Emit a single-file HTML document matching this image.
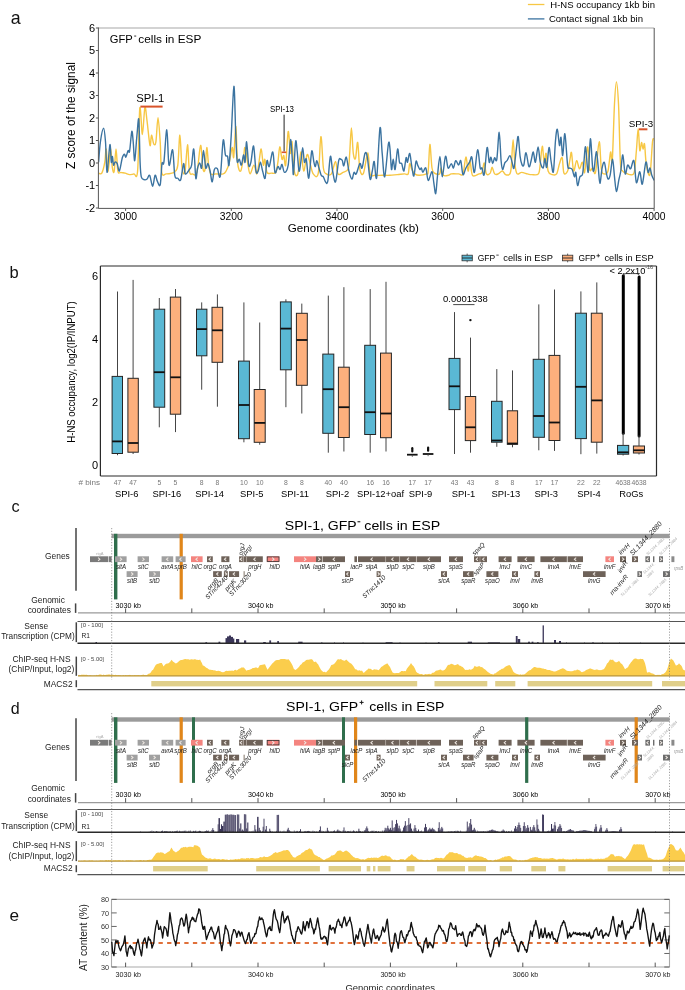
<!DOCTYPE html>
<html><head><meta charset="utf-8"><style>
html,body{margin:0;padding:0;background:#fff;overflow:hidden}
svg{display:block}
text{font-family:"Liberation Sans", sans-serif}
</style></head><body>
<svg style="will-change:transform" width="685" height="990" viewBox="0 0 685 990">
<rect width="685" height="990" fill="#fff"/>
<text x="10.8" y="23.8" font-size="17.8" fill="#111" >a</text>
<text x="9.6" y="278.2" font-size="16.5" fill="#111" >b</text>
<text x="11.6" y="512.4" font-size="16.3" fill="#111" >c</text>
<text x="10.8" y="714.4" font-size="16.0" fill="#111" >d</text>
<text x="9.4" y="921.2" font-size="17.2" fill="#111" >e</text>
<defs><clipPath id="ca"><rect x="98.4" y="28" width="556" height="181"/></clipPath></defs>
<g clip-path="url(#ca)">
<path d="M98.6,173.1 C99.1,173.1 100.8,174.9 101.8,173.1 C102.8,171.3 104.1,166.2 104.8,162.2 C105.5,158.2 105.7,147.5 106.2,149 C106.7,150.5 107.2,168.6 107.7,171 C108.2,173.4 108.6,167.3 109.1,163.6 C109.6,159.9 110.0,148.3 110.6,149 C111.1,149.7 111.8,164.3 112.4,168 C113.0,171.7 113.6,174.2 114.2,171 C114.8,167.8 115.4,149.0 116,149 C116.6,149.0 117.1,167.1 117.9,171 C118.7,174.9 119.6,172.1 120.8,172.4 C122.0,172.8 123.7,172.7 125.2,173.1 C126.7,173.5 128.1,174.5 129.6,174.6 C131.1,174.7 132.7,174.5 134,173.9 C135.3,173.3 136.6,181.9 137.6,171 C138.6,160.1 139.0,114.3 139.8,108.2 C140.6,102.1 141.6,134.6 142.4,134.5 C143.2,134.4 144.1,109.6 144.9,107.4 C145.7,105.2 146.2,115.0 147.1,121.3 C147.9,127.6 149.3,143.1 150,145.4 C150.7,147.7 150.9,135.4 151.5,135.2 C152.1,134.9 153.0,142.8 153.7,143.9 C154.4,145.0 155.2,146.2 155.9,141.8 C156.6,137.4 157.3,117.7 158,117.7 C158.7,117.7 159.6,132.7 160.2,141.8 C160.8,150.9 160.7,167.1 161.7,172.4 C162.7,177.8 164.4,173.8 166.1,173.9 C167.8,174.0 170.4,173.5 171.9,173.1 C173.4,172.7 173.8,173.0 174.8,171.7 C175.8,170.4 177.0,171.2 177.8,165.1 C178.7,159.0 179.2,134.7 179.9,135.2 C180.6,135.7 181.2,161.9 182.1,168 C182.9,174.1 184.1,175.6 185,171.7 C185.9,167.8 186.8,144.8 187.5,144.7 C188.2,144.6 188.6,166.1 189.4,171 C190.2,175.9 191.2,173.7 192.4,173.9 C193.7,174.1 195.5,177.2 196.9,172.4 C198.3,167.7 199.6,146.1 200.6,145.4 C201.6,144.7 202.1,164.0 202.8,168 C203.5,172.0 204.3,172.9 205,169.5 C205.7,166.1 206.2,148.3 206.8,147.6 C207.4,146.9 207.9,160.7 208.6,165.1 C209.3,169.5 209.6,172.4 210.8,173.9 C212.0,175.4 213.8,173.9 215.9,173.9 C218.0,173.9 221.5,174.4 223.2,173.9 C224.9,173.4 225.1,172.7 226.1,171 C227.1,169.3 228.0,167.5 229,163.6 C230.0,159.7 231.4,148.7 232.2,147.6 C233.0,146.5 233.1,160.6 233.7,157.1 C234.3,153.6 235.3,125.6 235.9,126.4 C236.5,127.2 236.7,154.8 237.5,162.2 C238.3,169.6 239.7,172.0 240.7,171 C241.7,170.0 242.9,160.3 243.6,156.4 C244.3,152.5 244.4,146.2 245.1,147.6 C245.8,149.0 247.2,160.7 248,165.1 C248.8,169.5 249.2,173.9 250.2,173.9 C251.2,173.9 252.8,165.1 253.9,165.1 C255.0,165.1 256.0,174.4 256.8,173.9 C257.7,173.4 258.3,166.3 259,162.2 C259.7,158.0 260.5,148.5 261.2,149 C261.9,149.5 262.7,163.4 263.3,165.1 C263.9,166.8 264.2,158.1 264.8,159.3 C265.4,160.5 265.9,170.1 267,172.4 C268.1,174.7 269.9,173.1 271.4,173.1 C272.9,173.1 274.7,174.2 275.8,172.4 C276.9,170.6 277.2,166.4 277.9,162.2 C278.6,157.9 279.1,147.4 279.8,146.9 C280.5,146.4 281.3,157.9 282,159.3 C282.7,160.8 283.2,154.6 283.8,155.6 C284.4,156.6 285.0,169.1 285.7,165.1 C286.4,161.1 287.4,133.4 288.2,131.5 C289.0,129.6 289.8,151.7 290.4,153.4 C291.0,155.1 291.4,138.9 292,141.8 C292.6,144.7 293.2,165.7 294.2,171 C295.2,176.3 296.7,177.1 297.8,173.9 C298.9,170.7 300.0,152.5 301,152 C302.0,151.5 302.7,170.5 303.7,171 C304.7,171.5 306.0,156.6 307,154.9 C308.0,153.2 308.5,157.5 309.5,160.7 C310.5,163.9 311.7,171.8 313.2,173.9 C314.7,176.0 317.0,179.3 318.3,173.1 C319.6,166.9 320.0,137.4 320.9,136.6 C321.8,135.8 322.5,161.8 323.4,168 C324.3,174.2 325.0,172.9 326.3,173.9 C327.6,174.9 329.9,176.0 331.4,173.9 C332.9,171.8 334.4,161.5 335.5,161.5 C336.6,161.5 336.7,172.1 338,173.9 C339.3,175.7 341.4,173.2 343.1,172.4 C344.8,171.6 347.1,172.0 348.2,168.8 C349.3,165.6 349.2,160.2 349.7,153.4 C350.2,146.6 350.8,127.9 351.4,127.9 C352.0,127.9 352.6,148.3 353.3,153.4 C354.0,158.5 354.8,160.3 355.5,158.5 C356.2,156.7 357.0,140.7 357.7,142.5 C358.4,144.3 358.9,164.4 359.9,169.5 C360.9,174.6 362.2,175.9 363.5,173.1 C364.8,170.3 366.8,152.6 367.9,152.7 C369.0,152.8 368.9,170.1 370.1,173.9 C371.3,177.7 373.1,175.1 375.2,175.3 C377.3,175.5 380.0,175.3 382.5,175.3 C385.0,175.3 387.5,175.4 390,175.3 C392.5,175.2 394.9,174.8 397.3,174.6 C399.7,174.4 402.8,174.0 404.6,173.9 C406.4,173.8 407.4,175.6 408.2,173.9 C409.0,172.2 409.1,164.3 409.7,163.6 C410.3,162.9 411.0,167.8 411.9,169.5 C412.8,171.2 413.6,172.9 414.8,173.9 C416.0,174.9 417.2,175.3 419.2,175.3 C421.1,175.3 425.0,174.6 426.5,173.9 C428.0,173.2 427.6,175.9 428.2,171 C428.8,166.1 429.3,144.9 429.9,144.4 C430.5,143.9 431.2,163.2 432,168 C432.8,172.8 433.2,172.1 434.5,173.1 C435.8,174.1 438.5,174.8 439.6,173.9 C440.7,173.1 440.5,167.8 441.1,168 C441.7,168.2 442.1,174.1 443.3,175.3 C444.5,176.5 447.1,175.5 448.4,175.3 C449.7,175.1 449.6,174.1 451.3,173.9 C453.0,173.7 456.7,173.9 458.6,173.9 C460.6,173.9 461.8,176.7 463,173.9 C464.2,171.1 465.0,157.6 465.9,157.1 C466.8,156.6 467.4,170.4 468.1,171 C468.8,171.6 469.3,160.0 470,160.7 C470.7,161.4 471.0,173.1 472.5,175.3 C474.0,177.5 477.5,174.4 479.1,173.9 C480.7,173.4 481.1,174.2 482,172.4 C482.9,170.6 483.5,162.7 484.2,162.9 C484.9,163.2 485.4,172.2 486.4,173.9 C487.4,175.6 489.2,174.2 490.2,173.1 C491.1,172.0 491.4,167.2 492.1,167.3 C492.8,167.4 493.6,172.8 494.6,173.9 C495.6,175.0 496.9,174.4 498.2,173.9 C499.5,173.4 501.1,170.9 502.3,171 C503.5,171.1 504.2,174.1 505.5,174.6 C506.8,175.1 508.9,175.5 509.9,173.9 C510.9,172.3 510.9,170.8 511.4,165.1 C511.9,159.4 512.5,139.6 513.1,139.6 C513.7,139.6 514.3,159.4 515,165.1 C515.7,170.8 516.1,172.7 517.2,173.9 C518.3,175.1 519.9,172.4 521.6,172.4 C523.3,172.4 525.7,173.5 527.4,173.9 C529.1,174.3 530.0,174.6 531.8,174.6 C533.6,174.6 537.0,175.7 538.4,173.9 C539.8,172.1 539.6,168.2 540.3,163.6 C540.9,159.0 541.6,146.3 542.3,146.1 C542.9,145.9 543.6,161.0 544.2,162.2 C544.8,163.4 545.5,151.9 546.1,153.4 C546.8,154.9 547.1,167.5 548.1,171 C549.1,174.5 550.8,174.1 552.2,174.6 C553.6,175.1 555.4,175.7 556.6,173.9 C557.8,172.1 558.6,166.3 559.5,163.6 C560.4,160.9 561.5,156.2 562.2,157.8 C562.9,159.4 563.0,170.9 563.9,173.1 C564.8,175.3 566.6,173.3 567.6,171 C568.6,168.7 569.4,162.4 570,159.3 C570.6,156.2 570.9,150.8 571.5,152.7 C572.1,154.6 572.8,169.7 573.6,171 C574.5,172.3 575.6,161.1 576.6,160.7 C577.6,160.3 578.5,168.6 579.5,168.8 C580.5,169.1 581.5,161.6 582.4,162.2 C583.2,162.8 583.8,174.9 584.6,172.4 C585.5,169.9 586.6,147.4 587.5,146.9 C588.4,146.4 588.9,166.0 589.7,169.5 C590.6,173.0 591.6,167.5 592.6,168 C593.6,168.5 594.4,176.8 595.5,172.4 C596.6,168.0 598.2,142.3 599.2,141.8 C600.2,141.3 600.5,164.2 601.4,169.5 C602.2,174.8 603.2,173.7 604.3,173.9 C605.4,174.2 607.0,174.7 608,171 C609.0,167.3 609.9,153.7 610.6,152 C611.3,150.3 611.6,168.7 612.3,160.7 C612.9,152.7 613.8,116.9 614.5,103.8 C615.2,90.7 615.7,81.9 616.4,81.9 C617.1,81.9 617.8,90.4 618.5,103.8 C619.2,117.2 619.7,151.0 620.4,162.2 C621.1,173.4 621.6,169.2 622.6,171 C623.6,172.8 625.0,172.5 626.2,173.1 C627.4,173.7 628.6,174.7 629.9,174.6 C631.2,174.5 633.1,176.4 634.2,172.4 C635.3,168.4 635.7,157.8 636.4,150.5 C637.1,143.2 637.6,128.6 638.2,128.6 C638.8,128.6 639.2,148.2 639.8,150.5 C640.3,152.8 641.0,142.8 641.5,142.5 C642.0,142.2 642.5,148.8 643,149 C643.5,149.2 644.0,142.0 644.5,143.9 C645.0,145.8 645.3,155.8 645.9,160.7 C646.5,165.6 647.4,171.1 648.1,173.1 C648.8,175.1 649.6,177.6 650.3,172.4 C651.0,167.2 651.9,147.3 652.5,141.8 C653.1,136.3 653.7,140.0 653.9,139.6" fill="none" stroke="#f7c744" stroke-width="1.4" stroke-linejoin="round"/>
<path d="M98.6,162.2 C98.9,158.8 99.6,147.5 100.4,141.8 C101.2,136.2 102.8,128.3 103.6,128.3 C104.4,128.3 104.9,134.5 105.5,141.8 C106.1,149.2 106.3,171.9 107,172.4 C107.7,172.9 109.2,146.4 109.9,144.7 C110.6,143.0 110.9,160.2 111.3,162.2 C111.7,164.1 112.0,155.9 112.4,156.4 C112.8,156.9 113.1,164.1 113.5,165.1 C113.9,166.1 114.4,162.4 115,162.2 C115.6,161.9 116.5,162.1 117.2,163.6 C117.9,165.1 118.6,172.0 119.4,171 C120.2,170.0 121.5,160.6 122.3,157.8 C123.1,155.0 123.9,154.3 124.5,154.2 C125.1,154.1 125.3,157.7 125.9,157.1 C126.5,156.5 127.5,151.5 128.1,150.5 C128.7,149.5 129.0,154.4 129.6,151.2 C130.2,148.0 131.2,133.1 131.8,131.5 C132.4,129.9 132.7,136.9 133.2,141.8 C133.7,146.7 134.1,161.7 134.7,160.7 C135.3,159.7 136.2,142.8 136.9,135.9 C137.6,129.1 138.3,115.2 138.8,119.6 C139.3,124.0 139.7,152.7 140.1,162.2 C140.5,171.7 140.6,173.9 141.3,176.8 C142.0,179.7 143.2,179.3 144.2,179.7 C145.2,180.1 146.2,179.7 147.1,179 C148.0,178.3 148.8,174.1 149.7,175.3 C150.6,176.5 151.7,186.3 152.6,186.3 C153.5,186.3 154.3,176.2 155.1,175.3 C155.9,174.5 156.5,179.6 157.3,181.2 C158.2,182.8 159.4,187.7 160.2,184.8 C161.0,181.9 161.4,167.4 162,163.6 C162.6,159.8 163.1,167.8 163.9,162.2 C164.7,156.6 166.0,129.3 166.8,129.8 C167.7,130.3 168.0,161.8 169,165.1 C170.0,168.4 171.6,148.1 172.6,149.8 C173.6,151.5 173.9,170.6 174.8,175.3 C175.7,180.0 176.8,177.5 177.8,178.2 C178.8,178.9 179.7,182.1 180.7,179.7 C181.7,177.3 182.8,164.6 183.6,163.6 C184.4,162.6 184.3,172.9 185.3,173.9 C186.3,174.9 188.4,171.0 189.4,169.5 C190.4,168.0 190.9,168.5 191.6,165.1 C192.3,161.7 193.1,146.9 193.8,149.1 C194.5,151.3 195.2,175.0 195.8,178.2 C196.4,181.3 196.9,170.6 197.6,168 C198.3,165.4 199.1,162.9 199.8,162.9 C200.5,162.9 201.0,170.1 201.6,168 C202.2,165.9 202.8,150.5 203.5,150.5 C204.2,150.5 205.0,165.8 205.7,168 C206.4,170.2 207.2,163.1 207.9,163.6 C208.6,164.1 209.4,167.9 210.1,171 C210.8,174.1 211.5,182.2 212.2,181.9 C212.9,181.7 213.5,171.7 214.4,169.5 C215.3,167.3 216.4,167.7 217.4,168.8 C218.4,169.9 219.3,180.8 220.3,176.1 C221.3,171.3 222.3,143.8 223.2,140.3 C224.0,136.8 224.7,152.2 225.4,154.9 C226.1,157.6 227.0,154.7 227.6,156.4 C228.2,158.1 228.4,168.5 229,165.1 C229.6,161.7 230.4,149.0 231.2,135.9 C232.0,122.8 233.2,87.3 233.9,86.3 C234.6,85.3 235.1,117.7 235.6,130.1 C236.1,142.5 236.5,155.8 237.1,160.7 C237.7,165.6 238.6,158.6 239.3,159.3 C240.0,160.0 240.7,165.8 241.4,165.1 C242.1,164.4 243.0,155.4 243.6,154.9 C244.2,154.4 244.6,164.4 245.1,162.2 C245.6,160.0 246.0,141.3 246.6,141.8 C247.2,142.3 248.0,161.7 248.7,165.1 C249.4,168.5 250.1,165.4 250.9,162.2 C251.7,159.0 252.8,144.6 253.6,146.1 C254.4,147.6 255.2,166.8 256,171 C256.8,175.2 257.5,172.5 258.2,171 C258.9,169.5 259.7,162.2 260.4,162.2 C261.1,162.2 261.8,168.3 262.6,171 C263.4,173.7 264.4,179.9 265.1,178.2 C265.8,176.5 266.3,162.6 267,160.7 C267.7,158.8 268.2,168.0 269.2,166.6 C270.2,165.2 271.8,151.0 272.8,152 C273.8,153.0 274.1,170.0 275,172.4 C275.9,174.8 277.0,167.1 277.9,166.6 C278.8,166.1 279.4,169.9 280.1,169.5 C280.8,169.1 281.3,163.9 282,164.4 C282.7,164.9 283.5,172.3 284.5,172.4 C285.5,172.5 287.2,170.6 288.2,165.1 C289.2,159.6 289.9,140.1 290.6,139.6 C291.3,139.1 292.0,156.5 292.5,162.2 C293.0,167.9 293.0,177.3 293.5,173.9 C294.0,170.5 295.0,145.7 295.6,141.8 C296.2,137.9 296.5,145.6 297.1,150.5 C297.7,155.4 298.4,169.1 299,171 C299.6,172.9 300.2,166.1 300.8,162.2 C301.4,158.3 302.1,147.6 302.7,147.6 C303.3,147.6 303.8,160.2 304.4,162.2 C305.0,164.1 305.6,156.6 306.3,159.3 C307.0,162.0 307.9,179.5 308.8,178.2 C309.7,176.8 310.9,153.9 311.7,151.2 C312.5,148.5 313.3,159.6 313.9,162.2 C314.5,164.8 314.9,166.8 315.4,166.6 C315.9,166.3 316.2,160.5 316.8,160.7 C317.4,160.9 318.3,165.6 319,168 C319.7,170.4 320.5,173.8 321.2,175.3 C321.9,176.8 322.7,175.7 323.4,176.8 C324.1,177.9 324.9,181.2 325.6,181.9 C326.3,182.6 327.0,185.4 327.8,181.2 C328.6,176.9 329.6,158.1 330.4,156.4 C331.2,154.7 331.8,166.8 332.6,171 C333.5,175.2 334.5,183.6 335.5,181.9 C336.5,180.2 337.8,164.5 338.7,160.7 C339.6,156.9 340.3,159.3 340.9,159.3 C341.5,159.3 341.9,159.6 342.4,160.7 C342.9,161.8 343.1,166.4 343.8,165.8 C344.5,165.2 345.5,156.2 346.3,157.1 C347.1,158.0 348.0,167.3 348.9,171 C349.8,174.7 351.0,178.8 351.9,179 C352.8,179.2 353.3,173.2 354,172.4 C354.7,171.6 355.2,175.4 356.2,173.9 C357.2,172.4 358.9,164.6 359.9,163.6 C360.9,162.6 361.2,169.7 362.1,168 C363.0,166.3 364.1,155.3 365,153.4 C365.9,151.5 366.3,152.1 367.2,156.4 C368.1,160.7 369.2,176.6 370.1,179 C371.0,181.4 371.6,173.9 372.3,171 C373.0,168.1 373.5,160.4 374.2,161.5 C374.9,162.6 375.7,183.1 376.7,177.5 C377.7,171.9 379.1,131.9 380,127.9 C380.9,123.9 381.4,145.2 382.2,153.4 C383.0,161.6 383.7,178.4 384.7,176.8 C385.7,175.2 387.5,148.5 388.4,143.9 C389.3,139.3 389.5,144.7 390,149 C390.5,153.3 391.0,167.8 391.5,169.5 C392.0,171.2 392.6,159.3 393.2,159.3 C393.8,159.3 394.4,171.2 395.1,169.5 C395.8,167.8 396.9,150.2 397.6,149 C398.3,147.8 398.8,159.8 399.5,162.2 C400.2,164.6 401.0,162.1 401.7,163.6 C402.4,165.1 403.2,172.0 403.9,171 C404.6,170.0 405.5,159.3 406.1,157.8 C406.7,156.3 406.9,162.9 407.5,162.2 C408.1,161.5 409.0,152.9 409.7,153.4 C410.4,153.9 410.9,161.3 411.6,165.1 C412.3,168.9 413.1,176.7 413.8,176.1 C414.5,175.5 415.4,163.3 416,161.5 C416.6,159.7 417.1,163.8 417.7,165.1 C418.3,166.4 419.3,169.0 419.9,169.5 C420.5,170.0 420.9,167.5 421.4,168 C421.9,168.5 422.1,172.4 422.8,172.4 C423.5,172.4 424.9,166.7 425.8,168 C426.7,169.3 427.2,179.8 428.2,180.4 C429.2,181.0 431.1,171.3 432,171.7 C432.9,172.1 433.2,178.9 433.8,182.6 C434.4,186.2 435.1,194.6 435.7,193.6 C436.3,192.6 436.7,183.0 437.4,176.8 C438.1,170.6 439.1,156.4 439.9,156.4 C440.7,156.4 441.4,176.8 442.3,176.8 C443.2,176.8 444.5,157.9 445.5,156.4 C446.5,154.9 447.1,166.8 448.1,168 C449.1,169.2 450.4,163.6 451.3,163.6 C452.2,163.6 452.8,168.5 453.5,168 C454.2,167.5 454.8,161.2 455.7,160.7 C456.6,160.2 457.8,165.1 458.6,165.1 C459.5,165.1 460.1,159.1 460.8,160.7 C461.5,162.3 462.1,173.4 463,174.6 C463.9,175.8 464.8,170.1 465.9,168 C467.0,165.9 468.6,164.0 469.6,162.2 C470.6,160.4 471.0,155.4 471.8,157.1 C472.6,158.8 473.4,173.6 474.4,172.4 C475.4,171.2 476.6,150.5 477.6,149.8 C478.6,149.1 479.5,165.0 480.2,168 C480.9,171.0 481.3,166.9 482,168 C482.7,169.1 483.3,178.0 484.2,174.6 C485.1,171.2 486.3,149.7 487.1,147.6 C487.9,145.5 488.6,160.6 489.2,162.2 C489.8,163.8 490.3,156.9 490.9,157.1 C491.5,157.3 492.1,163.5 492.7,163.6 C493.3,163.7 493.9,158.5 494.6,157.8 C495.3,157.1 496.0,163.6 496.8,159.3 C497.6,155.1 498.5,132.1 499.2,132.3 C499.9,132.5 500.5,154.5 501.1,160.7 C501.7,166.9 502.0,169.1 502.6,169.5 C503.2,169.9 504.1,164.4 504.8,162.9 C505.5,161.4 506.1,161.9 507,160.7 C507.9,159.5 509.0,155.3 509.9,155.6 C510.8,155.8 511.4,160.1 512.1,162.2 C512.8,164.3 513.3,170.4 514,168 C514.7,165.6 515.8,152.8 516.5,147.6 C517.2,142.4 517.6,135.1 518.2,136.6 C518.8,138.1 519.5,151.8 520.1,156.4 C520.7,161.0 521.3,163.0 521.9,164.4 C522.5,165.8 523.1,167.1 523.8,165.1 C524.5,163.1 525.1,152.4 526,152.7 C526.9,152.9 528.0,165.3 528.9,166.6 C529.8,167.9 530.4,163.1 531.1,160.7 C531.8,158.3 532.6,151.8 533.3,152 C534.0,152.2 534.6,163.0 535.4,162.2 C536.2,161.3 537.3,146.9 538.1,146.9 C538.9,146.9 539.4,158.7 540.3,162.2 C541.1,165.7 542.4,168.6 543.2,168 C544.0,167.4 544.3,158.6 544.9,158.5 C545.5,158.4 546.0,169.1 546.7,167.3 C547.4,165.5 548.3,148.6 549,147.6 C549.7,146.6 550.4,157.5 551.1,161.5 C551.8,165.5 552.7,175.0 553.4,171.7 C554.1,168.4 554.8,148.9 555.4,141.8 C556.0,134.7 556.6,128.7 557.3,129.3 C558.0,129.9 558.9,144.1 559.5,145.4 C560.1,146.8 560.5,135.7 561,137.4 C561.5,139.1 562.1,156.2 562.7,155.6 C563.4,155.0 564.1,132.1 564.9,133.7 C565.7,135.3 566.8,159.4 567.6,165.1 C568.4,170.8 569.0,167.3 569.8,168 C570.6,168.7 571.4,168.0 572.2,169.5 C573.0,171.0 573.8,176.3 574.4,176.8 C575.0,177.3 575.3,171.0 575.8,172.4 C576.3,173.8 576.9,184.8 577.6,185.5 C578.3,186.2 579.1,178.6 579.9,176.8 C580.7,175.0 581.7,177.0 582.4,174.6 C583.1,172.2 583.4,166.8 583.9,162.2 C584.4,157.6 584.9,145.2 585.6,146.9 C586.3,148.6 587.4,173.8 588.2,172.4 C589.0,171.1 589.7,139.7 590.4,138.8 C591.1,138.0 592.0,162.2 592.6,167.3 C593.2,172.4 593.5,172.1 594.1,169.5 C594.7,166.9 595.6,152.2 596.3,151.7 C597.0,151.2 597.6,161.3 598.2,166.6 C598.8,171.9 599.2,183.2 599.9,183.4 C600.5,183.6 601.4,171.5 602.1,168 C602.8,164.5 603.6,161.5 604.3,162.2 C605.0,162.9 605.6,169.6 606.2,172.4 C606.8,175.2 607.4,178.5 608,179 C608.6,179.5 609.3,178.6 610.1,175.3 C610.9,172.0 611.9,159.1 612.6,159.3 C613.3,159.6 613.9,171.5 614.5,176.8 C615.1,182.2 615.7,190.9 616.4,191.4 C617.1,191.9 618.2,183.1 618.9,179.7 C619.6,176.3 620.1,175.1 620.8,171 C621.4,166.9 622.1,154.4 622.8,154.9 C623.5,155.4 624.4,172.2 625.2,173.9 C626.0,175.6 626.8,165.9 627.7,165.1 C628.6,164.2 629.6,169.5 630.6,168.8 C631.6,168.1 632.9,158.4 633.9,160.7 C634.9,163.0 635.4,180.8 636.4,182.6 C637.4,184.4 638.8,171.4 639.8,171.7 C640.8,171.9 641.3,185.7 642.3,184.1 C643.3,182.5 644.9,164.1 645.9,162.2 C646.9,160.2 647.4,171.4 648.1,172.4 C648.8,173.4 649.4,167.5 650,168 C650.6,168.5 651.1,173.2 651.8,175.3 C652.5,177.4 653.8,179.6 654.2,180.4" fill="none" stroke="#3b73a0" stroke-width="1.4" stroke-linejoin="round"/>
</g>
<line x1="98.4" y1="28" x2="654.2" y2="28" stroke="#c4c4c4" stroke-width="1.4" />
<line x1="654.2" y1="28" x2="654.2" y2="208.4" stroke="#555" stroke-width="1" />
<line x1="98.4" y1="27.5" x2="98.4" y2="208.4" stroke="#555" stroke-width="1" />
<line x1="98.4" y1="208.4" x2="654.2" y2="208.4" stroke="#555" stroke-width="1" />
<line x1="95.9" y1="208.0" x2="98.4" y2="208.0" stroke="#555" stroke-width="1" />
<text x="95.2" y="211.9" font-size="11" text-anchor="end" >-2</text>
<line x1="95.9" y1="185.5" x2="98.4" y2="185.5" stroke="#555" stroke-width="1" />
<text x="95.2" y="189.4" font-size="11" text-anchor="end" >-1</text>
<line x1="95.9" y1="163.0" x2="98.4" y2="163.0" stroke="#555" stroke-width="1" />
<text x="95.2" y="166.9" font-size="11" text-anchor="end" >0</text>
<line x1="95.9" y1="140.5" x2="98.4" y2="140.5" stroke="#555" stroke-width="1" />
<text x="95.2" y="144.4" font-size="11" text-anchor="end" >1</text>
<line x1="95.9" y1="118.0" x2="98.4" y2="118.0" stroke="#555" stroke-width="1" />
<text x="95.2" y="121.9" font-size="11" text-anchor="end" >2</text>
<line x1="95.9" y1="95.5" x2="98.4" y2="95.5" stroke="#555" stroke-width="1" />
<text x="95.2" y="99.4" font-size="11" text-anchor="end" >3</text>
<line x1="95.9" y1="73.0" x2="98.4" y2="73.0" stroke="#555" stroke-width="1" />
<text x="95.2" y="76.9" font-size="11" text-anchor="end" >4</text>
<line x1="95.9" y1="50.5" x2="98.4" y2="50.5" stroke="#555" stroke-width="1" />
<text x="95.2" y="54.4" font-size="11" text-anchor="end" >5</text>
<line x1="95.9" y1="28.0" x2="98.4" y2="28.0" stroke="#555" stroke-width="1" />
<text x="95.2" y="31.9" font-size="11" text-anchor="end" >6</text>
<line x1="125.6" y1="208.4" x2="125.6" y2="210.9" stroke="#555" stroke-width="1" />
<text x="125.6" y="220.4" font-size="10.8" text-anchor="middle" textLength="23" lengthAdjust="spacingAndGlyphs" >3000</text>
<line x1="231.3" y1="208.4" x2="231.3" y2="210.9" stroke="#555" stroke-width="1" />
<text x="231.3" y="220.4" font-size="10.8" text-anchor="middle" textLength="23" lengthAdjust="spacingAndGlyphs" >3200</text>
<line x1="337.0" y1="208.4" x2="337.0" y2="210.9" stroke="#555" stroke-width="1" />
<text x="337.0" y="220.4" font-size="10.8" text-anchor="middle" textLength="23" lengthAdjust="spacingAndGlyphs" >3400</text>
<line x1="442.70000000000005" y1="208.4" x2="442.70000000000005" y2="210.9" stroke="#555" stroke-width="1" />
<text x="442.70000000000005" y="220.4" font-size="10.8" text-anchor="middle" textLength="23" lengthAdjust="spacingAndGlyphs" >3600</text>
<line x1="548.4" y1="208.4" x2="548.4" y2="210.9" stroke="#555" stroke-width="1" />
<text x="548.4" y="220.4" font-size="10.8" text-anchor="middle" textLength="23" lengthAdjust="spacingAndGlyphs" >3800</text>
<line x1="654.1" y1="208.4" x2="654.1" y2="210.9" stroke="#555" stroke-width="1" />
<text x="654.1" y="220.4" font-size="10.8" text-anchor="middle" textLength="23" lengthAdjust="spacingAndGlyphs" >4000</text>
<text x="287.8" y="232.4" font-size="11.3" textLength="131.2" lengthAdjust="spacingAndGlyphs" >Genome coordinates (kb)</text>
<text x="75.2" y="115.5" font-size="11.9" text-anchor="middle" textLength="107" lengthAdjust="spacingAndGlyphs" transform="rotate(-90 75.2 115.5)" >Z score of the signal</text>
<text x="109.7" y="42.6" font-size="11.2" textLength="23" lengthAdjust="spacingAndGlyphs" >GFP</text>
<rect x="134.2" y="35.6" width="2.0" height="0.9" fill="#1a1a1a" />
<text x="138.3" y="42.6" font-size="11.2" textLength="63.1" lengthAdjust="spacingAndGlyphs" >cells in ESP</text>
<text x="136.2" y="101.6" font-size="11.2" textLength="28.2" lengthAdjust="spacingAndGlyphs" >SPI-1</text>
<line x1="140.4" y1="106.6" x2="162.6" y2="106.6" stroke="#d9542b" stroke-width="2" />
<text x="269.9" y="111.5" font-size="9.3" textLength="24.1" lengthAdjust="spacingAndGlyphs" >SPI-13</text>
<line x1="284.1" y1="114.7" x2="284.1" y2="151.5" stroke="#222" stroke-width="1" />
<line x1="281.6" y1="152.3" x2="286.3" y2="152.3" stroke="#d9542b" stroke-width="1.6" />
<text x="628.8" y="126.8" font-size="9.3" textLength="24.4" lengthAdjust="spacingAndGlyphs" >SPI-3</text>
<line x1="638.9" y1="129.3" x2="647.4" y2="129.3" stroke="#d9542b" stroke-width="2" />
<line x1="527.9" y1="4.5" x2="544.4" y2="4.5" stroke="#f7c744" stroke-width="1.3" />
<line x1="527.9" y1="18.9" x2="544.4" y2="18.9" stroke="#3b73a0" stroke-width="1.3" />
<text x="550.3" y="8.0" font-size="9.6" textLength="104.7" lengthAdjust="spacingAndGlyphs" >H-NS occupancy 1kb bin</text>
<text x="548.9" y="22.4" font-size="9.6" textLength="94.1" lengthAdjust="spacingAndGlyphs" >Contact signal 1kb bin</text>
<line x1="100.4" y1="266" x2="656.5" y2="266" stroke="#2a2a2a" stroke-width="1.2" />
<line x1="656.5" y1="266" x2="656.5" y2="476" stroke="#2a2a2a" stroke-width="1.2" />
<line x1="100.4" y1="266" x2="100.4" y2="476" stroke="#2a2a2a" stroke-width="1.2" />
<line x1="100.4" y1="476" x2="656.5" y2="476" stroke="#2a2a2a" stroke-width="1.2" />
<text x="98" y="468.9" font-size="11" text-anchor="end" >0</text>
<text x="98" y="405.79999999999995" font-size="11" text-anchor="end" >2</text>
<text x="98" y="342.7" font-size="11" text-anchor="end" >4</text>
<text x="98" y="279.59999999999997" font-size="11" text-anchor="end" >6</text>
<text x="74.8" y="372" font-size="10.2" text-anchor="middle" textLength="141.4" lengthAdjust="spacingAndGlyphs" transform="rotate(-90 74.8 372)" >H-NS occupancy, log2(IP/INPUT)</text>
<line x1="117.5" y1="291.5" x2="117.5" y2="376.4" stroke="#444" stroke-width="1" />
<line x1="117.5" y1="453.5" x2="117.5" y2="455.2" stroke="#444" stroke-width="1" />
<rect x="112.1" y="376.4" width="10.400000000000006" height="77.10000000000002" fill="#5ab8d4" stroke="#262626" stroke-width="1.0" />
<line x1="112.1" y1="441.4" x2="122.5" y2="441.4" stroke="#111" stroke-width="1.8" />
<line x1="133.1" y1="279.9" x2="133.1" y2="378.3" stroke="#444" stroke-width="1" />
<line x1="133.1" y1="452.2" x2="133.1" y2="454.0" stroke="#444" stroke-width="1" />
<rect x="127.9" y="378.3" width="10.400000000000006" height="73.89999999999998" fill="#fdb07d" stroke="#262626" stroke-width="1.0" />
<line x1="127.9" y1="443.0" x2="138.3" y2="443.0" stroke="#111" stroke-width="1.8" />
<line x1="159.3" y1="298.0" x2="159.3" y2="309.2" stroke="#444" stroke-width="1" />
<line x1="159.3" y1="407.2" x2="159.3" y2="427.3" stroke="#444" stroke-width="1" />
<rect x="153.9" y="309.2" width="10.799999999999983" height="98.0" fill="#5ab8d4" stroke="#262626" stroke-width="1.0" />
<line x1="153.9" y1="372.2" x2="164.7" y2="372.2" stroke="#111" stroke-width="1.8" />
<line x1="175.5" y1="289.0" x2="175.5" y2="297.1" stroke="#444" stroke-width="1" />
<line x1="175.5" y1="414.2" x2="175.5" y2="432.1" stroke="#444" stroke-width="1" />
<rect x="170.3" y="297.1" width="10.399999999999977" height="117.09999999999997" fill="#fdb07d" stroke="#262626" stroke-width="1.0" />
<line x1="170.3" y1="377.3" x2="180.7" y2="377.3" stroke="#111" stroke-width="1.8" />
<line x1="201.7" y1="302.4" x2="201.7" y2="309.2" stroke="#444" stroke-width="1" />
<line x1="201.7" y1="355.8" x2="201.7" y2="389.7" stroke="#444" stroke-width="1" />
<rect x="196.5" y="309.2" width="10.400000000000006" height="46.60000000000002" fill="#5ab8d4" stroke="#262626" stroke-width="1.0" />
<line x1="196.5" y1="329.1" x2="206.9" y2="329.1" stroke="#111" stroke-width="1.8" />
<line x1="217.4" y1="294.4" x2="217.4" y2="307.3" stroke="#444" stroke-width="1" />
<line x1="217.4" y1="362.3" x2="217.4" y2="406.7" stroke="#444" stroke-width="1" />
<rect x="212.0" y="307.3" width="10.699999999999989" height="55.0" fill="#fdb07d" stroke="#262626" stroke-width="1.0" />
<line x1="212.0" y1="330.3" x2="222.7" y2="330.3" stroke="#111" stroke-width="1.8" />
<line x1="243.9" y1="302.4" x2="243.9" y2="361.1" stroke="#444" stroke-width="1" />
<line x1="243.9" y1="438.7" x2="243.9" y2="442.3" stroke="#444" stroke-width="1" />
<rect x="238.5" y="361.1" width="10.900000000000006" height="77.59999999999997" fill="#5ab8d4" stroke="#262626" stroke-width="1.0" />
<line x1="238.5" y1="405.0" x2="249.4" y2="405.0" stroke="#111" stroke-width="1.8" />
<line x1="259.7" y1="322.5" x2="259.7" y2="389.5" stroke="#444" stroke-width="1" />
<line x1="259.7" y1="442.3" x2="259.7" y2="444.7" stroke="#444" stroke-width="1" />
<rect x="254.2" y="389.5" width="11.0" height="52.80000000000001" fill="#fdb07d" stroke="#262626" stroke-width="1.0" />
<line x1="254.2" y1="422.9" x2="265.2" y2="422.9" stroke="#111" stroke-width="1.8" />
<line x1="285.9" y1="299.3" x2="285.9" y2="301.9" stroke="#444" stroke-width="1" />
<line x1="285.9" y1="369.8" x2="285.9" y2="407.2" stroke="#444" stroke-width="1" />
<rect x="280.4" y="301.9" width="10.900000000000034" height="67.90000000000003" fill="#5ab8d4" stroke="#262626" stroke-width="1.0" />
<line x1="280.4" y1="328.6" x2="291.3" y2="328.6" stroke="#111" stroke-width="1.8" />
<line x1="301.8" y1="303.6" x2="301.8" y2="313.3" stroke="#444" stroke-width="1" />
<line x1="301.8" y1="385.3" x2="301.8" y2="413.5" stroke="#444" stroke-width="1" />
<rect x="296.4" y="313.3" width="10.900000000000034" height="72.0" fill="#fdb07d" stroke="#262626" stroke-width="1.0" />
<line x1="296.4" y1="340.0" x2="307.3" y2="340.0" stroke="#111" stroke-width="1.8" />
<line x1="328.3" y1="295.6" x2="328.3" y2="354.1" stroke="#444" stroke-width="1" />
<line x1="328.3" y1="433.3" x2="328.3" y2="452.7" stroke="#444" stroke-width="1" />
<rect x="322.8" y="354.1" width="11.0" height="79.19999999999999" fill="#5ab8d4" stroke="#262626" stroke-width="1.0" />
<line x1="322.8" y1="389.2" x2="333.8" y2="389.2" stroke="#111" stroke-width="1.8" />
<line x1="343.9" y1="287.2" x2="343.9" y2="367.2" stroke="#444" stroke-width="1" />
<line x1="343.9" y1="437.5" x2="343.9" y2="451.5" stroke="#444" stroke-width="1" />
<rect x="338.4" y="367.2" width="10.900000000000034" height="70.30000000000001" fill="#fdb07d" stroke="#262626" stroke-width="1.0" />
<line x1="338.4" y1="407.2" x2="349.3" y2="407.2" stroke="#111" stroke-width="1.8" />
<line x1="370.2" y1="289.1" x2="370.2" y2="345.3" stroke="#444" stroke-width="1" />
<line x1="370.2" y1="434.5" x2="370.2" y2="452.7" stroke="#444" stroke-width="1" />
<rect x="364.7" y="345.3" width="10.900000000000034" height="89.19999999999999" fill="#5ab8d4" stroke="#262626" stroke-width="1.0" />
<line x1="364.7" y1="412.2" x2="375.6" y2="412.2" stroke="#111" stroke-width="1.8" />
<line x1="386.0" y1="281.8" x2="386.0" y2="353.1" stroke="#444" stroke-width="1" />
<line x1="386.0" y1="437.7" x2="386.0" y2="451.5" stroke="#444" stroke-width="1" />
<rect x="380.5" y="353.1" width="10.899999999999977" height="84.59999999999997" fill="#fdb07d" stroke="#262626" stroke-width="1.0" />
<line x1="380.5" y1="413.5" x2="391.4" y2="413.5" stroke="#111" stroke-width="1.8" />
<line x1="454.5" y1="312.1" x2="454.5" y2="358.4" stroke="#444" stroke-width="1" />
<line x1="454.5" y1="409.6" x2="454.5" y2="454.0" stroke="#444" stroke-width="1" />
<rect x="449.0" y="358.4" width="11.0" height="51.200000000000045" fill="#5ab8d4" stroke="#262626" stroke-width="1.0" />
<line x1="449.0" y1="386.3" x2="460.0" y2="386.3" stroke="#111" stroke-width="1.8" />
<line x1="470.5" y1="337.6" x2="470.5" y2="396.5" stroke="#444" stroke-width="1" />
<line x1="470.5" y1="440.6" x2="470.5" y2="452.7" stroke="#444" stroke-width="1" />
<rect x="465.3" y="396.5" width="10.399999999999977" height="44.10000000000002" fill="#fdb07d" stroke="#262626" stroke-width="1.0" />
<line x1="465.3" y1="427.3" x2="475.7" y2="427.3" stroke="#111" stroke-width="1.8" />
<line x1="496.8" y1="369.1" x2="496.8" y2="401.3" stroke="#444" stroke-width="1" />
<line x1="496.8" y1="442.2" x2="496.8" y2="446.8" stroke="#444" stroke-width="1" />
<rect x="491.5" y="401.3" width="10.600000000000023" height="40.89999999999998" fill="#5ab8d4" stroke="#262626" stroke-width="1.0" />
<line x1="491.5" y1="440.5" x2="502.1" y2="440.5" stroke="#111" stroke-width="1.8" />
<line x1="512.5" y1="370.4" x2="512.5" y2="410.8" stroke="#444" stroke-width="1" />
<line x1="512.5" y1="444.3" x2="512.5" y2="447.3" stroke="#444" stroke-width="1" />
<rect x="507.3" y="410.8" width="10.300000000000011" height="33.5" fill="#fdb07d" stroke="#262626" stroke-width="1.0" />
<line x1="507.3" y1="443.5" x2="517.6" y2="443.5" stroke="#111" stroke-width="1.8" />
<line x1="538.8" y1="304.4" x2="538.8" y2="359.3" stroke="#444" stroke-width="1" />
<line x1="538.8" y1="437.3" x2="538.8" y2="450.3" stroke="#444" stroke-width="1" />
<rect x="533.2" y="359.3" width="11.199999999999932" height="78.0" fill="#5ab8d4" stroke="#262626" stroke-width="1.0" />
<line x1="533.2" y1="416.0" x2="544.4" y2="416.0" stroke="#111" stroke-width="1.8" />
<line x1="554.5" y1="289.5" x2="554.5" y2="355.4" stroke="#444" stroke-width="1" />
<line x1="554.5" y1="440.5" x2="554.5" y2="450.9" stroke="#444" stroke-width="1" />
<rect x="549.0" y="355.4" width="10.899999999999977" height="85.10000000000002" fill="#fdb07d" stroke="#262626" stroke-width="1.0" />
<line x1="549.0" y1="422.5" x2="559.9" y2="422.5" stroke="#111" stroke-width="1.8" />
<line x1="580.9" y1="291.4" x2="580.9" y2="313.2" stroke="#444" stroke-width="1" />
<line x1="580.9" y1="438.6" x2="580.9" y2="454.2" stroke="#444" stroke-width="1" />
<rect x="575.4" y="313.2" width="11.0" height="125.40000000000003" fill="#5ab8d4" stroke="#262626" stroke-width="1.0" />
<line x1="575.4" y1="386.8" x2="586.4" y2="386.8" stroke="#111" stroke-width="1.8" />
<line x1="596.8" y1="282.4" x2="596.8" y2="313.2" stroke="#444" stroke-width="1" />
<line x1="596.8" y1="442.2" x2="596.8" y2="453.6" stroke="#444" stroke-width="1" />
<rect x="591.3" y="313.2" width="10.900000000000091" height="129.0" fill="#fdb07d" stroke="#262626" stroke-width="1.0" />
<line x1="591.3" y1="400.4" x2="602.2" y2="400.4" stroke="#111" stroke-width="1.8" />
<line x1="623.1" y1="445.4" x2="623.1" y2="445.4" stroke="#444" stroke-width="1" />
<line x1="623.1" y1="454.2" x2="623.1" y2="455.5" stroke="#444" stroke-width="1" />
<rect x="617.5" y="445.4" width="11.200000000000045" height="8.800000000000011" fill="#5ab8d4" stroke="#262626" stroke-width="1.0" />
<line x1="617.5" y1="452.3" x2="628.7" y2="452.3" stroke="#111" stroke-width="1.8" />
<line x1="639.0" y1="446.0" x2="639.0" y2="446.0" stroke="#444" stroke-width="1" />
<line x1="639.0" y1="453.0" x2="639.0" y2="454.5" stroke="#444" stroke-width="1" />
<rect x="633.4" y="446.0" width="11.100000000000023" height="7.0" fill="#fdb07d" stroke="#262626" stroke-width="1.0" />
<line x1="633.4" y1="450.3" x2="644.5" y2="450.3" stroke="#111" stroke-width="1.8" />
<line x1="407.0" y1="454.7" x2="417.6" y2="454.7" stroke="#111" stroke-width="1.8" />
<rect x="411.2" y="447.09999999999997" width="2.2" height="5.4" rx="1.1" fill="#111"/>
<line x1="412.3" y1="454.7" x2="412.3" y2="456.9" stroke="#444" stroke-width="0.8" />
<line x1="422.8" y1="454.0" x2="433.40000000000003" y2="454.0" stroke="#111" stroke-width="1.8" />
<rect x="427.0" y="446.4" width="2.2" height="5.4" rx="1.1" fill="#111"/>
<line x1="428.1" y1="454.0" x2="428.1" y2="456.2" stroke="#444" stroke-width="0.8" />
<line x1="623.3" y1="275.8" x2="623.3" y2="433.2" stroke="#000" stroke-width="3" stroke-linecap="round"/>
<line x1="639.1" y1="276.9" x2="639.1" y2="435.9" stroke="#000" stroke-width="3" stroke-linecap="round"/>
<line x1="623.1" y1="433" x2="623.1" y2="445.4" stroke="#444" stroke-width="1" />
<line x1="639.0" y1="435.5" x2="639.0" y2="446" stroke="#444" stroke-width="1" />
<circle cx="470.4" cy="320.1" r="1.2" fill="#111"/>
<text x="443.0" y="302.2" font-size="9.6" textLength="44.8" lengthAdjust="spacingAndGlyphs" >0.0001338</text>
<line x1="453.2" y1="304.6" x2="474.5" y2="304.6" stroke="#333" stroke-width="0.9" />
<text x="609.4" y="273.8" font-size="9.6" textLength="36" lengthAdjust="spacingAndGlyphs" >&lt; 2.2x10</text>
<text x="645.2" y="268.6" font-size="5.5" fill="#444" >-16</text>
<path d="M623.3,275.5 Q623.3,273.6 626,273.6 L636.4,273.6 Q639.1,273.6 639.1,275.5" fill="none" stroke="#333" stroke-width="0.8"/>
<rect x="462" y="255.2" width="10.3" height="5.6" fill="#5ab8d4" stroke="#333" stroke-width="0.8" />
<line x1="462" y1="258" x2="472.3" y2="258" stroke="#222" stroke-width="0.9" />
<line x1="467.15" y1="253.6" x2="467.15" y2="255.2" stroke="#333" stroke-width="0.8" />
<line x1="467.15" y1="260.8" x2="467.15" y2="262.3" stroke="#333" stroke-width="0.8" />
<rect x="562.5" y="255.2" width="10.3" height="5.6" fill="#fdb07d" stroke="#333" stroke-width="0.8" />
<line x1="562.5" y1="258" x2="572.8" y2="258" stroke="#222" stroke-width="0.9" />
<line x1="567.65" y1="253.6" x2="567.65" y2="255.2" stroke="#333" stroke-width="0.8" />
<line x1="567.65" y1="260.8" x2="567.65" y2="262.3" stroke="#333" stroke-width="0.8" />
<text x="477.7" y="261.0" font-size="9.2" textLength="17.5" lengthAdjust="spacingAndGlyphs" >GFP</text>
<rect x="496.3" y="254.7" width="2.4" height="0.8" fill="#1a1a1a" />
<text x="503.3" y="261.0" font-size="9.2" textLength="49.6" lengthAdjust="spacingAndGlyphs" >cells in ESP</text>
<text x="578.4" y="261.0" font-size="9.2" textLength="17.3" lengthAdjust="spacingAndGlyphs" >GFP</text>
<rect x="596.4" y="255.4" width="3.6" height="0.8" fill="#1a1a1a" />
<rect x="597.8" y="253.8" width="0.8" height="3.6" fill="#1a1a1a" />
<text x="604.4" y="261.0" font-size="9.2" textLength="49.2" lengthAdjust="spacingAndGlyphs" >cells in ESP</text>
<text x="126.7" y="497.3" font-size="9.4" text-anchor="middle" >SPI-6</text>
<text x="166.9" y="497.3" font-size="9.4" text-anchor="middle" >SPI-16</text>
<text x="209.6" y="497.3" font-size="9.4" text-anchor="middle" >SPI-14</text>
<text x="251.8" y="497.3" font-size="9.4" text-anchor="middle" >SPI-5</text>
<text x="295.0" y="497.3" font-size="9.4" text-anchor="middle" >SPI-11</text>
<text x="337.4" y="497.3" font-size="9.4" text-anchor="middle" >SPI-2</text>
<text x="380.5" y="497.3" font-size="9.4" text-anchor="middle" >SPI-12+oaf</text>
<text x="420.5" y="497.3" font-size="9.4" text-anchor="middle" >SPI-9</text>
<text x="463.6" y="497.3" font-size="9.4" text-anchor="middle" >SPI-1</text>
<text x="505.9" y="497.3" font-size="9.4" text-anchor="middle" >SPI-13</text>
<text x="546.3" y="497.3" font-size="9.4" text-anchor="middle" >SPI-3</text>
<text x="589.1" y="497.3" font-size="9.4" text-anchor="middle" >SPI-4</text>
<text x="631.2" y="497.3" font-size="9.4" text-anchor="middle" >RoGs</text>
<text x="117.5" y="484.8" font-size="6.8" text-anchor="middle" fill="#777" >47</text>
<text x="133.1" y="484.8" font-size="6.8" text-anchor="middle" fill="#777" >47</text>
<text x="159.3" y="484.8" font-size="6.8" text-anchor="middle" fill="#777" >5</text>
<text x="175.5" y="484.8" font-size="6.8" text-anchor="middle" fill="#777" >5</text>
<text x="201.7" y="484.8" font-size="6.8" text-anchor="middle" fill="#777" >8</text>
<text x="217.4" y="484.8" font-size="6.8" text-anchor="middle" fill="#777" >8</text>
<text x="243.9" y="484.8" font-size="6.8" text-anchor="middle" fill="#777" >10</text>
<text x="259.7" y="484.8" font-size="6.8" text-anchor="middle" fill="#777" >10</text>
<text x="285.9" y="484.8" font-size="6.8" text-anchor="middle" fill="#777" >8</text>
<text x="301.8" y="484.8" font-size="6.8" text-anchor="middle" fill="#777" >8</text>
<text x="328.3" y="484.8" font-size="6.8" text-anchor="middle" fill="#777" >40</text>
<text x="343.9" y="484.8" font-size="6.8" text-anchor="middle" fill="#777" >40</text>
<text x="370.2" y="484.8" font-size="6.8" text-anchor="middle" fill="#777" >16</text>
<text x="386.0" y="484.8" font-size="6.8" text-anchor="middle" fill="#777" >16</text>
<text x="412.3" y="484.8" font-size="6.8" text-anchor="middle" fill="#777" >17</text>
<text x="428.1" y="484.8" font-size="6.8" text-anchor="middle" fill="#777" >17</text>
<text x="454.5" y="484.8" font-size="6.8" text-anchor="middle" fill="#777" >43</text>
<text x="470.5" y="484.8" font-size="6.8" text-anchor="middle" fill="#777" >43</text>
<text x="496.8" y="484.8" font-size="6.8" text-anchor="middle" fill="#777" >8</text>
<text x="512.5" y="484.8" font-size="6.8" text-anchor="middle" fill="#777" >8</text>
<text x="538.8" y="484.8" font-size="6.8" text-anchor="middle" fill="#777" >17</text>
<text x="554.5" y="484.8" font-size="6.8" text-anchor="middle" fill="#777" >17</text>
<text x="580.9" y="484.8" font-size="6.8" text-anchor="middle" fill="#777" >22</text>
<text x="596.8" y="484.8" font-size="6.8" text-anchor="middle" fill="#777" >22</text>
<text x="623.1" y="484.8" font-size="6.8" text-anchor="middle" fill="#777" >4638</text>
<text x="639.0" y="484.8" font-size="6.8" text-anchor="middle" fill="#777" >4638</text>
<text x="78.4" y="484.6" font-size="7.2" fill="#777" textLength="21.6" lengthAdjust="spacingAndGlyphs" ># bins</text>
<text x="284.8" y="529.9" font-size="13.2" textLength="71.9" lengthAdjust="spacingAndGlyphs" >SPI-1, GFP</text>
<rect x="357.5" y="521.2" width="2.8" height="1.1" fill="#1a1a1a" />
<text x="364.3" y="529.9" font-size="13.2" textLength="75.9" lengthAdjust="spacingAndGlyphs" >cells in ESP</text>
<rect x="111.6" y="533.8" width="558.0" height="4.4" fill="#9b9b9b" />
<rect x="114" y="533.8" width="3.4000000000000057" height="65.6" fill="#2f6e4c" />
<rect x="179.6" y="533.8" width="3.200000000000017" height="65.6" fill="#e0861a" />
<rect x="90" y="556.3" width="18" height="5.8" fill="#7a7a7a" />
<path d="M98.1,557.6 L99.9,559.2 L98.1,560.8" fill="none" stroke="#ece6e0" stroke-width="1.05"/>
<rect x="108.6" y="556.3" width="3.0" height="5.8" fill="#7a7a7a" />
<rect x="115" y="556.3" width="11.599999999999994" height="5.8" fill="#a0a0a0" />
<path d="M119.89999999999999,557.6 L121.7,559.2 L119.89999999999999,560.8" fill="none" stroke="#ece6e0" stroke-width="1.05"/>
<rect x="137.6" y="556.3" width="11.400000000000006" height="5.8" fill="#a0a0a0" />
<path d="M142.4,557.6 L144.20000000000002,559.2 L142.4,560.8" fill="none" stroke="#ece6e0" stroke-width="1.05"/>
<rect x="161.6" y="556.3" width="11.599999999999994" height="5.8" fill="#a0a0a0" />
<path d="M168.29999999999998,557.6 L166.49999999999997,559.2 L168.29999999999998,560.8" fill="none" stroke="#ece6e0" stroke-width="1.05"/>
<rect x="175.6" y="556.3" width="10.0" height="5.8" fill="#a0a0a0" />
<path d="M181.5,557.6 L179.7,559.2 L181.5,560.8" fill="none" stroke="#ece6e0" stroke-width="1.05"/>
<rect x="191" y="556.3" width="11.599999999999994" height="5.8" fill="#f4847f" />
<path d="M197.70000000000002,557.6 L195.9,559.2 L197.70000000000002,560.8" fill="none" stroke="#ece6e0" stroke-width="1.05"/>
<rect x="207" y="556.3" width="5.800000000000011" height="5.8" fill="#6e6259" />
<path d="M210.8,557.6 L209.0,559.2 L210.8,560.8" fill="none" stroke="#ece6e0" stroke-width="1.05"/>
<rect x="221.3" y="556.3" width="8.099999999999994" height="5.8" fill="#6e6259" />
<path d="M226.25000000000003,557.6 L224.45000000000002,559.2 L226.25000000000003,560.8" fill="none" stroke="#ece6e0" stroke-width="1.05"/>
<rect x="239.1" y="556.3" width="4.099999999999994" height="5.8" fill="#6e6259" />
<path d="M242.04999999999998,557.6 L240.24999999999997,559.2 L242.04999999999998,560.8" fill="none" stroke="#ece6e0" stroke-width="1.05"/>
<rect x="243.4" y="556.3" width="3.0999999999999943" height="5.8" fill="#6e6259" />
<rect x="246.5" y="556.3" width="16.30000000000001" height="5.8" fill="#6e6259" />
<path d="M255.55,557.6 L253.75,559.2 L255.55,560.8" fill="none" stroke="#ece6e0" stroke-width="1.05"/>
<rect x="266.8" y="556.3" width="12.599999999999966" height="5.8" fill="#f4847f" />
<rect x="267.2" y="556.9" width="11.799999999999965" height="4.5" fill="none" stroke="#333" stroke-width="0.8" />
<path d="M272.20000000000005,557.6 L274.0,559.2 L272.20000000000005,560.8" fill="none" stroke="#ece6e0" stroke-width="1.05"/>
<rect x="294" y="556.3" width="22" height="5.8" fill="#f4847f" />
<path d="M304.1,557.6 L305.9,559.2 L304.1,560.8" fill="none" stroke="#ece6e0" stroke-width="1.05"/>
<rect x="316" y="556.3" width="6.399999999999977" height="5.8" fill="#6e6259" />
<path d="M318.3,557.6 L320.09999999999997,559.2 L318.3,560.8" fill="none" stroke="#ece6e0" stroke-width="1.05"/>
<rect x="323" y="556.3" width="22" height="5.8" fill="#6e6259" />
<path d="M334.9,557.6 L333.1,559.2 L334.9,560.8" fill="none" stroke="#ece6e0" stroke-width="1.05"/>
<rect x="354.4" y="556.3" width="2.6000000000000227" height="5.8" fill="#6e6259" />
<rect x="358" y="556.3" width="27.600000000000023" height="5.8" fill="#6e6259" />
<path d="M372.7,557.6 L370.90000000000003,559.2 L372.7,560.8" fill="none" stroke="#ece6e0" stroke-width="1.05"/>
<rect x="385.6" y="556.3" width="14.0" height="5.8" fill="#6e6259" />
<path d="M393.5,557.6 L391.70000000000005,559.2 L393.5,560.8" fill="none" stroke="#ece6e0" stroke-width="1.05"/>
<rect x="400" y="556.3" width="16.399999999999977" height="5.8" fill="#6e6259" />
<path d="M409.09999999999997,557.6 L407.3,559.2 L409.09999999999997,560.8" fill="none" stroke="#ece6e0" stroke-width="1.05"/>
<rect x="417" y="556.3" width="24" height="5.8" fill="#6e6259" />
<path d="M429.9,557.6 L428.1,559.2 L429.9,560.8" fill="none" stroke="#ece6e0" stroke-width="1.05"/>
<rect x="449" y="556.3" width="14" height="5.8" fill="#6e6259" />
<path d="M456.9,557.6 L455.1,559.2 L456.9,560.8" fill="none" stroke="#ece6e0" stroke-width="1.05"/>
<rect x="474" y="556.3" width="6" height="5.8" fill="#6e6259" />
<path d="M477.9,557.6 L476.1,559.2 L477.9,560.8" fill="none" stroke="#ece6e0" stroke-width="1.05"/>
<rect x="480" y="556.3" width="7" height="5.8" fill="#6e6259" />
<path d="M484.4,557.6 L482.6,559.2 L484.4,560.8" fill="none" stroke="#ece6e0" stroke-width="1.05"/>
<rect x="498.6" y="556.3" width="13.0" height="5.8" fill="#6e6259" />
<path d="M506.0,557.6 L504.20000000000005,559.2 L506.0,560.8" fill="none" stroke="#ece6e0" stroke-width="1.05"/>
<rect x="517.4" y="556.3" width="17.200000000000045" height="5.8" fill="#6e6259" />
<path d="M526.9,557.6 L525.1,559.2 L526.9,560.8" fill="none" stroke="#ece6e0" stroke-width="1.05"/>
<rect x="540.4" y="556.3" width="26.600000000000023" height="5.8" fill="#6e6259" />
<path d="M554.6,557.6 L552.8000000000001,559.2 L554.6,560.8" fill="none" stroke="#ece6e0" stroke-width="1.05"/>
<rect x="567.6" y="556.3" width="15.399999999999977" height="5.8" fill="#6e6259" />
<path d="M576.1999999999999,557.6 L574.4,559.2 L576.1999999999999,560.8" fill="none" stroke="#ece6e0" stroke-width="1.05"/>
<rect x="605.4" y="556.3" width="8.600000000000023" height="5.8" fill="#f4847f" />
<path d="M610.6,557.6 L608.8000000000001,559.2 L610.6,560.8" fill="none" stroke="#ece6e0" stroke-width="1.05"/>
<rect x="620" y="556.3" width="6" height="5.8" fill="#6e6259" />
<path d="M622.1,557.6 L623.9,559.2 L622.1,560.8" fill="none" stroke="#ece6e0" stroke-width="1.05"/>
<rect x="632" y="556.3" width="6" height="5.8" fill="#6e6259" />
<path d="M634.1,557.6 L635.9,559.2 L634.1,560.8" fill="none" stroke="#ece6e0" stroke-width="1.05"/>
<rect x="645.4" y="556.3" width="4.600000000000023" height="5.8" fill="#6d6d6d" />
<path d="M648.6,557.6 L646.8000000000001,559.2 L648.6,560.8" fill="none" stroke="#ece6e0" stroke-width="1.05"/>
<rect x="653" y="556.3" width="1.3999999999999773" height="5.8" fill="#6d6d6d" />
<rect x="659" y="556.3" width="4" height="5.8" fill="#6d6d6d" />
<path d="M660.1,557.6 L661.9,559.2 L660.1,560.8" fill="none" stroke="#ece6e0" stroke-width="1.05"/>
<rect x="671.4" y="556.3" width="3.0" height="5.8" fill="#8a8a8a" />
<rect x="126.6" y="571.1999999999999" width="11.0" height="5.8" fill="#a0a0a0" />
<path d="M131.2,572.5 L133.0,574.1 L131.2,575.6999999999999" fill="none" stroke="#ece6e0" stroke-width="1.05"/>
<rect x="149" y="571.1999999999999" width="11" height="5.8" fill="#a0a0a0" />
<path d="M153.6,572.5 L155.4,574.1 L153.6,575.6999999999999" fill="none" stroke="#ece6e0" stroke-width="1.05"/>
<rect x="213.1" y="571.1999999999999" width="8.700000000000017" height="5.8" fill="#6e6259" />
<path d="M218.35,572.5 L216.54999999999998,574.1 L218.35,575.6999999999999" fill="none" stroke="#ece6e0" stroke-width="1.05"/>
<rect x="223.9" y="571.1999999999999" width="3.9000000000000057" height="5.8" fill="#6e6259" />
<path d="M224.95000000000002,572.5 L226.75000000000003,574.1 L224.95000000000002,575.6999999999999" fill="none" stroke="#ece6e0" stroke-width="1.05"/>
<rect x="229" y="571.1999999999999" width="10.099999999999994" height="5.8" fill="#6e6259" />
<path d="M234.95000000000002,572.5 L233.15,574.1 L234.95000000000002,575.6999999999999" fill="none" stroke="#ece6e0" stroke-width="1.05"/>
<rect x="243.4" y="571.1999999999999" width="1.5999999999999943" height="5.8" fill="#b0a8a0" />
<rect x="345" y="571.1999999999999" width="5" height="5.8" fill="#6e6259" />
<path d="M348.4,572.5 L346.6,574.1 L348.4,575.6999999999999" fill="none" stroke="#ece6e0" stroke-width="1.05"/>
<rect x="376.6" y="571.1999999999999" width="4.0" height="5.8" fill="#6e6259" />
<path d="M377.70000000000005,572.5 L379.5,574.1 L377.70000000000005,575.6999999999999" fill="none" stroke="#ece6e0" stroke-width="1.05"/>
<rect x="441" y="571.1999999999999" width="6" height="5.8" fill="#6e6259" />
<path d="M444.9,572.5 L443.1,574.1 L444.9,575.6999999999999" fill="none" stroke="#ece6e0" stroke-width="1.05"/>
<rect x="463" y="571.1999999999999" width="10.600000000000023" height="5.8" fill="#6e6259" />
<path d="M469.2,572.5 L467.40000000000003,574.1 L469.2,575.6999999999999" fill="none" stroke="#ece6e0" stroke-width="1.05"/>
<rect x="486.4" y="571.1999999999999" width="12.0" height="5.8" fill="#6e6259" />
<path d="M493.29999999999995,572.5 L491.5,574.1 L493.29999999999995,575.6999999999999" fill="none" stroke="#ece6e0" stroke-width="1.05"/>
<rect x="512" y="571.1999999999999" width="6" height="5.8" fill="#6e6259" />
<path d="M515.9,572.5 L514.1,574.1 L515.9,575.6999999999999" fill="none" stroke="#ece6e0" stroke-width="1.05"/>
<rect x="534.4" y="571.1999999999999" width="5.600000000000023" height="5.8" fill="#6e6259" />
<path d="M538.1,572.5 L536.3000000000001,574.1 L538.1,575.6999999999999" fill="none" stroke="#ece6e0" stroke-width="1.05"/>
<rect x="583" y="571.1999999999999" width="22.600000000000023" height="5.8" fill="#6e6259" />
<path d="M595.1999999999999,572.5 L593.4,574.1 L595.1999999999999,575.6999999999999" fill="none" stroke="#ece6e0" stroke-width="1.05"/>
<rect x="637.4" y="571.1999999999999" width="4.600000000000023" height="5.8" fill="#6d6d6d" />
<path d="M638.8000000000001,572.5 L640.6,574.1 L638.8000000000001,575.6999999999999" fill="none" stroke="#ece6e0" stroke-width="1.05"/>
<rect x="663" y="571.1999999999999" width="7" height="5.8" fill="#6d6d6d" />
<path d="M665.6,572.5 L667.4,574.1 L665.6,575.6999999999999" fill="none" stroke="#ece6e0" stroke-width="1.05"/>
<line x1="243.2" y1="556.3" x2="243.2" y2="562.1" stroke="#b9aea6" stroke-width="0.6" />
<line x1="246.5" y1="556.3" x2="246.5" y2="562.1" stroke="#b9aea6" stroke-width="0.6" />
<line x1="322.4" y1="556.3" x2="322.4" y2="562.1" stroke="#b9aea6" stroke-width="0.6" />
<line x1="385.6" y1="556.3" x2="385.6" y2="562.1" stroke="#b9aea6" stroke-width="0.6" />
<line x1="399.6" y1="556.3" x2="399.6" y2="562.1" stroke="#b9aea6" stroke-width="0.6" />
<line x1="416.4" y1="556.3" x2="416.4" y2="562.1" stroke="#b9aea6" stroke-width="0.6" />
<line x1="480" y1="556.3" x2="480" y2="562.1" stroke="#b9aea6" stroke-width="0.6" />
<line x1="567" y1="556.3" x2="567" y2="562.1" stroke="#b9aea6" stroke-width="0.6" />
<text x="121" y="569.0" font-size="7.3" text-anchor="middle" fill="#222" textLength="10.17" lengthAdjust="spacingAndGlyphs" font-style="italic" >sitA</text>
<text x="143.3" y="569.0" font-size="7.3" text-anchor="middle" fill="#222" textLength="10.51" lengthAdjust="spacingAndGlyphs" font-style="italic" >sitC</text>
<text x="167.4" y="569.0" font-size="7.3" text-anchor="middle" fill="#222" textLength="12.54" lengthAdjust="spacingAndGlyphs" font-style="italic" >avrA</text>
<text x="180.6" y="569.0" font-size="7.3" text-anchor="middle" fill="#222" textLength="12.54" lengthAdjust="spacingAndGlyphs" font-style="italic" >sprB</text>
<text x="196.8" y="569.0" font-size="7.3" text-anchor="middle" fill="#222" textLength="10.51" lengthAdjust="spacingAndGlyphs" font-style="italic" >hilC</text>
<text x="210" y="569.0" font-size="7.3" text-anchor="middle" fill="#222" textLength="13.22" lengthAdjust="spacingAndGlyphs" font-style="italic" >orgC</text>
<text x="225.5" y="569.0" font-size="7.3" text-anchor="middle" fill="#222" textLength="12.88" lengthAdjust="spacingAndGlyphs" font-style="italic" >orgA</text>
<text x="254.9" y="569.0" font-size="7.3" text-anchor="middle" fill="#222" textLength="13.22" lengthAdjust="spacingAndGlyphs" font-style="italic" >prgH</text>
<text x="274.7" y="569.0" font-size="7.3" text-anchor="middle" fill="#222" textLength="10.51" lengthAdjust="spacingAndGlyphs" font-style="italic" >hilD</text>
<text x="305" y="569.0" font-size="7.3" text-anchor="middle" fill="#222" textLength="10.17" lengthAdjust="spacingAndGlyphs" font-style="italic" >hilA</text>
<text x="319.2" y="569.0" font-size="7.3" text-anchor="middle" fill="#222" textLength="12.21" lengthAdjust="spacingAndGlyphs" font-style="italic" >lagB</text>
<text x="334" y="569.0" font-size="7.3" text-anchor="middle" fill="#222" textLength="12.21" lengthAdjust="spacingAndGlyphs" font-style="italic" >sptP</text>
<text x="356.5" y="569.0" font-size="7.3" text-anchor="middle" fill="#222" textLength="11.87" lengthAdjust="spacingAndGlyphs" font-style="italic" >iacP</text>
<text x="371.6" y="569.0" font-size="7.3" text-anchor="middle" fill="#222" textLength="11.87" lengthAdjust="spacingAndGlyphs" font-style="italic" >sipA</text>
<text x="392.6" y="569.0" font-size="7.3" text-anchor="middle" fill="#222" textLength="12.2" lengthAdjust="spacingAndGlyphs" font-style="italic" >sipD</text>
<text x="408.4" y="569.0" font-size="7.3" text-anchor="middle" fill="#222" textLength="12.2" lengthAdjust="spacingAndGlyphs" font-style="italic" >sipC</text>
<text x="429" y="569.0" font-size="7.3" text-anchor="middle" fill="#222" textLength="11.87" lengthAdjust="spacingAndGlyphs" font-style="italic" >sipB</text>
<text x="456" y="569.0" font-size="7.3" text-anchor="middle" fill="#222" textLength="13.9" lengthAdjust="spacingAndGlyphs" font-style="italic" >spaS</text>
<text x="505" y="569.0" font-size="7.3" text-anchor="middle" fill="#222" textLength="10.85" lengthAdjust="spacingAndGlyphs" font-style="italic" >invJ</text>
<text x="526" y="569.0" font-size="7.3" text-anchor="middle" fill="#222" textLength="12.2" lengthAdjust="spacingAndGlyphs" font-style="italic" >invC</text>
<text x="553.7" y="569.0" font-size="7.3" text-anchor="middle" fill="#222" textLength="11.87" lengthAdjust="spacingAndGlyphs" font-style="italic" >invA</text>
<text x="575.3" y="569.0" font-size="7.3" text-anchor="middle" fill="#222" textLength="11.87" lengthAdjust="spacingAndGlyphs" font-style="italic" >invE</text>
<text x="609.7" y="569.0" font-size="7.3" text-anchor="middle" fill="#222" textLength="11.52" lengthAdjust="spacingAndGlyphs" font-style="italic" >invF</text>
<text x="132.1" y="583.4" font-size="7.3" text-anchor="middle" fill="#222" textLength="10.17" lengthAdjust="spacingAndGlyphs" font-style="italic" >sitB</text>
<text x="154.5" y="583.4" font-size="7.3" text-anchor="middle" fill="#222" textLength="10.51" lengthAdjust="spacingAndGlyphs" font-style="italic" >sitD</text>
<text x="347.5" y="583.4" font-size="7.3" text-anchor="middle" fill="#222" textLength="11.52" lengthAdjust="spacingAndGlyphs" font-style="italic" >sicP</text>
<text x="444" y="583.4" font-size="7.3" text-anchor="middle" fill="#222" textLength="11.52" lengthAdjust="spacingAndGlyphs" font-style="italic" >sicA</text>
<text x="468.3" y="583.4" font-size="7.3" text-anchor="middle" fill="#222" textLength="14.24" lengthAdjust="spacingAndGlyphs" font-style="italic" >spaR</text>
<text x="492.4" y="583.4" font-size="7.3" text-anchor="middle" fill="#222" textLength="14.58" lengthAdjust="spacingAndGlyphs" font-style="italic" >spaO</text>
<text x="515" y="583.4" font-size="7.3" text-anchor="middle" fill="#222" textLength="9.49" lengthAdjust="spacingAndGlyphs" font-style="italic" >invI</text>
<text x="537.2" y="583.4" font-size="7.3" text-anchor="middle" fill="#222" textLength="11.87" lengthAdjust="spacingAndGlyphs" font-style="italic" >invB</text>
<text x="594.3" y="583.4" font-size="7.3" text-anchor="middle" fill="#222" textLength="12.54" lengthAdjust="spacingAndGlyphs" font-style="italic" >invG</text>
<text x="242.6" y="555.4" font-size="6.0" fill="#222" font-style="italic" transform="rotate(-80 242.6 555.4)" >prgJ</text>
<text x="245.3" y="555.6" font-size="6.3" fill="#222" font-style="italic" transform="rotate(-47 245.3 555.6)" >prgI</text>
<text x="209.6" y="590.6" font-size="6.5" fill="#222" font-style="italic" transform="rotate(-47 209.6 590.6)" >orgB</text>
<text x="207.9" y="599.8" font-size="6.5" fill="#222" font-style="italic" transform="rotate(-47 207.9 599.8)" >STnc4240</text>
<text x="227.2" y="591.6" font-size="6.5" fill="#222" font-style="italic" transform="rotate(-47 227.2 591.6)" >prgK</text>
<text x="231.8" y="596.4" font-size="6.5" fill="#222" font-style="italic" transform="rotate(-47 231.8 596.4)" >STnc3020</text>
<text x="364.8" y="598.7" font-size="6.5" fill="#222" font-style="italic" transform="rotate(-44 364.8 598.7)" >STnc1410</text>
<text x="474.5" y="555.7" font-size="6.3" fill="#222" font-style="italic" transform="rotate(-45 474.5 555.7)" >spaQ</text>
<text x="476.0" y="575.8" font-size="6.3" fill="#222" font-style="italic" transform="rotate(-51 476.0 575.8)" >spaP</text>
<text x="620.9" y="555.0" font-size="6.5" fill="#222" font-style="italic" transform="rotate(-43 620.9 555.0)" >invH</text>
<text x="632.7" y="556.1" font-size="7.0" fill="#222" font-style="italic" transform="rotate(-47 632.7 556.1)" >SL1344_2880</text>
<text x="620.9" y="573.2" font-size="6.5" fill="#222" font-style="italic" transform="rotate(-56 620.9 573.2)" >invR</text>
<text x="612.4" y="595.5" font-size="6.5" fill="#222" font-style="italic" transform="rotate(-49 612.4 595.5)" >rna-invR</text>
<text x="647.8" y="555.4" font-size="3.8" fill="#aaa" font-style="italic" transform="rotate(-44 647.8 555.4)" >SL1344_2882</text>
<text x="660.5" y="555.4" font-size="3.8" fill="#aaa" font-style="italic" transform="rotate(-44 660.5 555.4)" >SL1344_2884</text>
<text x="644.5" y="574.1" font-size="3.8" fill="#aaa" font-style="italic" transform="rotate(-44 644.5 574.1)" >SL1344_</text>
<text x="648" y="578" font-size="3.8" fill="#aaa" font-style="italic" transform="rotate(-44 648 578)" >2883</text>
<text x="622.1" y="596.4" font-size="3.8" fill="#aaa" font-style="italic" transform="rotate(-44 622.1 596.4)" >SL1344_2881</text>
<text x="649.7" y="596.4" font-size="3.8" fill="#aaa" font-style="italic" transform="rotate(-44 649.7 596.4)" >SL1344_2885</text>
<text x="96" y="554.6" font-size="3.6" fill="#b0b0b0" textLength="7.6" lengthAdjust="spacingAndGlyphs" >rtgA</text>
<text x="674" y="569.5" font-size="4.5" fill="#999" font-style="italic" >rpsB</text>
<line x1="76" y1="528" x2="76" y2="590.8" stroke="#444" stroke-width="1.5" />
<text x="69.8" y="559.2" font-size="8.4" text-anchor="end" fill="#222" >Genes</text>
<text x="48.1" y="602.5" font-size="8.4" text-anchor="middle" fill="#222" >Genomic</text>
<text x="49.3" y="613.1" font-size="8.4" text-anchor="middle" fill="#222" >coordinates</text>
<line x1="75.6" y1="603.4" x2="75.6" y2="612.9" stroke="#444" stroke-width="1.5" />
<line x1="78" y1="612.9" x2="685" y2="612.9" stroke="#9a9a9a" stroke-width="1.3" />
<line x1="125.6" y1="612.9" x2="125.6" y2="608.4" stroke="#444" stroke-width="0.9" />
<line x1="191.8" y1="612.9" x2="191.8" y2="608.4" stroke="#444" stroke-width="0.9" />
<line x1="258.0" y1="612.9" x2="258.0" y2="608.4" stroke="#444" stroke-width="0.9" />
<line x1="324.20000000000005" y1="612.9" x2="324.20000000000005" y2="608.4" stroke="#444" stroke-width="0.9" />
<line x1="390.4" y1="612.9" x2="390.4" y2="608.4" stroke="#444" stroke-width="0.9" />
<line x1="456.6" y1="612.9" x2="456.6" y2="608.4" stroke="#444" stroke-width="0.9" />
<line x1="522.8000000000001" y1="612.9" x2="522.8000000000001" y2="608.4" stroke="#444" stroke-width="0.9" />
<line x1="589.0" y1="612.9" x2="589.0" y2="608.4" stroke="#444" stroke-width="0.9" />
<line x1="655.2" y1="612.9" x2="655.2" y2="608.4" stroke="#444" stroke-width="0.9" />
<text x="128.29999999999998" y="608.2" font-size="7.1" text-anchor="middle" textLength="25.4" lengthAdjust="spacingAndGlyphs" >3030 kb</text>
<text x="260.7" y="608.2" font-size="7.1" text-anchor="middle" textLength="25.4" lengthAdjust="spacingAndGlyphs" >3040 kb</text>
<text x="393.09999999999997" y="608.2" font-size="7.1" text-anchor="middle" textLength="25.4" lengthAdjust="spacingAndGlyphs" >3050 kb</text>
<text x="525.5000000000001" y="608.2" font-size="7.1" text-anchor="middle" textLength="25.4" lengthAdjust="spacingAndGlyphs" >3060 kb</text>
<text x="657.9000000000001" y="608.2" font-size="7.1" text-anchor="middle" textLength="25.4" lengthAdjust="spacingAndGlyphs" >3070 kb</text>
<line x1="77.5" y1="621.5" x2="685" y2="621.5" stroke="#555" stroke-width="1.2" />
<line x1="76.3" y1="622.3" x2="76.3" y2="642.0999999999999" stroke="#444" stroke-width="1.5" />
<rect x="95.5" y="642.0" width="1.5" height="1.2999999999999545" fill="#3a3558" />
<rect x="205.4" y="642.2" width="1.6999999999999886" height="1.099999999999909" fill="#3a3558" />
<rect x="218.5" y="641.7" width="1.8000000000000114" height="1.599999999999909" fill="#3a3558" />
<rect x="225.5" y="638.1" width="1.5" height="5.199999999999932" fill="#3a3558" />
<rect x="227" y="636.4" width="2" height="6.899999999999977" fill="#3a3558" />
<rect x="229" y="635.5" width="2" height="7.7999999999999545" fill="#3a3558" />
<rect x="231" y="636.9" width="2" height="6.399999999999977" fill="#3a3558" />
<rect x="233" y="638.5" width="1.3000000000000114" height="4.7999999999999545" fill="#3a3558" />
<rect x="236" y="639" width="3.1999999999999886" height="4.2999999999999545" fill="#3a3558" />
<rect x="244" y="640.4" width="2.1999999999999886" height="2.8999999999999773" fill="#3a3558" />
<rect x="263.2" y="642" width="2.6000000000000227" height="1.2999999999999545" fill="#3a3558" />
<rect x="269.3" y="640.4" width="1.8000000000000114" height="2.8999999999999773" fill="#3a3558" />
<rect x="277.2" y="641.1" width="1.8000000000000114" height="2.199999999999932" fill="#3a3558" />
<rect x="298.2" y="641.7" width="4.400000000000034" height="1.599999999999909" fill="#3a3558" />
<rect x="321" y="642.5" width="1.5" height="0.7999999999999545" fill="#3a3558" />
<rect x="334" y="642.5" width="1" height="0.7999999999999545" fill="#3a3558" />
<rect x="343" y="642.5" width="1" height="0.7999999999999545" fill="#3a3558" />
<rect x="362.5" y="642.6" width="1.0" height="0.6999999999999318" fill="#3a3558" />
<rect x="385.6" y="642.2" width="7.0" height="1.099999999999909" fill="#3a3558" />
<rect x="399.5" y="642.5" width="1.0" height="0.7999999999999545" fill="#3a3558" />
<rect x="425.5" y="642.6" width="1.0" height="0.6999999999999318" fill="#3a3558" />
<rect x="437.9" y="642.2" width="1.7000000000000455" height="1.099999999999909" fill="#3a3558" />
<rect x="467.7" y="641.7" width="4.300000000000011" height="1.599999999999909" fill="#3a3558" />
<rect x="487.8" y="642.4" width="12.199999999999989" height="0.8999999999999773" fill="#3a3558" />
<rect x="515.8" y="636" width="1.8000000000000682" height="7.2999999999999545" fill="#3a3558" />
<rect x="517.6" y="639" width="2.6000000000000227" height="4.2999999999999545" fill="#3a3558" />
<rect x="528.1" y="641.7" width="1.7999999999999545" height="1.599999999999909" fill="#3a3558" />
<rect x="531.6" y="641.7" width="1.7999999999999545" height="1.599999999999909" fill="#3a3558" />
<rect x="537.2" y="642" width="1.3999999999999773" height="1.2999999999999545" fill="#3a3558" />
<rect x="542.6" y="625.4" width="1.2999999999999545" height="17.899999999999977" fill="#3a3558" />
<rect x="554" y="640" width="2" height="3.2999999999999545" fill="#3a3558" />
<rect x="559" y="641" width="2" height="2.2999999999999545" fill="#3a3558" />
<rect x="566" y="642.5" width="1" height="0.7999999999999545" fill="#3a3558" />
<rect x="584" y="642.6" width="1" height="0.6999999999999318" fill="#3a3558" />
<rect x="592" y="642.5" width="2" height="0.7999999999999545" fill="#3a3558" />
<rect x="602" y="642.6" width="1" height="0.6999999999999318" fill="#3a3558" />
<rect x="619" y="642.6" width="1" height="0.6999999999999318" fill="#3a3558" />
<rect x="640" y="642.7" width="1" height="0.599999999999909" fill="#3a3558" />
<line x1="77.5" y1="643.3" x2="685" y2="643.3" stroke="#2a2a2a" stroke-width="1.4" />
<text x="81" y="626.5" font-size="6.0" fill="#444" textLength="22" lengthAdjust="spacingAndGlyphs" >[0 - 100]</text>
<text x="81.6" y="638.3" font-size="6.6" fill="#222" >R1</text>
<text x="36.2" y="628.9" font-size="8.4" text-anchor="middle" fill="#222" >Sense</text>
<text x="37.9" y="639.1" font-size="8.4" text-anchor="middle" fill="#222" textLength="73.5" lengthAdjust="spacingAndGlyphs" >Transcription (CPM)</text>
<polygon points="78,675.8 78,675.34 78,675.1 78,675.46 79.0,674.86 80.0,675.19 81.0,674.95 82.0,674.59 83.0,674.91 83.95,674.57 84.91,675.0 85.86,674.76 86.82,674.86 87.77,675.24 88.73,675.69 89.68,675.13 90.64,675.31 91.59,675.75 92.55,675.8 93.5,675.8 94.56,675.53 95.62,675.8 96.68,674.85 97.74,675.4 98.8,674.71 99.74,674.57 100.68,674.54 101.62,674.7 102.55,675.15 103.49,674.57 104.43,674.93 105.37,674.97 106.31,674.72 107.25,674.87 108.18,674.43 109.12,674.42 110.06,674.54 111.0,674.96 111.96,674.78 112.93,674.72 113.89,675.01 114.85,674.94 115.82,674.85 116.78,675.34 117.75,675.3 118.71,674.93 119.67,675.28 120.64,675.28 121.6,675.64 122.52,675.49 123.45,675.09 124.37,675.7 125.29,674.91 126.22,675.17 127.14,675.46 128.06,674.9 128.99,675.2 129.91,674.78 130.84,675.33 131.76,675.41 132.68,675.22 133.61,675.48 134.53,674.97 135.45,675.3 136.38,675.2 137.3,675.17 138.28,675.03 139.26,675.34 140.23,675.4 141.21,674.94 142.19,675.08 143.17,674.5 144.14,675.05 145.12,674.97 146.1,675.24 147.27,674.72 148.43,673.87 149.6,673.6 150.77,672.52 151.93,670.6 153.1,669.67 154.4,667.2 155.7,664.96 157.0,664.05 158.3,663.84 159.47,663.13 160.63,663.11 161.8,663.1 163.6,666.53 164.9,664.67 166.2,663.85 167.1,663.54 168.0,663.45 168.9,662.99 170.2,661.68 171.5,659.8 173.2,661.72 174.1,662.14 175.0,663.08 175.9,663.61 177.6,662.39 178.9,661.26 180.2,660.16 181.1,659.93 182.0,659.92 182.9,659.78 184.07,659.35 185.23,658.99 186.4,659.23 187.44,659.18 188.48,659.36 189.52,659.71 190.56,659.47 191.6,659.31 192.8,659.41 194.0,659.46 195.02,658.97 196.03,659.79 197.05,659.75 198.07,659.9 199.08,659.9 200.1,659.6 201.0,661.48 201.9,663.08 202.8,665.42 203.97,665.77 205.13,666.64 206.3,667.64 207.47,668.36 208.63,669.29 209.8,669.8 210.84,669.83 211.88,670.05 212.92,670.08 213.96,670.4 215.0,670.17 216.06,671.1 217.12,671.02 218.18,670.76 219.24,671.02 220.3,671.26 221.6,671.93 222.9,672.36 224.2,671.96 225.5,671.04 226.67,670.74 227.83,670.92 229.0,670.73 230.06,670.64 231.12,670.76 232.18,670.59 233.24,671.0 234.3,670.3 235.47,669.87 236.63,670.41 237.8,669.73 238.97,668.78 240.13,668.54 241.3,667.47 242.6,667.53 243.9,667.53 245.25,669.18 246.6,670.78 247.77,670.09 248.93,669.88 250.1,669.4 251.4,669.04 252.7,667.93 254.0,668.0 255.3,667.45 256.6,667.5 257.9,668.18 258.8,666.89 259.7,665.32 261.0,664.98 262.3,664.69 263.65,664.62 265.0,664.15 266.3,667.22 267.6,669.87 268.77,668.01 269.93,666.44 271.1,665.1 272.27,663.62 273.43,662.54 274.6,661.31 275.9,660.25 277.2,660.09 278.37,659.97 279.53,659.78 280.7,659.08 281.69,658.95 282.68,658.95 283.66,658.93 284.65,658.93 285.64,659.31 286.62,659.56 287.61,659.51 288.6,659.18 289.9,661.09 291.2,662.97 292.55,665.38 293.9,668.94 295.6,670.07 296.77,668.95 297.93,667.93 299.1,666.68 300.27,665.08 301.43,664.29 302.6,662.55 303.77,662.07 304.93,661.32 306.1,659.91 307.27,659.64 308.43,659.87 309.6,659.4 310.8,659.15 312.0,659.36 312.9,660.24 313.8,661.76 314.85,661.88 315.9,661.48 317.0,663.14 318.1,664.33 319.45,666.94 320.8,669.57 322.1,671.04 323.4,671.97 324.7,671.71 326.0,672.42 327.3,670.98 328.6,669.72 329.95,667.74 331.3,664.94 332.47,664.87 333.63,664.36 334.8,663.34 336.1,661.43 337.4,659.51 338.57,659.3 339.73,659.44 340.9,658.98 342.2,659.98 343.5,660.57 344.85,660.67 346.2,659.57 347.5,660.71 348.8,661.88 349.97,663.03 351.13,663.46 352.3,664.78 353.6,666.6 354.9,668.83 355.8,669.42 356.7,669.57 357.6,670.55 358.68,670.39 359.75,670.3 360.82,671.09 361.9,670.61 362.8,671.78 363.7,672.9 365.0,671.7 366.3,670.44 367.6,669.47 368.9,668.35 369.8,669.01 370.7,668.85 372.4,670.25 373.3,669.64 374.2,669.33 375.1,669.45 376.27,669.44 377.43,669.72 378.6,670.13 379.9,668.87 381.2,667.05 382.5,666.3 383.8,665.3 384.97,664.61 386.13,664.07 387.3,663.16 388.65,665.18 390.0,667.08 391.3,670.1 392.6,672.48 393.77,672.94 394.93,673.3 396.1,672.98 397.4,673.0 398.7,673.1 400.0,672.36 401.3,671.07 402.4,671.06 403.5,671.35 404.6,671.02 405.7,671.17 406.85,668.87 408.0,667.25 409.0,666.06 410.0,664.86 411.0,662.89 412.3,664.89 413.6,666.34 414.9,668.48 416.2,671.74 417.55,672.97 418.9,673.45 419.94,674.25 420.98,673.89 422.02,674.11 423.06,674.7 424.1,674.7 425.16,674.04 426.22,674.22 427.28,674.23 428.34,674.02 429.4,673.83 430.0,674.24 431.17,674.03 432.33,672.83 433.5,672.75 434.67,671.95 435.83,670.87 437.0,670.45 438.3,670.26 439.6,669.71 440.77,669.47 441.93,670.47 443.1,670.46 444.45,669.92 445.8,668.44 447.5,665.49 448.67,664.69 449.83,664.75 451.0,663.69 452.17,663.93 453.33,664.56 454.5,665.37 455.67,665.09 456.83,664.38 458.0,664.08 459.17,665.38 460.33,665.66 461.5,666.38 462.67,667.0 463.83,668.14 465.0,669.87 465.9,669.88 466.8,669.82 468.1,670.09 469.4,669.32 470.7,669.72 472.0,669.33 473.35,668.27 474.7,665.81 476.0,666.78 477.3,666.66 478.6,666.31 479.9,666.25 480.8,667.15 481.7,667.12 482.6,667.57 483.9,668.82 485.2,669.46 486.5,670.65 487.8,672.0 489.1,672.8 490.4,673.83 491.3,674.03 492.2,674.12 493.1,674.63 494.4,673.61 495.7,673.2 497.0,672.01 498.3,671.26 499.47,670.23 500.63,669.71 501.8,668.76 502.97,668.71 504.13,667.85 505.3,666.82 506.65,666.03 508.0,665.39 509.3,665.0 510.6,665.99 511.9,668.49 513.2,671.4 514.5,672.85 515.8,673.6 516.97,673.94 518.13,674.34 519.3,674.83 520.36,674.26 521.42,674.7 522.48,674.59 523.54,674.52 524.6,674.31 525.9,673.21 527.2,671.9 528.37,671.1 529.53,670.18 530.7,669.92 531.8,668.73 532.9,667.9 534.0,667.08 535.1,667.01 536.27,667.43 537.43,667.65 538.6,667.7 539.77,667.87 540.93,668.11 542.1,668.46 543.27,668.43 544.43,668.92 545.6,668.99 546.8,669.82 548.0,670.03 549.0,669.91 550.0,669.9 551.0,670.82 552.0,670.76 553.0,671.34 554.0,671.55 555.0,671.49 556.0,671.18 557.0,670.8 558.0,670.13 559.0,670.0 560.0,669.15 561.0,668.99 562.0,668.43 563.0,668.31 564.0,668.64 565.0,669.27 566.0,670.17 567.0,670.76 568.0,671.08 569.0,671.03 570.0,671.23 571.0,671.14 572.0,671.19 573.0,671.11 574.0,670.43 575.0,670.14 576.0,670.5 577.0,669.52 578.0,669.8 579.0,670.33 580.0,670.39 581.0,671.7 582.0,672.35 583.0,671.71 584.0,671.41 585.0,671.08 586.0,670.08 587.0,669.82 588.0,669.2 589.0,668.9 590.0,668.27 591.0,668.69 592.0,668.88 593.0,669.55 594.0,669.76 595.0,669.91 596.0,669.62 597.0,669.58 598.0,669.8 599.0,670.14 600.0,670.04 601.0,670.35 602.0,669.75 603.0,669.46 604.0,669.11 605.0,667.5 606.0,665.66 607.0,663.55 608.0,662.8 609.0,661.29 610.0,659.6 611.0,659.77 612.0,660.01 613.0,659.61 614.0,661.21 615.0,661.78 616.0,662.62 617.0,662.12 618.0,661.87 619.0,660.73 620.0,662.22 621.0,663.43 622.0,663.99 623.0,665.56 624.0,667.31 625.0,669.17 626.0,668.57 627.0,667.77 628.0,667.13 629.0,665.12 630.0,663.68 631.0,662.28 632.0,661.22 633.0,659.82 634.0,659.06 634.9,658.56 635.8,658.6 636.7,658.79 637.6,659.15 638.5,659.17 639.4,659.16 640.3,658.81 641.2,659.01 642.1,658.97 643.0,658.97 644.0,660.66 645.0,663.35 646.0,667.23 647.0,672.43 648.0,672.59 649.0,671.97 650.0,672.56 651.0,673.09 652.0,673.42 653.0,673.62 654.0,674.13 655.0,674.74 656.0,675.4 657.0,674.74 658.0,675.07 659.0,674.68 660.0,675.02 661.0,675.06 662.0,673.97 663.0,674.24 664.0,673.61 665.0,672.75 666.0,671.38 667.0,669.76 668.0,666.86 669.0,662.99 670.0,660.57 671.0,658.55 672.0,659.49 673.0,659.96 674.0,661.82 675.0,663.68 676.0,665.86 677.0,665.03 678.0,664.71 679.0,663.15 680.0,664.53 681.0,665.31 682.0,666.66 683.0,669.38 684.0,669.89 685.0,670.4 685,675.8" fill="#fbcd4c"/>
<line x1="78" y1="675.8" x2="685" y2="675.8" stroke="#b89230" stroke-width="1.3" />
<line x1="76.3" y1="656.6" x2="76.3" y2="675.8" stroke="#444" stroke-width="1.5" />
<text x="81" y="660.8" font-size="6.0" fill="#444" textLength="23" lengthAdjust="spacingAndGlyphs" >[0 - 5.00]</text>
<text x="41.5" y="661.7" font-size="8.4" text-anchor="middle" fill="#222" textLength="58.1" lengthAdjust="spacingAndGlyphs" >ChIP-seq H-NS</text>
<text x="41.4" y="672.2" font-size="8.4" text-anchor="middle" fill="#222" textLength="65.7" lengthAdjust="spacingAndGlyphs" >(ChIP/Input, log2)</text>
<rect x="151.3" y="681.0" width="265.9" height="5.4" fill="#e0cf8a" />
<rect x="434.5" y="681.0" width="52.80000000000001" height="5.4" fill="#e0cf8a" />
<rect x="495.2" y="681.0" width="20.099999999999966" height="5.4" fill="#e0cf8a" />
<rect x="527.6" y="681.0" width="124.60000000000002" height="5.4" fill="#e0cf8a" />
<rect x="662" y="681.0" width="23" height="5.4" fill="#e0cf8a" />
<line x1="76.3" y1="680.2" x2="76.3" y2="687.2" stroke="#444" stroke-width="1.5" />
<line x1="77.5" y1="689.6" x2="685" y2="689.6" stroke="#555" stroke-width="1.2" />
<text x="72.6" y="686.5" font-size="8.4" text-anchor="end" fill="#222" textLength="28.8" lengthAdjust="spacingAndGlyphs" >MACS2</text>
<line x1="111.7" y1="528" x2="111.7" y2="679.5" stroke="#777" stroke-width="0.7" stroke-dasharray="1.2,1.6"/>
<line x1="669.5" y1="528" x2="669.5" y2="679.5" stroke="#777" stroke-width="0.7" stroke-dasharray="1.2,1.6"/>
<text x="286.0" y="710.9" font-size="13.2" textLength="72.1" lengthAdjust="spacingAndGlyphs" >SPI-1, GFP</text>
<rect x="359.6" y="701.9" width="4.0" height="1.0" fill="#1a1a1a" />
<rect x="361.1" y="700.4" width="1.0" height="4.0" fill="#1a1a1a" />
<text x="369.3" y="710.9" font-size="13.2" textLength="75.2" lengthAdjust="spacingAndGlyphs" >cells in ESP</text>
<rect x="111.6" y="717.3" width="558.0" height="4.4" fill="#9b9b9b" />
<rect x="114" y="717.3" width="3.4000000000000057" height="65.6" fill="#2f6e4c" />
<rect x="179.6" y="717.3" width="3.200000000000017" height="65.6" fill="#e0861a" />
<rect x="192" y="717.3" width="3" height="65.6" fill="#2f6e4c" />
<rect x="342" y="717.3" width="3" height="65.6" fill="#2f6e4c" />
<rect x="354" y="717.3" width="3.1999999999999886" height="65.6" fill="#e0861a" />
<rect x="525.1" y="717.3" width="3.199999999999932" height="65.6" fill="#2f6e4c" />
<rect x="634.6" y="717.3" width="3.199999999999932" height="65.6" fill="#e0861a" />
<rect x="90" y="739.8" width="18" height="5.8" fill="#7a7a7a" />
<path d="M98.1,741.1 L99.9,742.7 L98.1,744.3" fill="none" stroke="#ece6e0" stroke-width="1.05"/>
<rect x="108.6" y="739.8" width="3.0" height="5.8" fill="#7a7a7a" />
<rect x="115" y="739.8" width="11.599999999999994" height="5.8" fill="#a0a0a0" />
<path d="M119.89999999999999,741.1 L121.7,742.7 L119.89999999999999,744.3" fill="none" stroke="#ece6e0" stroke-width="1.05"/>
<rect x="137.6" y="739.8" width="11.400000000000006" height="5.8" fill="#a0a0a0" />
<path d="M142.4,741.1 L144.20000000000002,742.7 L142.4,744.3" fill="none" stroke="#ece6e0" stroke-width="1.05"/>
<rect x="161.6" y="739.8" width="11.599999999999994" height="5.8" fill="#a0a0a0" />
<path d="M168.29999999999998,741.1 L166.49999999999997,742.7 L168.29999999999998,744.3" fill="none" stroke="#ece6e0" stroke-width="1.05"/>
<rect x="175.6" y="739.8" width="10.0" height="5.8" fill="#a0a0a0" />
<path d="M181.5,741.1 L179.7,742.7 L181.5,744.3" fill="none" stroke="#ece6e0" stroke-width="1.05"/>
<rect x="191" y="739.8" width="11.599999999999994" height="5.8" fill="#f4847f" />
<path d="M197.70000000000002,741.1 L195.9,742.7 L197.70000000000002,744.3" fill="none" stroke="#ece6e0" stroke-width="1.05"/>
<rect x="207" y="739.8" width="5.800000000000011" height="5.8" fill="#6e6259" />
<path d="M210.8,741.1 L209.0,742.7 L210.8,744.3" fill="none" stroke="#ece6e0" stroke-width="1.05"/>
<rect x="221.3" y="739.8" width="8.099999999999994" height="5.8" fill="#6e6259" />
<path d="M226.25000000000003,741.1 L224.45000000000002,742.7 L226.25000000000003,744.3" fill="none" stroke="#ece6e0" stroke-width="1.05"/>
<rect x="239.1" y="739.8" width="4.099999999999994" height="5.8" fill="#6e6259" />
<path d="M242.04999999999998,741.1 L240.24999999999997,742.7 L242.04999999999998,744.3" fill="none" stroke="#ece6e0" stroke-width="1.05"/>
<rect x="243.4" y="739.8" width="3.0999999999999943" height="5.8" fill="#6e6259" />
<rect x="246.5" y="739.8" width="16.30000000000001" height="5.8" fill="#6e6259" />
<path d="M255.55,741.1 L253.75,742.7 L255.55,744.3" fill="none" stroke="#ece6e0" stroke-width="1.05"/>
<rect x="266.8" y="739.8" width="12.599999999999966" height="5.8" fill="#f4847f" />
<rect x="267.2" y="740.4" width="11.799999999999965" height="4.5" fill="none" stroke="#333" stroke-width="0.8" />
<path d="M272.20000000000005,741.1 L274.0,742.7 L272.20000000000005,744.3" fill="none" stroke="#ece6e0" stroke-width="1.05"/>
<rect x="294" y="739.8" width="22" height="5.8" fill="#f4847f" />
<path d="M304.1,741.1 L305.9,742.7 L304.1,744.3" fill="none" stroke="#ece6e0" stroke-width="1.05"/>
<rect x="316" y="739.8" width="6.399999999999977" height="5.8" fill="#6e6259" />
<path d="M318.3,741.1 L320.09999999999997,742.7 L318.3,744.3" fill="none" stroke="#ece6e0" stroke-width="1.05"/>
<rect x="323" y="739.8" width="22" height="5.8" fill="#6e6259" />
<path d="M334.9,741.1 L333.1,742.7 L334.9,744.3" fill="none" stroke="#ece6e0" stroke-width="1.05"/>
<rect x="354.4" y="739.8" width="2.6000000000000227" height="5.8" fill="#6e6259" />
<rect x="358" y="739.8" width="27.600000000000023" height="5.8" fill="#6e6259" />
<path d="M372.7,741.1 L370.90000000000003,742.7 L372.7,744.3" fill="none" stroke="#ece6e0" stroke-width="1.05"/>
<rect x="385.6" y="739.8" width="14.0" height="5.8" fill="#6e6259" />
<path d="M393.5,741.1 L391.70000000000005,742.7 L393.5,744.3" fill="none" stroke="#ece6e0" stroke-width="1.05"/>
<rect x="400" y="739.8" width="16.399999999999977" height="5.8" fill="#6e6259" />
<path d="M409.09999999999997,741.1 L407.3,742.7 L409.09999999999997,744.3" fill="none" stroke="#ece6e0" stroke-width="1.05"/>
<rect x="417" y="739.8" width="24" height="5.8" fill="#6e6259" />
<path d="M429.9,741.1 L428.1,742.7 L429.9,744.3" fill="none" stroke="#ece6e0" stroke-width="1.05"/>
<rect x="449" y="739.8" width="14" height="5.8" fill="#6e6259" />
<path d="M456.9,741.1 L455.1,742.7 L456.9,744.3" fill="none" stroke="#ece6e0" stroke-width="1.05"/>
<rect x="474" y="739.8" width="6" height="5.8" fill="#6e6259" />
<path d="M477.9,741.1 L476.1,742.7 L477.9,744.3" fill="none" stroke="#ece6e0" stroke-width="1.05"/>
<rect x="480" y="739.8" width="7" height="5.8" fill="#6e6259" />
<path d="M484.4,741.1 L482.6,742.7 L484.4,744.3" fill="none" stroke="#ece6e0" stroke-width="1.05"/>
<rect x="498.6" y="739.8" width="13.0" height="5.8" fill="#6e6259" />
<path d="M506.0,741.1 L504.20000000000005,742.7 L506.0,744.3" fill="none" stroke="#ece6e0" stroke-width="1.05"/>
<rect x="517.4" y="739.8" width="17.200000000000045" height="5.8" fill="#6e6259" />
<path d="M526.9,741.1 L525.1,742.7 L526.9,744.3" fill="none" stroke="#ece6e0" stroke-width="1.05"/>
<rect x="540.4" y="739.8" width="26.600000000000023" height="5.8" fill="#6e6259" />
<path d="M554.6,741.1 L552.8000000000001,742.7 L554.6,744.3" fill="none" stroke="#ece6e0" stroke-width="1.05"/>
<rect x="567.6" y="739.8" width="15.399999999999977" height="5.8" fill="#6e6259" />
<path d="M576.1999999999999,741.1 L574.4,742.7 L576.1999999999999,744.3" fill="none" stroke="#ece6e0" stroke-width="1.05"/>
<rect x="605.4" y="739.8" width="8.600000000000023" height="5.8" fill="#f4847f" />
<path d="M610.6,741.1 L608.8000000000001,742.7 L610.6,744.3" fill="none" stroke="#ece6e0" stroke-width="1.05"/>
<rect x="620" y="739.8" width="6" height="5.8" fill="#6e6259" />
<path d="M622.1,741.1 L623.9,742.7 L622.1,744.3" fill="none" stroke="#ece6e0" stroke-width="1.05"/>
<rect x="632" y="739.8" width="6" height="5.8" fill="#6e6259" />
<path d="M634.1,741.1 L635.9,742.7 L634.1,744.3" fill="none" stroke="#ece6e0" stroke-width="1.05"/>
<rect x="645.4" y="739.8" width="4.600000000000023" height="5.8" fill="#6d6d6d" />
<path d="M648.6,741.1 L646.8000000000001,742.7 L648.6,744.3" fill="none" stroke="#ece6e0" stroke-width="1.05"/>
<rect x="653" y="739.8" width="1.3999999999999773" height="5.8" fill="#6d6d6d" />
<rect x="659" y="739.8" width="4" height="5.8" fill="#6d6d6d" />
<path d="M660.1,741.1 L661.9,742.7 L660.1,744.3" fill="none" stroke="#ece6e0" stroke-width="1.05"/>
<rect x="671.4" y="739.8" width="3.0" height="5.8" fill="#8a8a8a" />
<rect x="126.6" y="754.6999999999999" width="11.0" height="5.8" fill="#a0a0a0" />
<path d="M131.2,756.0 L133.0,757.6 L131.2,759.1999999999999" fill="none" stroke="#ece6e0" stroke-width="1.05"/>
<rect x="149" y="754.6999999999999" width="11" height="5.8" fill="#a0a0a0" />
<path d="M153.6,756.0 L155.4,757.6 L153.6,759.1999999999999" fill="none" stroke="#ece6e0" stroke-width="1.05"/>
<rect x="213.1" y="754.6999999999999" width="8.700000000000017" height="5.8" fill="#6e6259" />
<path d="M218.35,756.0 L216.54999999999998,757.6 L218.35,759.1999999999999" fill="none" stroke="#ece6e0" stroke-width="1.05"/>
<rect x="223.9" y="754.6999999999999" width="3.9000000000000057" height="5.8" fill="#6e6259" />
<path d="M224.95000000000002,756.0 L226.75000000000003,757.6 L224.95000000000002,759.1999999999999" fill="none" stroke="#ece6e0" stroke-width="1.05"/>
<rect x="229" y="754.6999999999999" width="10.099999999999994" height="5.8" fill="#6e6259" />
<path d="M234.95000000000002,756.0 L233.15,757.6 L234.95000000000002,759.1999999999999" fill="none" stroke="#ece6e0" stroke-width="1.05"/>
<rect x="243.4" y="754.6999999999999" width="1.5999999999999943" height="5.8" fill="#b0a8a0" />
<rect x="345" y="754.6999999999999" width="5" height="5.8" fill="#6e6259" />
<path d="M348.4,756.0 L346.6,757.6 L348.4,759.1999999999999" fill="none" stroke="#ece6e0" stroke-width="1.05"/>
<rect x="376.6" y="754.6999999999999" width="4.0" height="5.8" fill="#6e6259" />
<path d="M377.70000000000005,756.0 L379.5,757.6 L377.70000000000005,759.1999999999999" fill="none" stroke="#ece6e0" stroke-width="1.05"/>
<rect x="441" y="754.6999999999999" width="6" height="5.8" fill="#6e6259" />
<path d="M444.9,756.0 L443.1,757.6 L444.9,759.1999999999999" fill="none" stroke="#ece6e0" stroke-width="1.05"/>
<rect x="463" y="754.6999999999999" width="10.600000000000023" height="5.8" fill="#6e6259" />
<path d="M469.2,756.0 L467.40000000000003,757.6 L469.2,759.1999999999999" fill="none" stroke="#ece6e0" stroke-width="1.05"/>
<rect x="486.4" y="754.6999999999999" width="12.0" height="5.8" fill="#6e6259" />
<path d="M493.29999999999995,756.0 L491.5,757.6 L493.29999999999995,759.1999999999999" fill="none" stroke="#ece6e0" stroke-width="1.05"/>
<rect x="512" y="754.6999999999999" width="6" height="5.8" fill="#6e6259" />
<path d="M515.9,756.0 L514.1,757.6 L515.9,759.1999999999999" fill="none" stroke="#ece6e0" stroke-width="1.05"/>
<rect x="534.4" y="754.6999999999999" width="5.600000000000023" height="5.8" fill="#6e6259" />
<path d="M538.1,756.0 L536.3000000000001,757.6 L538.1,759.1999999999999" fill="none" stroke="#ece6e0" stroke-width="1.05"/>
<rect x="583" y="754.6999999999999" width="22.600000000000023" height="5.8" fill="#6e6259" />
<path d="M595.1999999999999,756.0 L593.4,757.6 L595.1999999999999,759.1999999999999" fill="none" stroke="#ece6e0" stroke-width="1.05"/>
<rect x="637.4" y="754.6999999999999" width="4.600000000000023" height="5.8" fill="#6d6d6d" />
<path d="M638.8000000000001,756.0 L640.6,757.6 L638.8000000000001,759.1999999999999" fill="none" stroke="#ece6e0" stroke-width="1.05"/>
<rect x="663" y="754.6999999999999" width="7" height="5.8" fill="#6d6d6d" />
<path d="M665.6,756.0 L667.4,757.6 L665.6,759.1999999999999" fill="none" stroke="#ece6e0" stroke-width="1.05"/>
<line x1="243.2" y1="739.8" x2="243.2" y2="745.6" stroke="#b9aea6" stroke-width="0.6" />
<line x1="246.5" y1="739.8" x2="246.5" y2="745.6" stroke="#b9aea6" stroke-width="0.6" />
<line x1="322.4" y1="739.8" x2="322.4" y2="745.6" stroke="#b9aea6" stroke-width="0.6" />
<line x1="385.6" y1="739.8" x2="385.6" y2="745.6" stroke="#b9aea6" stroke-width="0.6" />
<line x1="399.6" y1="739.8" x2="399.6" y2="745.6" stroke="#b9aea6" stroke-width="0.6" />
<line x1="416.4" y1="739.8" x2="416.4" y2="745.6" stroke="#b9aea6" stroke-width="0.6" />
<line x1="480" y1="739.8" x2="480" y2="745.6" stroke="#b9aea6" stroke-width="0.6" />
<line x1="567" y1="739.8" x2="567" y2="745.6" stroke="#b9aea6" stroke-width="0.6" />
<text x="121" y="752.5" font-size="7.3" text-anchor="middle" fill="#222" textLength="10.17" lengthAdjust="spacingAndGlyphs" font-style="italic" >sitA</text>
<text x="143.3" y="752.5" font-size="7.3" text-anchor="middle" fill="#222" textLength="10.51" lengthAdjust="spacingAndGlyphs" font-style="italic" >sitC</text>
<text x="167.4" y="752.5" font-size="7.3" text-anchor="middle" fill="#222" textLength="12.54" lengthAdjust="spacingAndGlyphs" font-style="italic" >avrA</text>
<text x="180.6" y="752.5" font-size="7.3" text-anchor="middle" fill="#222" textLength="12.54" lengthAdjust="spacingAndGlyphs" font-style="italic" >sprB</text>
<text x="196.8" y="752.5" font-size="7.3" text-anchor="middle" fill="#222" textLength="10.51" lengthAdjust="spacingAndGlyphs" font-style="italic" >hilC</text>
<text x="210" y="752.5" font-size="7.3" text-anchor="middle" fill="#222" textLength="13.22" lengthAdjust="spacingAndGlyphs" font-style="italic" >orgC</text>
<text x="225.5" y="752.5" font-size="7.3" text-anchor="middle" fill="#222" textLength="12.88" lengthAdjust="spacingAndGlyphs" font-style="italic" >orgA</text>
<text x="254.9" y="752.5" font-size="7.3" text-anchor="middle" fill="#222" textLength="13.22" lengthAdjust="spacingAndGlyphs" font-style="italic" >prgH</text>
<text x="274.7" y="752.5" font-size="7.3" text-anchor="middle" fill="#222" textLength="10.51" lengthAdjust="spacingAndGlyphs" font-style="italic" >hilD</text>
<text x="305" y="752.5" font-size="7.3" text-anchor="middle" fill="#222" textLength="10.17" lengthAdjust="spacingAndGlyphs" font-style="italic" >hilA</text>
<text x="319.2" y="752.5" font-size="7.3" text-anchor="middle" fill="#222" textLength="12.21" lengthAdjust="spacingAndGlyphs" font-style="italic" >lagB</text>
<text x="334" y="752.5" font-size="7.3" text-anchor="middle" fill="#222" textLength="12.21" lengthAdjust="spacingAndGlyphs" font-style="italic" >sptP</text>
<text x="356.5" y="752.5" font-size="7.3" text-anchor="middle" fill="#222" textLength="11.87" lengthAdjust="spacingAndGlyphs" font-style="italic" >iacP</text>
<text x="371.6" y="752.5" font-size="7.3" text-anchor="middle" fill="#222" textLength="11.87" lengthAdjust="spacingAndGlyphs" font-style="italic" >sipA</text>
<text x="392.6" y="752.5" font-size="7.3" text-anchor="middle" fill="#222" textLength="12.2" lengthAdjust="spacingAndGlyphs" font-style="italic" >sipD</text>
<text x="408.4" y="752.5" font-size="7.3" text-anchor="middle" fill="#222" textLength="12.2" lengthAdjust="spacingAndGlyphs" font-style="italic" >sipC</text>
<text x="429" y="752.5" font-size="7.3" text-anchor="middle" fill="#222" textLength="11.87" lengthAdjust="spacingAndGlyphs" font-style="italic" >sipB</text>
<text x="456" y="752.5" font-size="7.3" text-anchor="middle" fill="#222" textLength="13.9" lengthAdjust="spacingAndGlyphs" font-style="italic" >spaS</text>
<text x="505" y="752.5" font-size="7.3" text-anchor="middle" fill="#222" textLength="10.85" lengthAdjust="spacingAndGlyphs" font-style="italic" >invJ</text>
<text x="526" y="752.5" font-size="7.3" text-anchor="middle" fill="#222" textLength="12.2" lengthAdjust="spacingAndGlyphs" font-style="italic" >invC</text>
<text x="553.7" y="752.5" font-size="7.3" text-anchor="middle" fill="#222" textLength="11.87" lengthAdjust="spacingAndGlyphs" font-style="italic" >invA</text>
<text x="575.3" y="752.5" font-size="7.3" text-anchor="middle" fill="#222" textLength="11.87" lengthAdjust="spacingAndGlyphs" font-style="italic" >invE</text>
<text x="609.7" y="752.5" font-size="7.3" text-anchor="middle" fill="#222" textLength="11.52" lengthAdjust="spacingAndGlyphs" font-style="italic" >invF</text>
<text x="132.1" y="766.9" font-size="7.3" text-anchor="middle" fill="#222" textLength="10.17" lengthAdjust="spacingAndGlyphs" font-style="italic" >sitB</text>
<text x="154.5" y="766.9" font-size="7.3" text-anchor="middle" fill="#222" textLength="10.51" lengthAdjust="spacingAndGlyphs" font-style="italic" >sitD</text>
<text x="347.5" y="766.9" font-size="7.3" text-anchor="middle" fill="#222" textLength="11.52" lengthAdjust="spacingAndGlyphs" font-style="italic" >sicP</text>
<text x="444" y="766.9" font-size="7.3" text-anchor="middle" fill="#222" textLength="11.52" lengthAdjust="spacingAndGlyphs" font-style="italic" >sicA</text>
<text x="468.3" y="766.9" font-size="7.3" text-anchor="middle" fill="#222" textLength="14.24" lengthAdjust="spacingAndGlyphs" font-style="italic" >spaR</text>
<text x="492.4" y="766.9" font-size="7.3" text-anchor="middle" fill="#222" textLength="14.58" lengthAdjust="spacingAndGlyphs" font-style="italic" >spaO</text>
<text x="515" y="766.9" font-size="7.3" text-anchor="middle" fill="#222" textLength="9.49" lengthAdjust="spacingAndGlyphs" font-style="italic" >invI</text>
<text x="537.2" y="766.9" font-size="7.3" text-anchor="middle" fill="#222" textLength="11.87" lengthAdjust="spacingAndGlyphs" font-style="italic" >invB</text>
<text x="594.3" y="766.9" font-size="7.3" text-anchor="middle" fill="#222" textLength="12.54" lengthAdjust="spacingAndGlyphs" font-style="italic" >invG</text>
<text x="242.6" y="738.9" font-size="6.0" fill="#222" font-style="italic" transform="rotate(-80 242.6 738.9)" >prgJ</text>
<text x="245.3" y="739.1" font-size="6.3" fill="#222" font-style="italic" transform="rotate(-47 245.3 739.1)" >prgI</text>
<text x="209.6" y="774.1" font-size="6.5" fill="#222" font-style="italic" transform="rotate(-47 209.6 774.1)" >orgB</text>
<text x="207.9" y="783.3" font-size="6.5" fill="#222" font-style="italic" transform="rotate(-47 207.9 783.3)" >STnc4240</text>
<text x="227.2" y="775.1" font-size="6.5" fill="#222" font-style="italic" transform="rotate(-47 227.2 775.1)" >prgK</text>
<text x="231.8" y="779.9" font-size="6.5" fill="#222" font-style="italic" transform="rotate(-47 231.8 779.9)" >STnc3020</text>
<text x="364.8" y="782.2" font-size="6.5" fill="#222" font-style="italic" transform="rotate(-44 364.8 782.2)" >STnc1410</text>
<text x="474.5" y="739.2" font-size="6.3" fill="#222" font-style="italic" transform="rotate(-45 474.5 739.2)" >spaQ</text>
<text x="476.0" y="759.3" font-size="6.3" fill="#222" font-style="italic" transform="rotate(-51 476.0 759.3)" >spaP</text>
<text x="620.9" y="738.5" font-size="6.5" fill="#222" font-style="italic" transform="rotate(-43 620.9 738.5)" >invH</text>
<text x="632.7" y="739.6" font-size="7.0" fill="#222" font-style="italic" transform="rotate(-47 632.7 739.6)" >SL1344_2880</text>
<text x="620.9" y="756.7" font-size="6.5" fill="#222" font-style="italic" transform="rotate(-56 620.9 756.7)" >invR</text>
<text x="612.4" y="779.0" font-size="6.5" fill="#222" font-style="italic" transform="rotate(-49 612.4 779.0)" >rna-invR</text>
<text x="647.8" y="738.9" font-size="3.8" fill="#aaa" font-style="italic" transform="rotate(-44 647.8 738.9)" >SL1344_2882</text>
<text x="660.5" y="738.9" font-size="3.8" fill="#aaa" font-style="italic" transform="rotate(-44 660.5 738.9)" >SL1344_2884</text>
<text x="644.5" y="757.6" font-size="3.8" fill="#aaa" font-style="italic" transform="rotate(-44 644.5 757.6)" >SL1344_</text>
<text x="648" y="761.5" font-size="3.8" fill="#aaa" font-style="italic" transform="rotate(-44 648 761.5)" >2883</text>
<text x="622.1" y="779.9" font-size="3.8" fill="#aaa" font-style="italic" transform="rotate(-44 622.1 779.9)" >SL1344_2881</text>
<text x="649.7" y="779.9" font-size="3.8" fill="#aaa" font-style="italic" transform="rotate(-44 649.7 779.9)" >SL1344_2885</text>
<text x="96" y="738.1" font-size="3.6" fill="#b0b0b0" textLength="7.6" lengthAdjust="spacingAndGlyphs" >rtgA</text>
<text x="674" y="753.0" font-size="4.5" fill="#999" font-style="italic" >rpsB</text>
<line x1="76" y1="718.2" x2="76" y2="781.0" stroke="#444" stroke-width="1.5" />
<text x="69.8" y="749.9" font-size="8.4" text-anchor="end" fill="#222" >Genes</text>
<text x="48.1" y="791.0" font-size="8.4" text-anchor="middle" fill="#222" >Genomic</text>
<text x="49.3" y="801.6" font-size="8.4" text-anchor="middle" fill="#222" >coordinates</text>
<line x1="75.6" y1="793.1" x2="75.6" y2="802.6" stroke="#444" stroke-width="1.5" />
<line x1="78" y1="802.6" x2="685" y2="802.6" stroke="#9a9a9a" stroke-width="1.3" />
<line x1="125.6" y1="802.6" x2="125.6" y2="798.1" stroke="#444" stroke-width="0.9" />
<line x1="191.8" y1="802.6" x2="191.8" y2="798.1" stroke="#444" stroke-width="0.9" />
<line x1="258.0" y1="802.6" x2="258.0" y2="798.1" stroke="#444" stroke-width="0.9" />
<line x1="324.20000000000005" y1="802.6" x2="324.20000000000005" y2="798.1" stroke="#444" stroke-width="0.9" />
<line x1="390.4" y1="802.6" x2="390.4" y2="798.1" stroke="#444" stroke-width="0.9" />
<line x1="456.6" y1="802.6" x2="456.6" y2="798.1" stroke="#444" stroke-width="0.9" />
<line x1="522.8000000000001" y1="802.6" x2="522.8000000000001" y2="798.1" stroke="#444" stroke-width="0.9" />
<line x1="589.0" y1="802.6" x2="589.0" y2="798.1" stroke="#444" stroke-width="0.9" />
<line x1="655.2" y1="802.6" x2="655.2" y2="798.1" stroke="#444" stroke-width="0.9" />
<text x="128.29999999999998" y="796.6" font-size="7.1" text-anchor="middle" textLength="25.4" lengthAdjust="spacingAndGlyphs" >3030 kb</text>
<text x="260.7" y="796.6" font-size="7.1" text-anchor="middle" textLength="25.4" lengthAdjust="spacingAndGlyphs" >3040 kb</text>
<text x="393.09999999999997" y="796.6" font-size="7.1" text-anchor="middle" textLength="25.4" lengthAdjust="spacingAndGlyphs" >3050 kb</text>
<text x="525.5000000000001" y="796.6" font-size="7.1" text-anchor="middle" textLength="25.4" lengthAdjust="spacingAndGlyphs" >3060 kb</text>
<text x="657.9000000000001" y="796.6" font-size="7.1" text-anchor="middle" textLength="25.4" lengthAdjust="spacingAndGlyphs" >3070 kb</text>
<line x1="77.5" y1="809.5" x2="685" y2="809.5" stroke="#555" stroke-width="1.2" />
<line x1="76.3" y1="810.3" x2="76.3" y2="831.0999999999999" stroke="#444" stroke-width="1.5" />
<rect x="150.0" y="831.32" width="0.7" height="0.98" fill="#3a3558" />
<rect x="151.58" y="830.61" width="0.7" height="1.69" fill="#3a3558" />
<rect x="153.04" y="831.24" width="0.7" height="1.06" fill="#3a3558" />
<rect x="154.66" y="831.72" width="0.7" height="0.58" fill="#3a3558" />
<rect x="156.17" y="831.06" width="0.7" height="1.24" fill="#3a3558" />
<rect x="158.08" y="831.86" width="0.7" height="0.44" fill="#3a3558" />
<rect x="159.31" y="831.86" width="0.7" height="0.44" fill="#3a3558" />
<rect x="161.24" y="830.96" width="0.7" height="1.34" fill="#3a3558" />
<rect x="162.1" y="830.53" width="0.7" height="1.77" fill="#3a3558" />
<rect x="164.25" y="831.02" width="0.7" height="1.28" fill="#3a3558" />
<rect x="165.91" y="831.76" width="0.7" height="0.54" fill="#3a3558" />
<rect x="166.74" y="831.21" width="0.7" height="1.09" fill="#3a3558" />
<rect x="167.62" y="831.71" width="0.7" height="0.59" fill="#3a3558" />
<rect x="168.76" y="831.95" width="0.7" height="0.35" fill="#3a3558" />
<rect x="170.21" y="831.34" width="0.7" height="0.96" fill="#3a3558" />
<rect x="172.19" y="831.22" width="0.7" height="1.08" fill="#3a3558" />
<rect x="173.88" y="831.25" width="0.7" height="1.05" fill="#3a3558" />
<rect x="175.61" y="831.31" width="0.7" height="0.99" fill="#3a3558" />
<rect x="176.8" y="830.5" width="0.7" height="1.8" fill="#3a3558" />
<rect x="178.99" y="830.74" width="0.7" height="1.56" fill="#3a3558" />
<rect x="180.78" y="831.53" width="0.7" height="0.77" fill="#3a3558" />
<rect x="181.91" y="831.57" width="0.7" height="0.73" fill="#3a3558" />
<rect x="182.8" y="830.85" width="0.7" height="1.45" fill="#3a3558" />
<rect x="184.16" y="830.73" width="0.7" height="1.57" fill="#3a3558" />
<rect x="185.51" y="830.56" width="0.7" height="1.74" fill="#3a3558" />
<rect x="187.49" y="832.0" width="0.7" height="0.3" fill="#3a3558" />
<rect x="188.59" y="830.63" width="0.7" height="1.67" fill="#3a3558" />
<rect x="190.04" y="830.53" width="0.7" height="1.77" fill="#3a3558" />
<rect x="191.4" y="831.89" width="0.7" height="0.41" fill="#3a3558" />
<rect x="193.08" y="830.83" width="0.7" height="1.47" fill="#3a3558" />
<rect x="194.26" y="831.87" width="0.7" height="0.43" fill="#3a3558" />
<rect x="195.52" y="830.55" width="0.7" height="1.75" fill="#3a3558" />
<rect x="197.39" y="831.82" width="0.7" height="0.48" fill="#3a3558" />
<rect x="198.53" y="831.85" width="0.7" height="0.45" fill="#3a3558" />
<rect x="199.41" y="830.8" width="0.7" height="1.5" fill="#3a3558" />
<rect x="200.46" y="831.16" width="0.7" height="1.14" fill="#3a3558" />
<rect x="201.89" y="831.71" width="0.7" height="0.59" fill="#3a3558" />
<rect x="203.71" y="831.8" width="0.7" height="0.5" fill="#3a3558" />
<rect x="205.42" y="831.83" width="0.7" height="0.47" fill="#3a3558" />
<rect x="206.8" y="831.68" width="0.7" height="0.62" fill="#3a3558" />
<rect x="207.98" y="830.54" width="0.7" height="1.76" fill="#3a3558" />
<rect x="209.91" y="831.54" width="0.7" height="0.76" fill="#3a3558" />
<rect x="211.95" y="831.68" width="0.7" height="0.62" fill="#3a3558" />
<rect x="213.3" y="830.72" width="0.7" height="1.58" fill="#3a3558" />
<rect x="215.0" y="831.85" width="0.7" height="0.45" fill="#3a3558" />
<rect x="217.18" y="831.68" width="0.7" height="0.62" fill="#3a3558" />
<rect x="218.34" y="830.84" width="0.7" height="1.46" fill="#3a3558" />
<rect x="219.6" y="831.56" width="0.7" height="0.74" fill="#3a3558" />
<rect x="220.51" y="831.86" width="0.7" height="0.44" fill="#3a3558" />
<rect x="222.12" y="831.64" width="0.7" height="0.66" fill="#3a3558" />
<rect x="223.76" y="831.44" width="0.7" height="0.86" fill="#3a3558" />
<rect x="225.2" y="830.56" width="0.7" height="1.74" fill="#3a3558" />
<rect x="226.68" y="831.14" width="0.7" height="1.16" fill="#3a3558" />
<rect x="228.69" y="831.73" width="0.7" height="0.57" fill="#3a3558" />
<rect x="229.7" y="830.64" width="0.7" height="1.66" fill="#3a3558" />
<rect x="231.65" y="831.63" width="0.7" height="0.67" fill="#3a3558" />
<rect x="232.72" y="830.89" width="0.7" height="1.41" fill="#3a3558" />
<rect x="234.83" y="831.71" width="0.7" height="0.59" fill="#3a3558" />
<rect x="236.96" y="830.68" width="0.7" height="1.62" fill="#3a3558" />
<rect x="238.61" y="831.37" width="0.7" height="0.93" fill="#3a3558" />
<rect x="239.55" y="831.94" width="0.7" height="0.36" fill="#3a3558" />
<rect x="241.7" y="831.64" width="0.7" height="0.66" fill="#3a3558" />
<rect x="243.49" y="831.61" width="0.7" height="0.69" fill="#3a3558" />
<rect x="245.44" y="831.11" width="0.7" height="1.19" fill="#3a3558" />
<rect x="246.65" y="831.74" width="0.7" height="0.56" fill="#3a3558" />
<rect x="248.46" y="831.9" width="0.7" height="0.4" fill="#3a3558" />
<rect x="249.58" y="831.16" width="0.7" height="1.14" fill="#3a3558" />
<rect x="251.57" y="831.08" width="0.7" height="1.22" fill="#3a3558" />
<rect x="252.76" y="830.62" width="0.7" height="1.68" fill="#3a3558" />
<rect x="253.85" y="831.98" width="0.7" height="0.32" fill="#3a3558" />
<rect x="255.03" y="831.33" width="0.7" height="0.97" fill="#3a3558" />
<rect x="255.91" y="831.74" width="0.7" height="0.56" fill="#3a3558" />
<rect x="257.23" y="831.14" width="0.7" height="1.16" fill="#3a3558" />
<rect x="258.21" y="831.46" width="0.7" height="0.84" fill="#3a3558" />
<rect x="260.26" y="830.53" width="0.7" height="1.77" fill="#3a3558" />
<rect x="261.98" y="830.96" width="0.7" height="1.34" fill="#3a3558" />
<rect x="263.6" y="831.79" width="0.7" height="0.51" fill="#3a3558" />
<rect x="264.45" y="831.97" width="0.7" height="0.33" fill="#3a3558" />
<rect x="266.52" y="830.95" width="0.7" height="1.35" fill="#3a3558" />
<rect x="268.67" y="831.97" width="0.7" height="0.33" fill="#3a3558" />
<rect x="270.36" y="831.28" width="0.7" height="1.02" fill="#3a3558" />
<rect x="272.18" y="831.52" width="0.7" height="0.78" fill="#3a3558" />
<rect x="274.38" y="831.89" width="0.7" height="0.41" fill="#3a3558" />
<rect x="275.95" y="830.89" width="0.7" height="1.41" fill="#3a3558" />
<rect x="278.01" y="830.89" width="0.7" height="1.41" fill="#3a3558" />
<rect x="279.79" y="830.81" width="0.7" height="1.49" fill="#3a3558" />
<rect x="281.87" y="831.47" width="0.7" height="0.83" fill="#3a3558" />
<rect x="283.63" y="830.65" width="0.7" height="1.65" fill="#3a3558" />
<rect x="285.65" y="831.37" width="0.7" height="0.93" fill="#3a3558" />
<rect x="287.56" y="830.7" width="0.7" height="1.6" fill="#3a3558" />
<rect x="289.16" y="831.06" width="0.7" height="1.24" fill="#3a3558" />
<rect x="290.49" y="831.13" width="0.7" height="1.17" fill="#3a3558" />
<rect x="292.15" y="831.88" width="0.7" height="0.42" fill="#3a3558" />
<rect x="293.84" y="830.51" width="0.7" height="1.79" fill="#3a3558" />
<rect x="295.87" y="830.91" width="0.7" height="1.39" fill="#3a3558" />
<rect x="297.22" y="830.9" width="0.7" height="1.4" fill="#3a3558" />
<rect x="298.83" y="831.34" width="0.7" height="0.96" fill="#3a3558" />
<rect x="300.8" y="831.87" width="0.7" height="0.43" fill="#3a3558" />
<rect x="302.66" y="831.96" width="0.7" height="0.34" fill="#3a3558" />
<rect x="304.3" y="831.28" width="0.7" height="1.02" fill="#3a3558" />
<rect x="305.42" y="830.95" width="0.7" height="1.35" fill="#3a3558" />
<rect x="306.92" y="831.08" width="0.7" height="1.22" fill="#3a3558" />
<rect x="309.0" y="831.62" width="0.7" height="0.68" fill="#3a3558" />
<rect x="309.82" y="831.55" width="0.7" height="0.75" fill="#3a3558" />
<rect x="311.57" y="831.7" width="0.7" height="0.6" fill="#3a3558" />
<rect x="312.61" y="830.64" width="0.7" height="1.66" fill="#3a3558" />
<rect x="314.33" y="831.34" width="0.7" height="0.96" fill="#3a3558" />
<rect x="316.38" y="831.51" width="0.7" height="0.79" fill="#3a3558" />
<rect x="318.11" y="831.7" width="0.7" height="0.6" fill="#3a3558" />
<rect x="319.51" y="830.79" width="0.7" height="1.51" fill="#3a3558" />
<rect x="321.59" y="830.68" width="0.7" height="1.62" fill="#3a3558" />
<rect x="322.93" y="831.13" width="0.7" height="1.17" fill="#3a3558" />
<rect x="324.18" y="831.8" width="0.7" height="0.5" fill="#3a3558" />
<rect x="325.67" y="830.74" width="0.7" height="1.56" fill="#3a3558" />
<rect x="327.66" y="830.93" width="0.7" height="1.37" fill="#3a3558" />
<rect x="329.79" y="831.58" width="0.7" height="0.72" fill="#3a3558" />
<rect x="330.83" y="831.32" width="0.7" height="0.98" fill="#3a3558" />
<rect x="332.01" y="831.68" width="0.7" height="0.62" fill="#3a3558" />
<rect x="333.39" y="831.06" width="0.7" height="1.24" fill="#3a3558" />
<rect x="334.88" y="831.53" width="0.7" height="0.77" fill="#3a3558" />
<rect x="336.86" y="830.53" width="0.7" height="1.77" fill="#3a3558" />
<rect x="338.29" y="831.89" width="0.7" height="0.41" fill="#3a3558" />
<rect x="339.13" y="830.69" width="0.7" height="1.61" fill="#3a3558" />
<rect x="339.99" y="830.94" width="0.7" height="1.36" fill="#3a3558" />
<rect x="341.59" y="831.54" width="0.7" height="0.76" fill="#3a3558" />
<rect x="343.5" y="831.97" width="0.7" height="0.33" fill="#3a3558" />
<rect x="344.49" y="831.32" width="0.7" height="0.98" fill="#3a3558" />
<rect x="345.32" y="830.76" width="0.7" height="1.54" fill="#3a3558" />
<rect x="346.46" y="831.79" width="0.7" height="0.51" fill="#3a3558" />
<rect x="347.32" y="831.06" width="0.7" height="1.24" fill="#3a3558" />
<rect x="348.75" y="831.06" width="0.7" height="1.24" fill="#3a3558" />
<rect x="350.46" y="830.79" width="0.7" height="1.51" fill="#3a3558" />
<rect x="352.61" y="830.97" width="0.7" height="1.33" fill="#3a3558" />
<rect x="353.69" y="831.29" width="0.7" height="1.01" fill="#3a3558" />
<rect x="354.74" y="831.98" width="0.7" height="0.32" fill="#3a3558" />
<rect x="356.2" y="830.93" width="0.7" height="1.37" fill="#3a3558" />
<rect x="357.25" y="831.59" width="0.7" height="0.71" fill="#3a3558" />
<rect x="358.53" y="830.95" width="0.7" height="1.35" fill="#3a3558" />
<rect x="360.06" y="831.08" width="0.7" height="1.22" fill="#3a3558" />
<rect x="361.92" y="831.41" width="0.7" height="0.89" fill="#3a3558" />
<rect x="363.83" y="830.64" width="0.7" height="1.66" fill="#3a3558" />
<rect x="364.75" y="830.6" width="0.7" height="1.7" fill="#3a3558" />
<rect x="366.56" y="831.81" width="0.7" height="0.49" fill="#3a3558" />
<rect x="368.0" y="831.06" width="0.7" height="1.24" fill="#3a3558" />
<rect x="370.07" y="831.43" width="0.7" height="0.87" fill="#3a3558" />
<rect x="371.67" y="830.68" width="0.7" height="1.62" fill="#3a3558" />
<rect x="373.58" y="830.58" width="0.7" height="1.72" fill="#3a3558" />
<rect x="375.03" y="831.02" width="0.7" height="1.28" fill="#3a3558" />
<rect x="376.12" y="830.92" width="0.7" height="1.38" fill="#3a3558" />
<rect x="378.06" y="831.04" width="0.7" height="1.26" fill="#3a3558" />
<rect x="379.87" y="831.68" width="0.7" height="0.62" fill="#3a3558" />
<rect x="381.93" y="830.53" width="0.7" height="1.77" fill="#3a3558" />
<rect x="384.1" y="831.19" width="0.7" height="1.11" fill="#3a3558" />
<rect x="386.0" y="831.52" width="0.7" height="0.78" fill="#3a3558" />
<rect x="388.08" y="830.72" width="0.7" height="1.58" fill="#3a3558" />
<rect x="389.37" y="831.88" width="0.7" height="0.42" fill="#3a3558" />
<rect x="390.78" y="831.17" width="0.7" height="1.13" fill="#3a3558" />
<rect x="392.66" y="831.27" width="0.7" height="1.03" fill="#3a3558" />
<rect x="393.5" y="830.79" width="0.7" height="1.51" fill="#3a3558" />
<rect x="394.39" y="830.8" width="0.7" height="1.5" fill="#3a3558" />
<rect x="395.43" y="831.5" width="0.7" height="0.8" fill="#3a3558" />
<rect x="397.33" y="831.79" width="0.7" height="0.51" fill="#3a3558" />
<rect x="398.34" y="831.23" width="0.7" height="1.07" fill="#3a3558" />
<rect x="400.15" y="830.74" width="0.7" height="1.56" fill="#3a3558" />
<rect x="401.92" y="830.58" width="0.7" height="1.72" fill="#3a3558" />
<rect x="403.41" y="830.58" width="0.7" height="1.72" fill="#3a3558" />
<rect x="404.33" y="831.67" width="0.7" height="0.63" fill="#3a3558" />
<rect x="405.87" y="831.56" width="0.7" height="0.74" fill="#3a3558" />
<rect x="407.69" y="831.04" width="0.7" height="1.26" fill="#3a3558" />
<rect x="409.22" y="830.73" width="0.7" height="1.57" fill="#3a3558" />
<rect x="410.8" y="831.53" width="0.7" height="0.77" fill="#3a3558" />
<rect x="412.14" y="830.73" width="0.7" height="1.57" fill="#3a3558" />
<rect x="414.2" y="831.69" width="0.7" height="0.61" fill="#3a3558" />
<rect x="416.19" y="830.55" width="0.7" height="1.75" fill="#3a3558" />
<rect x="417.72" y="831.14" width="0.7" height="1.16" fill="#3a3558" />
<rect x="418.8" y="831.2" width="0.7" height="1.1" fill="#3a3558" />
<rect x="420.31" y="831.09" width="0.7" height="1.21" fill="#3a3558" />
<rect x="421.15" y="830.55" width="0.7" height="1.75" fill="#3a3558" />
<rect x="422.67" y="831.4" width="0.7" height="0.9" fill="#3a3558" />
<rect x="424.59" y="831.16" width="0.7" height="1.14" fill="#3a3558" />
<rect x="426.08" y="830.96" width="0.7" height="1.34" fill="#3a3558" />
<rect x="426.97" y="831.19" width="0.7" height="1.11" fill="#3a3558" />
<rect x="428.35" y="830.56" width="0.7" height="1.74" fill="#3a3558" />
<rect x="430.44" y="831.6" width="0.7" height="0.7" fill="#3a3558" />
<rect x="431.9" y="831.81" width="0.7" height="0.49" fill="#3a3558" />
<rect x="433.31" y="830.78" width="0.7" height="1.52" fill="#3a3558" />
<rect x="435.37" y="831.29" width="0.7" height="1.01" fill="#3a3558" />
<rect x="436.62" y="831.71" width="0.7" height="0.59" fill="#3a3558" />
<rect x="438.28" y="830.61" width="0.7" height="1.69" fill="#3a3558" />
<rect x="439.26" y="830.83" width="0.7" height="1.47" fill="#3a3558" />
<rect x="440.1" y="831.71" width="0.7" height="0.59" fill="#3a3558" />
<rect x="441.21" y="830.97" width="0.7" height="1.33" fill="#3a3558" />
<rect x="442.46" y="831.47" width="0.7" height="0.83" fill="#3a3558" />
<rect x="444.13" y="831.84" width="0.7" height="0.46" fill="#3a3558" />
<rect x="445.96" y="831.82" width="0.7" height="0.48" fill="#3a3558" />
<rect x="447.47" y="831.62" width="0.7" height="0.68" fill="#3a3558" />
<rect x="448.55" y="831.2" width="0.7" height="1.1" fill="#3a3558" />
<rect x="449.96" y="831.44" width="0.7" height="0.86" fill="#3a3558" />
<rect x="451.34" y="831.21" width="0.7" height="1.09" fill="#3a3558" />
<rect x="452.36" y="831.69" width="0.7" height="0.61" fill="#3a3558" />
<rect x="454.04" y="831.04" width="0.7" height="1.26" fill="#3a3558" />
<rect x="455.59" y="830.72" width="0.7" height="1.58" fill="#3a3558" />
<rect x="457.24" y="830.71" width="0.7" height="1.59" fill="#3a3558" />
<rect x="458.37" y="830.89" width="0.7" height="1.41" fill="#3a3558" />
<rect x="460.3" y="830.65" width="0.7" height="1.65" fill="#3a3558" />
<rect x="461.54" y="831.53" width="0.7" height="0.77" fill="#3a3558" />
<rect x="463.64" y="831.67" width="0.7" height="0.63" fill="#3a3558" />
<rect x="465.83" y="830.67" width="0.7" height="1.63" fill="#3a3558" />
<rect x="466.82" y="831.64" width="0.7" height="0.66" fill="#3a3558" />
<rect x="468.64" y="831.61" width="0.7" height="0.69" fill="#3a3558" />
<rect x="469.57" y="830.75" width="0.7" height="1.55" fill="#3a3558" />
<rect x="470.97" y="830.82" width="0.7" height="1.48" fill="#3a3558" />
<rect x="471.94" y="831.4" width="0.7" height="0.9" fill="#3a3558" />
<rect x="473.7" y="831.97" width="0.7" height="0.33" fill="#3a3558" />
<rect x="474.78" y="830.98" width="0.7" height="1.32" fill="#3a3558" />
<rect x="476.86" y="830.55" width="0.7" height="1.75" fill="#3a3558" />
<rect x="477.82" y="831.24" width="0.7" height="1.06" fill="#3a3558" />
<rect x="479.68" y="831.25" width="0.7" height="1.05" fill="#3a3558" />
<rect x="481.44" y="831.72" width="0.7" height="0.58" fill="#3a3558" />
<rect x="482.34" y="831.84" width="0.7" height="0.46" fill="#3a3558" />
<rect x="483.19" y="831.17" width="0.7" height="1.13" fill="#3a3558" />
<rect x="484.71" y="831.15" width="0.7" height="1.15" fill="#3a3558" />
<rect x="485.72" y="831.72" width="0.7" height="0.58" fill="#3a3558" />
<rect x="486.8" y="830.74" width="0.7" height="1.56" fill="#3a3558" />
<rect x="488.99" y="830.61" width="0.7" height="1.69" fill="#3a3558" />
<rect x="489.92" y="831.91" width="0.7" height="0.39" fill="#3a3558" />
<rect x="492.06" y="831.31" width="0.7" height="0.99" fill="#3a3558" />
<rect x="493.93" y="831.51" width="0.7" height="0.79" fill="#3a3558" />
<rect x="495.38" y="831.23" width="0.7" height="1.07" fill="#3a3558" />
<rect x="496.78" y="831.1" width="0.7" height="1.2" fill="#3a3558" />
<rect x="497.6" y="830.95" width="0.7" height="1.35" fill="#3a3558" />
<rect x="499.58" y="831.73" width="0.7" height="0.57" fill="#3a3558" />
<rect x="501.02" y="830.89" width="0.7" height="1.41" fill="#3a3558" />
<rect x="502.39" y="831.71" width="0.7" height="0.59" fill="#3a3558" />
<rect x="503.42" y="831.23" width="0.7" height="1.07" fill="#3a3558" />
<rect x="504.24" y="830.66" width="0.7" height="1.64" fill="#3a3558" />
<rect x="506.16" y="830.94" width="0.7" height="1.36" fill="#3a3558" />
<rect x="508.17" y="831.06" width="0.7" height="1.24" fill="#3a3558" />
<rect x="509.53" y="831.1" width="0.7" height="1.2" fill="#3a3558" />
<rect x="511.04" y="830.53" width="0.7" height="1.77" fill="#3a3558" />
<rect x="512.96" y="831.61" width="0.7" height="0.69" fill="#3a3558" />
<rect x="515.04" y="830.88" width="0.7" height="1.42" fill="#3a3558" />
<rect x="516.93" y="830.78" width="0.7" height="1.52" fill="#3a3558" />
<rect x="518.3" y="830.66" width="0.7" height="1.64" fill="#3a3558" />
<rect x="520.33" y="830.96" width="0.7" height="1.34" fill="#3a3558" />
<rect x="522.2" y="830.85" width="0.7" height="1.45" fill="#3a3558" />
<rect x="523.57" y="830.92" width="0.7" height="1.38" fill="#3a3558" />
<rect x="524.47" y="831.49" width="0.7" height="0.81" fill="#3a3558" />
<rect x="525.93" y="831.98" width="0.7" height="0.32" fill="#3a3558" />
<rect x="527.22" y="831.04" width="0.7" height="1.26" fill="#3a3558" />
<rect x="528.9" y="831.65" width="0.7" height="0.65" fill="#3a3558" />
<rect x="531.02" y="831.0" width="0.7" height="1.3" fill="#3a3558" />
<rect x="532.29" y="831.01" width="0.7" height="1.29" fill="#3a3558" />
<rect x="533.89" y="831.2" width="0.7" height="1.1" fill="#3a3558" />
<rect x="535.24" y="830.5" width="0.7" height="1.8" fill="#3a3558" />
<rect x="536.94" y="830.95" width="0.7" height="1.35" fill="#3a3558" />
<rect x="538.8" y="830.53" width="0.7" height="1.77" fill="#3a3558" />
<rect x="539.63" y="831.08" width="0.7" height="1.22" fill="#3a3558" />
<rect x="541.47" y="831.62" width="0.7" height="0.68" fill="#3a3558" />
<rect x="542.83" y="831.92" width="0.7" height="0.38" fill="#3a3558" />
<rect x="543.9" y="831.44" width="0.7" height="0.86" fill="#3a3558" />
<rect x="544.84" y="831.62" width="0.7" height="0.68" fill="#3a3558" />
<rect x="546.91" y="831.17" width="0.7" height="1.13" fill="#3a3558" />
<rect x="548.42" y="830.55" width="0.7" height="1.75" fill="#3a3558" />
<rect x="550.02" y="830.51" width="0.7" height="1.79" fill="#3a3558" />
<rect x="551.71" y="830.79" width="0.7" height="1.51" fill="#3a3558" />
<rect x="552.62" y="831.1" width="0.7" height="1.2" fill="#3a3558" />
<rect x="554.48" y="831.93" width="0.7" height="0.37" fill="#3a3558" />
<rect x="556.58" y="831.76" width="0.7" height="0.54" fill="#3a3558" />
<rect x="558.04" y="831.75" width="0.7" height="0.55" fill="#3a3558" />
<rect x="559.54" y="831.08" width="0.7" height="1.22" fill="#3a3558" />
<rect x="110.2" y="832.02" width="0.9" height="0.28" fill="#3a3558" />
<rect x="111.05" y="831.6" width="0.9" height="0.7" fill="#3a3558" />
<rect x="139.1" y="832.01" width="0.9" height="0.29" fill="#3a3558" />
<rect x="139.95" y="831.6" width="0.9" height="0.7" fill="#3a3558" />
<rect x="147.8" y="832.1" width="0.95" height="0.2" fill="#3a3558" />
<rect x="148.7" y="831.8" width="0.95" height="0.5" fill="#3a3558" />
<rect x="154.8" y="831.96" width="0.93" height="0.34" fill="#3a3558" />
<rect x="155.68" y="831.77" width="0.93" height="0.53" fill="#3a3558" />
<rect x="156.55" y="831.5" width="0.93" height="0.8" fill="#3a3558" />
<rect x="157.43" y="831.8" width="0.93" height="0.5" fill="#3a3558" />
<rect x="160.1" y="832.05" width="0.93" height="0.25" fill="#3a3558" />
<rect x="160.97" y="831.82" width="0.93" height="0.48" fill="#3a3558" />
<rect x="161.85" y="831.6" width="0.93" height="0.7" fill="#3a3558" />
<rect x="162.72" y="831.83" width="0.93" height="0.47" fill="#3a3558" />
<rect x="164.5" y="831.67" width="0.92" height="0.63" fill="#3a3558" />
<rect x="165.37" y="831.1" width="0.92" height="1.2" fill="#3a3558" />
<rect x="166.23" y="831.58" width="0.92" height="0.72" fill="#3a3558" />
<rect x="167.1" y="832.04" width="0.93" height="0.26" fill="#3a3558" />
<rect x="167.97" y="831.86" width="0.93" height="0.44" fill="#3a3558" />
<rect x="168.85" y="831.6" width="0.93" height="0.7" fill="#3a3558" />
<rect x="169.72" y="831.85" width="0.93" height="0.45" fill="#3a3558" />
<rect x="174.1" y="831.93" width="0.93" height="0.37" fill="#3a3558" />
<rect x="174.97" y="831.59" width="0.93" height="0.71" fill="#3a3558" />
<rect x="175.85" y="831.3" width="0.93" height="1.0" fill="#3a3558" />
<rect x="176.72" y="831.66" width="0.93" height="0.64" fill="#3a3558" />
<rect x="177.6" y="831.94" width="0.81" height="0.36" fill="#3a3558" />
<rect x="178.36" y="831.78" width="0.81" height="0.52" fill="#3a3558" />
<rect x="179.11" y="831.75" width="0.81" height="0.55" fill="#3a3558" />
<rect x="179.87" y="831.5" width="0.81" height="0.8" fill="#3a3558" />
<rect x="180.63" y="831.75" width="0.81" height="0.55" fill="#3a3558" />
<rect x="181.39" y="831.77" width="0.81" height="0.53" fill="#3a3558" />
<rect x="182.14" y="831.88" width="0.81" height="0.42" fill="#3a3558" />
<rect x="184.6" y="831.94" width="0.83" height="0.36" fill="#3a3558" />
<rect x="185.38" y="831.87" width="0.83" height="0.43" fill="#3a3558" />
<rect x="186.16" y="831.81" width="0.83" height="0.49" fill="#3a3558" />
<rect x="186.93" y="831.79" width="0.83" height="0.51" fill="#3a3558" />
<rect x="187.71" y="831.6" width="0.83" height="0.7" fill="#3a3558" />
<rect x="188.49" y="831.73" width="0.83" height="0.57" fill="#3a3558" />
<rect x="189.27" y="831.83" width="0.83" height="0.47" fill="#3a3558" />
<rect x="190.04" y="831.93" width="0.83" height="0.37" fill="#3a3558" />
<rect x="190.82" y="832.01" width="0.83" height="0.29" fill="#3a3558" />
<rect x="191.6" y="831.93" width="0.93" height="0.37" fill="#3a3558" />
<rect x="192.48" y="831.76" width="0.93" height="0.54" fill="#3a3558" />
<rect x="193.36" y="831.5" width="0.93" height="0.8" fill="#3a3558" />
<rect x="194.24" y="831.78" width="0.93" height="0.52" fill="#3a3558" />
<rect x="195.12" y="831.9" width="0.93" height="0.4" fill="#3a3558" />
<rect x="194.0" y="831.88" width="0.95" height="0.42" fill="#3a3558" />
<rect x="194.9" y="831.3" width="0.95" height="1.0" fill="#3a3558" />
<rect x="197.5" y="831.75" width="0.93" height="0.55" fill="#3a3558" />
<rect x="198.38" y="831.34" width="0.93" height="0.96" fill="#3a3558" />
<rect x="199.25" y="830.9" width="0.93" height="1.4" fill="#3a3558" />
<rect x="200.12" y="831.32" width="0.93" height="0.98" fill="#3a3558" />
<rect x="204.5" y="831.45" width="0.93" height="0.85" fill="#3a3558" />
<rect x="205.38" y="831.0" width="0.93" height="1.3" fill="#3a3558" />
<rect x="206.25" y="830.4" width="0.93" height="1.9" fill="#3a3558" />
<rect x="207.12" y="831.13" width="0.93" height="1.17" fill="#3a3558" />
<rect x="211.5" y="829.9" width="0.92" height="2.4" fill="#3a3558" />
<rect x="212.37" y="828.1" width="0.92" height="4.2" fill="#3a3558" />
<rect x="213.23" y="830.01" width="0.92" height="2.29" fill="#3a3558" />
<rect x="217.7" y="824.3" width="0.85" height="8.0" fill="#3a3558" />
<rect x="218.5" y="818.1" width="1.45" height="14.2" fill="#3a3558" />
<rect x="219.9" y="828.98" width="1.1" height="3.32" fill="#3a3558" />
<rect x="220.95" y="824.3" width="1.1" height="8.0" fill="#3a3558" />
<rect x="222.0" y="826.0" width="1.45" height="6.3" fill="#3a3558" />
<rect x="223.4" y="821.6" width="1.35" height="10.7" fill="#3a3558" />
<rect x="224.8" y="814.69" width="0.95" height="17.61" fill="#3a3558" />
<rect x="225.7" y="814.65" width="0.95" height="17.65" fill="#3a3558" />
<rect x="226.8" y="814.19" width="0.9" height="18.11" fill="#3a3558" />
<rect x="227.65" y="814.8" width="0.9" height="17.5" fill="#3a3558" />
<rect x="228.7" y="814.82" width="0.9" height="17.48" fill="#3a3558" />
<rect x="229.55" y="814.64" width="0.9" height="17.66" fill="#3a3558" />
<rect x="230.6" y="814.37" width="0.95" height="17.93" fill="#3a3558" />
<rect x="231.5" y="814.75" width="0.95" height="17.55" fill="#3a3558" />
<rect x="232.5" y="814.78" width="0.95" height="17.52" fill="#3a3558" />
<rect x="233.4" y="814.77" width="0.95" height="17.53" fill="#3a3558" />
<rect x="234.5" y="815.11" width="0.8" height="17.19" fill="#3a3558" />
<rect x="235.25" y="815.06" width="0.8" height="17.24" fill="#3a3558" />
<rect x="236.9" y="814.48" width="0.82" height="17.82" fill="#3a3558" />
<rect x="237.67" y="814.57" width="0.82" height="17.73" fill="#3a3558" />
<rect x="238.43" y="814.58" width="0.82" height="17.72" fill="#3a3558" />
<rect x="239.2" y="828.5" width="1.1" height="3.8" fill="#3a3558" />
<rect x="240.25" y="823.4" width="1.1" height="8.9" fill="#3a3558" />
<rect x="241.3" y="830.6" width="0.92" height="1.7" fill="#3a3558" />
<rect x="242.17" y="829.5" width="0.92" height="2.8" fill="#3a3558" />
<rect x="243.03" y="830.72" width="0.92" height="1.58" fill="#3a3558" />
<rect x="243.9" y="814.22" width="0.82" height="18.08" fill="#3a3558" />
<rect x="244.67" y="814.27" width="0.82" height="18.03" fill="#3a3558" />
<rect x="245.43" y="814.5" width="0.82" height="17.8" fill="#3a3558" />
<rect x="246.2" y="828.43" width="1.1" height="3.87" fill="#3a3558" />
<rect x="247.25" y="822.5" width="1.1" height="9.8" fill="#3a3558" />
<rect x="254.4" y="825.1" width="0.95" height="7.2" fill="#3a3558" />
<rect x="255.3" y="829.47" width="0.95" height="2.83" fill="#3a3558" />
<rect x="257.1" y="816.85" width="1.45" height="15.45" fill="#3a3558" />
<rect x="258.8" y="827.8" width="0.95" height="4.5" fill="#3a3558" />
<rect x="259.7" y="830.51" width="0.95" height="1.79" fill="#3a3558" />
<rect x="262.7" y="826.69" width="0.9" height="5.61" fill="#3a3558" />
<rect x="263.55" y="818.7" width="0.9" height="13.6" fill="#3a3558" />
<rect x="265.0" y="829.54" width="0.9" height="2.76" fill="#3a3558" />
<rect x="265.85" y="826.0" width="0.9" height="6.3" fill="#3a3558" />
<rect x="269.3" y="828.7" width="0.95" height="3.6" fill="#3a3558" />
<rect x="270.2" y="830.83" width="0.95" height="1.47" fill="#3a3558" />
<rect x="276.7" y="814.91" width="0.82" height="17.39" fill="#3a3558" />
<rect x="277.47" y="814.96" width="0.82" height="17.34" fill="#3a3558" />
<rect x="278.23" y="814.82" width="0.82" height="17.48" fill="#3a3558" />
<rect x="286.9" y="829.55" width="0.92" height="2.75" fill="#3a3558" />
<rect x="287.77" y="827.8" width="0.92" height="4.5" fill="#3a3558" />
<rect x="288.63" y="830.01" width="0.92" height="2.29" fill="#3a3558" />
<rect x="299.1" y="831.12" width="0.95" height="1.18" fill="#3a3558" />
<rect x="300.0" y="829.2" width="0.95" height="3.1" fill="#3a3558" />
<rect x="306.1" y="831.71" width="0.93" height="0.59" fill="#3a3558" />
<rect x="306.98" y="831.39" width="0.93" height="0.91" fill="#3a3558" />
<rect x="307.85" y="830.9" width="0.93" height="1.4" fill="#3a3558" />
<rect x="308.73" y="831.33" width="0.93" height="0.97" fill="#3a3558" />
<rect x="319.0" y="830.03" width="0.95" height="2.27" fill="#3a3558" />
<rect x="319.9" y="826.4" width="0.95" height="5.9" fill="#3a3558" />
<rect x="326.9" y="827.8" width="0.9" height="4.5" fill="#3a3558" />
<rect x="327.75" y="830.59" width="0.9" height="1.71" fill="#3a3558" />
<rect x="333.0" y="831.55" width="0.95" height="0.75" fill="#3a3558" />
<rect x="333.9" y="830.4" width="0.95" height="1.9" fill="#3a3558" />
<rect x="336.5" y="830.77" width="0.95" height="1.53" fill="#3a3558" />
<rect x="337.4" y="829.5" width="0.95" height="2.8" fill="#3a3558" />
<rect x="338.3" y="830.72" width="0.95" height="1.58" fill="#3a3558" />
<rect x="342.7" y="830.34" width="0.9" height="1.96" fill="#3a3558" />
<rect x="343.55" y="827.4" width="0.9" height="4.9" fill="#3a3558" />
<rect x="347.0" y="831.9" width="0.95" height="0.4" fill="#3a3558" />
<rect x="347.9" y="831.3" width="0.95" height="1.0" fill="#3a3558" />
<rect x="353.2" y="830.4" width="0.9" height="1.9" fill="#3a3558" />
<rect x="354.05" y="831.55" width="0.9" height="0.75" fill="#3a3558" />
<rect x="358.4" y="828.7" width="0.95" height="3.6" fill="#3a3558" />
<rect x="359.3" y="830.98" width="0.95" height="1.32" fill="#3a3558" />
<rect x="364.6" y="830.16" width="0.93" height="2.14" fill="#3a3558" />
<rect x="365.48" y="828.3" width="0.93" height="4.0" fill="#3a3558" />
<rect x="366.35" y="826.4" width="0.93" height="5.9" fill="#3a3558" />
<rect x="367.23" y="828.38" width="0.93" height="3.92" fill="#3a3558" />
<rect x="371.6" y="830.9" width="0.9" height="1.4" fill="#3a3558" />
<rect x="372.45" y="831.7" width="0.9" height="0.6" fill="#3a3558" />
<rect x="383.8" y="830.36" width="0.95" height="1.94" fill="#3a3558" />
<rect x="384.7" y="827.8" width="0.95" height="4.5" fill="#3a3558" />
<rect x="385.6" y="829.43" width="0.93" height="2.87" fill="#3a3558" />
<rect x="386.48" y="827.93" width="0.93" height="4.37" fill="#3a3558" />
<rect x="387.35" y="825.7" width="0.93" height="6.6" fill="#3a3558" />
<rect x="388.23" y="828.3" width="0.93" height="4.0" fill="#3a3558" />
<rect x="389.1" y="829.52" width="0.92" height="2.78" fill="#3a3558" />
<rect x="389.97" y="827.8" width="0.92" height="4.5" fill="#3a3558" />
<rect x="390.83" y="829.86" width="0.92" height="2.44" fill="#3a3558" />
<rect x="391.7" y="820.4" width="0.95" height="11.9" fill="#3a3558" />
<rect x="392.6" y="827.78" width="0.95" height="4.52" fill="#3a3558" />
<rect x="394.3" y="827.23" width="0.93" height="5.07" fill="#3a3558" />
<rect x="395.18" y="824.09" width="0.93" height="8.21" fill="#3a3558" />
<rect x="396.05" y="819.9" width="0.93" height="12.4" fill="#3a3558" />
<rect x="396.93" y="823.37" width="0.93" height="8.93" fill="#3a3558" />
<rect x="397.8" y="828.25" width="0.95" height="4.05" fill="#3a3558" />
<rect x="398.7" y="825.7" width="0.95" height="6.6" fill="#3a3558" />
<rect x="399.6" y="828.6" width="0.95" height="3.7" fill="#3a3558" />
<rect x="403.1" y="827.47" width="0.93" height="4.83" fill="#3a3558" />
<rect x="403.98" y="825.67" width="0.93" height="6.63" fill="#3a3558" />
<rect x="404.85" y="821.1" width="0.93" height="11.2" fill="#3a3558" />
<rect x="405.73" y="825.67" width="0.93" height="6.63" fill="#3a3558" />
<rect x="407.5" y="824.92" width="0.92" height="7.38" fill="#3a3558" />
<rect x="408.37" y="818.1" width="0.92" height="14.2" fill="#3a3558" />
<rect x="409.23" y="824.54" width="0.92" height="7.76" fill="#3a3558" />
<rect x="410.1" y="823.4" width="0.95" height="8.9" fill="#3a3558" />
<rect x="411.0" y="828.59" width="0.95" height="3.71" fill="#3a3558" />
<rect x="413.6" y="828.56" width="0.92" height="3.74" fill="#3a3558" />
<rect x="414.47" y="825.1" width="0.92" height="7.2" fill="#3a3558" />
<rect x="415.33" y="827.91" width="0.92" height="4.39" fill="#3a3558" />
<rect x="417.1" y="831.23" width="0.95" height="1.07" fill="#3a3558" />
<rect x="418.0" y="829.5" width="0.95" height="2.8" fill="#3a3558" />
<rect x="424.1" y="827.52" width="0.95" height="4.78" fill="#3a3558" />
<rect x="425.0" y="823.9" width="0.95" height="8.4" fill="#3a3558" />
<rect x="425.9" y="827.08" width="0.95" height="5.22" fill="#3a3558" />
<rect x="427.6" y="829.9" width="0.93" height="2.4" fill="#3a3558" />
<rect x="428.48" y="829.22" width="0.93" height="3.08" fill="#3a3558" />
<rect x="429.36" y="827.8" width="0.93" height="4.5" fill="#3a3558" />
<rect x="430.24" y="829.25" width="0.93" height="3.05" fill="#3a3558" />
<rect x="431.12" y="829.8" width="0.93" height="2.5" fill="#3a3558" />
<rect x="430.0" y="830.33" width="0.81" height="1.97" fill="#3a3558" />
<rect x="430.76" y="829.53" width="0.81" height="2.77" fill="#3a3558" />
<rect x="431.51" y="828.66" width="0.81" height="3.64" fill="#3a3558" />
<rect x="432.27" y="827.8" width="0.81" height="4.5" fill="#3a3558" />
<rect x="433.03" y="829.21" width="0.81" height="3.09" fill="#3a3558" />
<rect x="433.79" y="829.45" width="0.81" height="2.85" fill="#3a3558" />
<rect x="434.54" y="830.38" width="0.81" height="1.92" fill="#3a3558" />
<rect x="437.9" y="827.89" width="0.9" height="4.41" fill="#3a3558" />
<rect x="438.75" y="822.2" width="0.9" height="10.1" fill="#3a3558" />
<rect x="439.6" y="829.95" width="0.93" height="2.35" fill="#3a3558" />
<rect x="440.48" y="828.47" width="0.93" height="3.83" fill="#3a3558" />
<rect x="441.35" y="826.9" width="0.93" height="5.4" fill="#3a3558" />
<rect x="442.23" y="828.42" width="0.93" height="3.88" fill="#3a3558" />
<rect x="447.5" y="832.01" width="0.83" height="0.29" fill="#3a3558" />
<rect x="448.28" y="831.96" width="0.83" height="0.34" fill="#3a3558" />
<rect x="449.06" y="831.92" width="0.83" height="0.38" fill="#3a3558" />
<rect x="449.83" y="831.91" width="0.83" height="0.39" fill="#3a3558" />
<rect x="450.61" y="831.87" width="0.83" height="0.43" fill="#3a3558" />
<rect x="451.39" y="831.86" width="0.83" height="0.44" fill="#3a3558" />
<rect x="452.17" y="831.76" width="0.83" height="0.54" fill="#3a3558" />
<rect x="452.94" y="831.69" width="0.83" height="0.61" fill="#3a3558" />
<rect x="453.72" y="831.72" width="0.83" height="0.58" fill="#3a3558" />
<rect x="454.5" y="831.6" width="0.83" height="0.7" fill="#3a3558" />
<rect x="455.28" y="831.75" width="0.83" height="0.55" fill="#3a3558" />
<rect x="456.06" y="831.78" width="0.83" height="0.52" fill="#3a3558" />
<rect x="456.83" y="831.79" width="0.83" height="0.51" fill="#3a3558" />
<rect x="457.61" y="831.85" width="0.83" height="0.45" fill="#3a3558" />
<rect x="458.39" y="831.82" width="0.83" height="0.48" fill="#3a3558" />
<rect x="459.17" y="831.94" width="0.83" height="0.36" fill="#3a3558" />
<rect x="459.94" y="831.95" width="0.83" height="0.35" fill="#3a3558" />
<rect x="460.72" y="832.01" width="0.83" height="0.29" fill="#3a3558" />
<rect x="466.8" y="821.6" width="0.9" height="10.7" fill="#3a3558" />
<rect x="467.65" y="827.7" width="0.9" height="4.6" fill="#3a3558" />
<rect x="468.5" y="826.42" width="0.93" height="5.88" fill="#3a3558" />
<rect x="469.38" y="823.13" width="0.93" height="9.17" fill="#3a3558" />
<rect x="470.25" y="819.0" width="0.93" height="13.3" fill="#3a3558" />
<rect x="471.12" y="824.55" width="0.93" height="7.75" fill="#3a3558" />
<rect x="472.0" y="830.31" width="0.95" height="1.99" fill="#3a3558" />
<rect x="472.9" y="829.67" width="0.95" height="2.63" fill="#3a3558" />
<rect x="473.8" y="827.8" width="0.95" height="4.5" fill="#3a3558" />
<rect x="474.7" y="829.62" width="0.95" height="2.68" fill="#3a3558" />
<rect x="477.3" y="831.99" width="0.85" height="0.31" fill="#3a3558" />
<rect x="478.1" y="831.91" width="0.85" height="0.39" fill="#3a3558" />
<rect x="478.9" y="831.85" width="0.85" height="0.45" fill="#3a3558" />
<rect x="479.7" y="831.8" width="0.85" height="0.5" fill="#3a3558" />
<rect x="480.5" y="831.73" width="0.85" height="0.57" fill="#3a3558" />
<rect x="481.3" y="831.6" width="0.85" height="0.7" fill="#3a3558" />
<rect x="482.1" y="831.74" width="0.85" height="0.56" fill="#3a3558" />
<rect x="482.9" y="831.75" width="0.85" height="0.55" fill="#3a3558" />
<rect x="483.7" y="831.87" width="0.85" height="0.43" fill="#3a3558" />
<rect x="484.5" y="831.89" width="0.85" height="0.41" fill="#3a3558" />
<rect x="485.3" y="831.95" width="0.85" height="0.35" fill="#3a3558" />
<rect x="487.8" y="831.03" width="0.85" height="1.27" fill="#3a3558" />
<rect x="488.6" y="830.68" width="0.85" height="1.62" fill="#3a3558" />
<rect x="489.4" y="830.54" width="0.85" height="1.76" fill="#3a3558" />
<rect x="490.2" y="830.39" width="0.85" height="1.91" fill="#3a3558" />
<rect x="491.0" y="829.84" width="0.85" height="2.46" fill="#3a3558" />
<rect x="491.8" y="829.5" width="0.85" height="2.8" fill="#3a3558" />
<rect x="492.6" y="829.82" width="0.85" height="2.48" fill="#3a3558" />
<rect x="493.4" y="830.35" width="0.85" height="1.95" fill="#3a3558" />
<rect x="494.2" y="830.52" width="0.85" height="1.78" fill="#3a3558" />
<rect x="495.0" y="830.63" width="0.85" height="1.67" fill="#3a3558" />
<rect x="495.8" y="831.04" width="0.85" height="1.26" fill="#3a3558" />
<rect x="501.8" y="830.74" width="0.95" height="1.56" fill="#3a3558" />
<rect x="502.7" y="829.5" width="0.95" height="2.8" fill="#3a3558" />
<rect x="503.6" y="830.8" width="0.95" height="1.5" fill="#3a3558" />
<rect x="514.1" y="828.47" width="0.92" height="3.83" fill="#3a3558" />
<rect x="514.97" y="826.0" width="0.92" height="6.3" fill="#3a3558" />
<rect x="515.83" y="828.8" width="0.92" height="3.5" fill="#3a3558" />
<rect x="516.7" y="827.04" width="0.93" height="5.26" fill="#3a3558" />
<rect x="517.58" y="825.0" width="0.93" height="7.3" fill="#3a3558" />
<rect x="518.46" y="822.5" width="0.93" height="9.8" fill="#3a3558" />
<rect x="519.34" y="824.98" width="0.93" height="7.32" fill="#3a3558" />
<rect x="520.22" y="827.85" width="0.93" height="4.45" fill="#3a3558" />
<rect x="522.9" y="826.04" width="0.92" height="6.26" fill="#3a3558" />
<rect x="523.77" y="822.2" width="0.92" height="10.1" fill="#3a3558" />
<rect x="524.63" y="826.06" width="0.92" height="6.24" fill="#3a3558" />
<rect x="525.5" y="829.42" width="0.93" height="2.88" fill="#3a3558" />
<rect x="526.38" y="827.87" width="0.93" height="4.43" fill="#3a3558" />
<rect x="527.25" y="825.1" width="0.93" height="7.2" fill="#3a3558" />
<rect x="528.12" y="827.68" width="0.93" height="4.62" fill="#3a3558" />
<rect x="529.9" y="826.9" width="0.9" height="5.4" fill="#3a3558" />
<rect x="530.75" y="830.15" width="0.9" height="2.15" fill="#3a3558" />
<rect x="531.6" y="829.61" width="0.93" height="2.69" fill="#3a3558" />
<rect x="532.48" y="827.18" width="0.93" height="5.12" fill="#3a3558" />
<rect x="533.35" y="825.1" width="0.93" height="7.2" fill="#3a3558" />
<rect x="534.23" y="827.28" width="0.93" height="5.02" fill="#3a3558" />
<rect x="536.5" y="819.4" width="0.88" height="12.9" fill="#3a3558" />
<rect x="537.33" y="824.72" width="0.88" height="7.58" fill="#3a3558" />
<rect x="538.17" y="828.86" width="0.88" height="3.44" fill="#3a3558" />
<rect x="542.1" y="814.45" width="0.95" height="17.85" fill="#3a3558" />
<rect x="543.0" y="814.79" width="0.95" height="17.51" fill="#3a3558" />
<rect x="545.6" y="831.77" width="0.93" height="0.53" fill="#3a3558" />
<rect x="546.48" y="831.68" width="0.93" height="0.62" fill="#3a3558" />
<rect x="547.36" y="831.3" width="0.93" height="1.0" fill="#3a3558" />
<rect x="548.24" y="831.55" width="0.93" height="0.75" fill="#3a3558" />
<rect x="549.12" y="831.76" width="0.93" height="0.54" fill="#3a3558" />
<rect x="548.0" y="831.97" width="0.8" height="0.33" fill="#3a3558" />
<rect x="548.75" y="831.74" width="0.8" height="0.56" fill="#3a3558" />
<rect x="549.5" y="831.4" width="0.8" height="0.9" fill="#3a3558" />
<rect x="550.25" y="831.68" width="0.8" height="0.62" fill="#3a3558" />
<rect x="551.0" y="824.0" width="1.05" height="8.3" fill="#3a3558" />
<rect x="552.0" y="828.65" width="1.05" height="3.65" fill="#3a3558" />
<rect x="553.0" y="828.52" width="0.8" height="3.78" fill="#3a3558" />
<rect x="553.75" y="825.21" width="0.8" height="7.09" fill="#3a3558" />
<rect x="554.5" y="822.0" width="0.8" height="10.3" fill="#3a3558" />
<rect x="555.25" y="825.51" width="0.8" height="6.79" fill="#3a3558" />
<rect x="557.0" y="829.09" width="0.88" height="3.21" fill="#3a3558" />
<rect x="557.83" y="827.26" width="0.88" height="5.04" fill="#3a3558" />
<rect x="558.67" y="826.31" width="0.88" height="5.99" fill="#3a3558" />
<rect x="559.5" y="824.0" width="0.88" height="8.3" fill="#3a3558" />
<rect x="560.33" y="825.63" width="0.88" height="6.67" fill="#3a3558" />
<rect x="561.17" y="828.0" width="0.88" height="4.3" fill="#3a3558" />
<rect x="562.0" y="831.69" width="0.85" height="0.61" fill="#3a3558" />
<rect x="562.8" y="831.38" width="0.85" height="0.92" fill="#3a3558" />
<rect x="563.6" y="831.0" width="0.85" height="1.3" fill="#3a3558" />
<rect x="564.4" y="831.38" width="0.85" height="0.92" fill="#3a3558" />
<rect x="565.2" y="831.69" width="0.85" height="0.61" fill="#3a3558" />
<rect x="566.0" y="831.02" width="0.85" height="1.28" fill="#3a3558" />
<rect x="566.8" y="830.67" width="0.85" height="1.63" fill="#3a3558" />
<rect x="567.6" y="830.29" width="0.85" height="2.01" fill="#3a3558" />
<rect x="568.4" y="829.73" width="0.85" height="2.57" fill="#3a3558" />
<rect x="569.2" y="829.56" width="0.85" height="2.74" fill="#3a3558" />
<rect x="570.0" y="829.0" width="0.85" height="3.3" fill="#3a3558" />
<rect x="570.8" y="829.91" width="0.85" height="2.39" fill="#3a3558" />
<rect x="571.6" y="830.2" width="0.85" height="2.1" fill="#3a3558" />
<rect x="572.4" y="830.47" width="0.85" height="1.83" fill="#3a3558" />
<rect x="573.2" y="830.57" width="0.85" height="1.73" fill="#3a3558" />
<rect x="576.0" y="831.26" width="0.81" height="1.04" fill="#3a3558" />
<rect x="576.76" y="831.14" width="0.81" height="1.16" fill="#3a3558" />
<rect x="577.52" y="831.2" width="0.81" height="1.1" fill="#3a3558" />
<rect x="578.29" y="831.0" width="0.81" height="1.3" fill="#3a3558" />
<rect x="579.05" y="830.77" width="0.81" height="1.53" fill="#3a3558" />
<rect x="579.81" y="830.7" width="0.81" height="1.6" fill="#3a3558" />
<rect x="580.57" y="830.67" width="0.81" height="1.63" fill="#3a3558" />
<rect x="581.33" y="830.64" width="0.81" height="1.66" fill="#3a3558" />
<rect x="582.1" y="830.61" width="0.81" height="1.69" fill="#3a3558" />
<rect x="582.86" y="830.22" width="0.81" height="2.08" fill="#3a3558" />
<rect x="583.62" y="830.0" width="0.81" height="2.3" fill="#3a3558" />
<rect x="584.38" y="830.18" width="0.81" height="2.12" fill="#3a3558" />
<rect x="585.14" y="830.3" width="0.81" height="2.0" fill="#3a3558" />
<rect x="585.9" y="830.47" width="0.81" height="1.83" fill="#3a3558" />
<rect x="586.67" y="830.52" width="0.81" height="1.78" fill="#3a3558" />
<rect x="587.43" y="830.89" width="0.81" height="1.41" fill="#3a3558" />
<rect x="588.19" y="830.84" width="0.81" height="1.46" fill="#3a3558" />
<rect x="588.95" y="830.86" width="0.81" height="1.44" fill="#3a3558" />
<rect x="589.71" y="831.03" width="0.81" height="1.27" fill="#3a3558" />
<rect x="590.48" y="831.1" width="0.81" height="1.2" fill="#3a3558" />
<rect x="591.24" y="831.26" width="0.81" height="1.04" fill="#3a3558" />
<rect x="594.0" y="829.12" width="0.8" height="3.18" fill="#3a3558" />
<rect x="594.75" y="827.25" width="0.8" height="5.05" fill="#3a3558" />
<rect x="595.5" y="824.0" width="0.8" height="8.3" fill="#3a3558" />
<rect x="596.25" y="826.61" width="0.8" height="5.69" fill="#3a3558" />
<rect x="599.0" y="829.47" width="0.8" height="2.83" fill="#3a3558" />
<rect x="599.75" y="827.78" width="0.8" height="4.52" fill="#3a3558" />
<rect x="600.5" y="825.0" width="0.8" height="7.3" fill="#3a3558" />
<rect x="601.25" y="827.57" width="0.8" height="4.73" fill="#3a3558" />
<rect x="605.0" y="830.58" width="0.8" height="1.72" fill="#3a3558" />
<rect x="605.75" y="829.57" width="0.8" height="2.73" fill="#3a3558" />
<rect x="606.5" y="828.0" width="0.8" height="4.3" fill="#3a3558" />
<rect x="607.25" y="829.74" width="0.8" height="2.56" fill="#3a3558" />
<rect x="608.0" y="831.82" width="0.84" height="0.48" fill="#3a3558" />
<rect x="608.79" y="831.66" width="0.84" height="0.64" fill="#3a3558" />
<rect x="609.57" y="831.56" width="0.84" height="0.74" fill="#3a3558" />
<rect x="610.36" y="831.55" width="0.84" height="0.75" fill="#3a3558" />
<rect x="611.14" y="831.43" width="0.84" height="0.87" fill="#3a3558" />
<rect x="611.93" y="831.24" width="0.84" height="1.06" fill="#3a3558" />
<rect x="612.71" y="831.2" width="0.84" height="1.1" fill="#3a3558" />
<rect x="613.5" y="831.0" width="0.84" height="1.3" fill="#3a3558" />
<rect x="614.29" y="831.32" width="0.84" height="0.98" fill="#3a3558" />
<rect x="615.07" y="831.37" width="0.84" height="0.93" fill="#3a3558" />
<rect x="615.86" y="831.47" width="0.84" height="0.83" fill="#3a3558" />
<rect x="616.64" y="831.56" width="0.84" height="0.74" fill="#3a3558" />
<rect x="617.43" y="831.6" width="0.84" height="0.7" fill="#3a3558" />
<rect x="618.21" y="831.74" width="0.84" height="0.56" fill="#3a3558" />
<rect x="619.0" y="829.95" width="0.8" height="2.35" fill="#3a3558" />
<rect x="619.75" y="829.12" width="0.8" height="3.18" fill="#3a3558" />
<rect x="620.5" y="827.0" width="0.8" height="5.3" fill="#3a3558" />
<rect x="621.25" y="829.07" width="0.8" height="3.23" fill="#3a3558" />
<rect x="655.0" y="831.6" width="1.05" height="0.7" fill="#3a3558" />
<rect x="656.0" y="832.0" width="1.05" height="0.3" fill="#3a3558" />
<rect x="671.0" y="832.02" width="1.05" height="0.28" fill="#3a3558" />
<rect x="672.0" y="831.6" width="1.05" height="0.7" fill="#3a3558" />
<line x1="77.5" y1="832.3" x2="685" y2="832.3" stroke="#2a2a2a" stroke-width="1.4" />
<text x="81" y="815.8" font-size="6.0" fill="#444" textLength="22" lengthAdjust="spacingAndGlyphs" >[0 - 100]</text>
<text x="81.6" y="828.9" font-size="6.6" fill="#222" >R1</text>
<text x="36.2" y="818.2" font-size="8.4" text-anchor="middle" fill="#222" >Sense</text>
<text x="37.9" y="828.9" font-size="8.4" text-anchor="middle" fill="#222" textLength="73.5" lengthAdjust="spacingAndGlyphs" >Transcription (CPM)</text>
<polygon points="78,861.1 78,861.1 78,860.89 78,860.94 78.76,860.94 79.68,861.1 80.61,861.07 81.53,860.85 82.45,860.89 83.37,860.73 84.29,860.5 85.21,860.53 86.13,861.1 87.05,860.65 87.97,861.1 88.89,860.58 89.82,860.57 90.74,860.77 91.66,860.46 92.58,860.61 93.5,861.1 94.42,861.03 95.34,860.95 96.26,860.77 97.18,861.01 98.11,861.02 99.03,860.65 99.95,860.79 100.87,860.17 101.79,860.77 102.71,860.5 103.63,860.75 104.55,860.64 105.47,860.3 106.39,860.07 107.32,860.85 108.24,860.11 109.16,860.41 110.08,860.28 111.0,860.22 111.93,860.63 112.85,860.86 113.78,860.23 114.71,860.6 115.63,860.3 116.56,860.55 117.48,860.42 118.41,860.23 119.34,860.24 120.26,860.29 121.19,860.94 122.12,860.59 123.04,860.35 123.97,860.99 124.89,861.08 125.82,860.61 126.75,860.34 127.67,860.41 128.6,860.33 129.52,860.54 130.44,860.3 131.36,860.42 132.28,860.42 133.21,860.68 134.13,860.95 135.05,860.81 135.97,860.5 136.89,860.48 137.81,860.56 138.73,860.42 139.65,860.36 140.57,860.1 141.49,860.28 142.42,860.88 143.34,860.11 144.26,860.43 145.18,860.53 146.1,860.73 147.14,860.0 148.18,859.91 149.22,859.75 150.26,859.75 151.3,859.65 152.47,858.51 153.63,856.81 154.8,855.24 155.97,853.6 157.13,852.75 158.3,852.49 159.47,852.66 160.63,852.28 161.8,852.38 163.15,852.75 164.5,854.0 165.8,853.58 167.1,852.59 168.4,851.77 169.7,851.03 170.6,849.02 171.5,847.55 173.2,850.59 174.1,851.29 175.0,851.8 175.9,852.4 177.2,851.5 178.5,850.73 179.8,849.49 181.1,847.86 182.27,847.65 183.43,846.89 184.6,847.25 185.66,846.76 186.72,847.38 187.78,847.13 188.84,846.82 189.9,846.67 191.07,846.78 192.23,847.12 193.4,847.18 194.0,845.25 195.17,845.21 196.33,845.62 197.5,845.67 198.8,846.65 200.1,847.65 201.0,851.49 201.9,854.46 203.2,855.62 204.5,856.66 205.67,857.68 206.83,857.96 208.0,858.75 209.0,858.46 210.0,858.33 211.0,858.43 212.0,859.16 213.0,859.01 214.0,858.74 215.0,858.57 216.0,859.04 217.0,859.24 218.0,859.06 219.0,858.95 220.0,859.36 221.0,859.64 222.0,859.05 223.0,858.94 224.0,859.27 225.0,859.4 226.0,859.69 227.0,859.31 228.0,859.91 229.0,859.92 230.0,859.65 231.0,859.32 232.0,859.95 233.0,859.3 234.0,859.7 235.0,859.11 236.0,859.05 237.06,859.39 238.12,858.84 239.18,859.29 240.24,858.74 241.3,858.32 242.36,858.29 243.42,858.41 244.48,858.57 245.54,858.76 246.6,857.98 247.6,858.22 248.6,858.07 249.6,858.77 250.6,858.03 251.6,857.97 252.6,857.99 253.6,858.3 254.64,858.6 255.68,858.43 256.72,858.13 257.76,858.21 258.8,857.99 259.86,857.27 260.92,856.96 261.98,857.45 263.04,857.1 264.1,856.28 265.27,857.01 266.43,856.92 267.6,857.09 268.77,856.58 269.93,855.97 271.1,855.35 272.27,854.44 273.43,853.33 274.6,852.71 275.77,852.09 276.93,852.98 278.1,852.44 279.27,851.97 280.43,851.79 281.6,851.19 282.77,850.74 283.93,850.29 285.1,850.58 286.4,850.04 287.7,850.08 288.85,850.72 290.0,852.18 291.0,854.29 292.0,855.14 293.0,857.12 294.3,857.48 295.6,857.44 296.77,856.22 297.93,855.65 299.1,855.11 300.27,854.81 301.43,853.15 302.6,852.52 303.77,851.96 304.93,850.76 306.1,850.0 307.27,850.01 308.43,849.11 309.6,848.19 310.8,849.24 312.0,849.53 312.9,851.7 313.8,853.65 314.97,854.9 316.13,855.61 317.3,855.92 318.47,857.07 319.63,857.11 320.8,858.16 321.97,858.81 323.13,859.68 324.3,860.11 325.47,859.16 326.63,858.61 327.8,858.34 328.97,857.53 330.13,857.05 331.3,855.51 332.47,855.51 333.63,854.88 334.8,854.39 336.1,852.75 337.4,851.0 338.57,850.65 339.73,850.54 340.9,850.48 342.2,851.7 343.5,851.92 344.85,850.98 346.2,850.43 347.5,851.22 348.8,852.31 349.97,853.31 351.13,854.81 352.3,855.64 353.47,856.93 354.63,857.55 355.8,858.34 356.97,858.06 358.13,858.26 359.3,858.64 360.36,859.14 361.42,859.47 362.48,859.37 363.54,859.32 364.6,859.63 365.77,859.11 366.93,858.46 368.1,857.82 369.27,858.01 370.43,857.95 371.6,857.56 372.77,858.11 373.93,857.51 375.1,857.66 376.27,857.59 377.43,858.01 378.6,857.63 379.77,856.97 380.93,856.27 382.1,855.49 383.27,856.05 384.43,855.67 385.6,855.34 386.77,855.64 387.93,856.41 389.1,856.21 390.27,856.99 391.43,858.54 392.6,859.44 393.77,860.04 394.93,859.54 396.1,860.18 397.27,860.19 398.43,859.91 399.6,859.67 400.66,858.97 401.72,859.27 402.78,859.2 403.84,859.34 404.9,860.13 406.07,858.77 407.23,858.09 408.4,856.59 409.57,856.16 410.73,854.92 411.9,853.88 413.07,855.38 414.23,856.57 415.4,856.85 416.57,858.12 417.73,858.97 418.9,859.45 419.94,859.68 420.98,859.58 422.02,859.73 423.06,859.88 424.1,860.29 425.16,860.34 426.22,859.93 427.28,859.76 428.34,860.04 429.4,860.36 430.0,859.92 431.06,859.67 432.12,859.21 433.18,859.39 434.24,858.8 435.3,858.01 436.47,857.87 437.63,857.97 438.8,857.95 439.84,858.13 440.88,857.73 441.92,857.9 442.96,858.48 444.0,858.32 445.3,856.45 446.6,854.73 447.95,854.01 449.3,852.13 450.47,852.36 451.63,852.17 452.8,852.22 453.97,852.93 455.13,853.35 456.3,853.08 457.47,853.33 458.63,854.21 459.8,854.13 460.97,854.42 462.13,855.69 463.3,855.73 464.6,857.14 465.9,857.82 467.2,858.09 468.5,857.56 469.67,857.4 470.83,857.36 472.0,857.95 473.35,856.83 474.7,855.87 476.0,855.28 477.3,855.91 478.47,855.98 479.63,856.4 480.8,856.38 481.97,856.8 483.13,857.32 484.3,857.98 485.47,857.95 486.63,858.99 487.8,859.97 488.97,860.45 490.13,860.09 491.3,860.36 492.36,860.9 493.42,860.73 494.48,860.08 495.54,859.5 496.6,860.08 497.77,859.17 498.93,859.2 500.1,858.51 501.27,858.29 502.43,857.29 503.6,857.46 504.7,856.6 505.8,856.41 506.9,856.46 508.0,856.1 509.3,855.96 510.6,856.45 511.9,857.91 513.2,859.32 514.3,859.42 515.4,859.41 516.5,859.75 517.6,860.4 518.66,860.66 519.72,859.99 520.78,860.56 521.84,860.83 522.9,860.28 523.94,860.72 524.98,859.8 526.02,859.95 527.06,859.63 528.1,859.41 529.27,858.66 530.43,858.29 531.6,857.97 532.77,857.53 533.93,857.44 535.1,856.95 536.27,857.24 537.43,857.17 538.6,858.01 539.66,858.03 540.72,857.94 541.78,858.56 542.84,858.71 543.9,858.56 544.92,858.41 545.95,858.78 546.98,858.55 548.0,858.67 549.0,858.69 550.0,858.13 551.0,858.2 552.0,858.01 553.0,857.94 554.0,858.82 555.0,858.67 556.0,859.61 557.0,859.55 558.0,859.21 559.0,858.7 560.0,859.0 561.0,858.79 562.0,859.21 563.0,858.37 564.0,858.92 565.0,859.25 566.0,859.21 567.0,859.48 568.0,859.12 569.0,859.77 570.0,859.26 571.0,859.61 572.0,859.51 573.0,858.77 574.0,859.26 575.0,859.39 576.0,858.61 577.0,858.87 578.0,859.23 579.0,858.69 580.0,859.36 581.0,858.8 582.0,859.28 583.0,858.68 584.0,859.0 585.0,859.38 586.0,858.74 587.0,858.79 588.0,859.01 589.0,858.84 590.0,858.58 591.0,858.71 592.0,858.7 593.0,859.39 594.0,859.16 595.0,859.36 596.0,858.7 597.0,859.21 598.0,858.55 599.0,858.88 600.0,858.92 601.0,858.62 602.0,859.04 603.0,858.7 604.0,858.67 605.0,858.54 606.0,857.44 607.0,857.84 608.0,857.12 609.0,855.9 610.0,855.27 611.0,853.79 612.0,854.44 613.0,854.07 614.0,855.17 615.0,856.84 616.0,856.35 617.0,855.91 618.0,856.22 619.0,855.74 620.0,856.59 621.0,856.23 622.0,856.73 623.0,857.84 624.0,858.28 625.0,859.15 626.0,857.83 627.0,856.55 628.0,855.58 629.0,853.68 630.0,852.1 631.0,849.94 632.0,847.31 633.0,844.96 633.92,844.27 634.83,844.35 635.75,844.74 636.67,844.17 637.58,844.15 638.5,844.47 639.42,844.25 640.33,844.47 641.25,844.35 642.17,844.68 643.08,844.68 644.0,844.33 645.0,847.91 646.0,850.98 647.0,853.87 648.0,857.79 649.0,857.57 650.0,857.88 651.0,858.24 652.0,859.12 653.0,859.58 654.0,859.75 655.0,859.66 656.0,859.79 657.0,859.46 658.0,859.93 659.0,859.76 660.0,859.47 661.0,859.63 662.0,859.35 663.0,859.13 664.0,858.28 665.0,857.17 666.0,854.96 667.0,851.39 668.0,849.03 669.2,846.52 670.4,843.96 671.7,844.2 673.0,845.25 674.0,846.23 675.0,848.38 676.0,850.4 677.0,850.18 678.0,850.73 679.2,849.3 680.4,847.41 681.4,849.13 682.4,850.88 683.7,852.51 685.0,855.0 685,861.1" fill="#fbcd4c"/>
<line x1="78" y1="861.1" x2="685" y2="861.1" stroke="#b89230" stroke-width="1.3" />
<line x1="76.3" y1="841.1" x2="76.3" y2="861.1" stroke="#444" stroke-width="1.5" />
<text x="81" y="846.4" font-size="6.0" fill="#444" textLength="23" lengthAdjust="spacingAndGlyphs" >[0 - 5.00]</text>
<text x="41.5" y="848.2" font-size="8.4" text-anchor="middle" fill="#222" textLength="58.1" lengthAdjust="spacingAndGlyphs" >ChIP-seq H-NS</text>
<text x="41.4" y="858.8" font-size="8.4" text-anchor="middle" fill="#222" textLength="65.7" lengthAdjust="spacingAndGlyphs" >(ChIP/Input, log2)</text>
<rect x="153.1" y="866.0" width="54.599999999999994" height="5.4" fill="#e0cf8a" />
<rect x="256.2" y="866.0" width="63.69999999999999" height="5.4" fill="#e0cf8a" />
<rect x="328.6" y="866.0" width="32.39999999999998" height="5.4" fill="#e0cf8a" />
<rect x="366.7" y="866.0" width="3.6000000000000227" height="5.4" fill="#e0cf8a" />
<rect x="373" y="866.0" width="2.3999999999999773" height="5.4" fill="#e0cf8a" />
<rect x="377.7" y="866.0" width="12.800000000000011" height="5.4" fill="#e0cf8a" />
<rect x="406.6" y="866.0" width="7.899999999999977" height="5.4" fill="#e0cf8a" />
<rect x="437" y="866.0" width="28" height="5.4" fill="#e0cf8a" />
<rect x="468.2" y="866.0" width="17.80000000000001" height="5.4" fill="#e0cf8a" />
<rect x="499.7" y="866.0" width="12.300000000000011" height="5.4" fill="#e0cf8a" />
<rect x="531.3" y="866.0" width="14.700000000000045" height="5.4" fill="#e0cf8a" />
<rect x="558.4" y="866.0" width="7.0" height="5.4" fill="#e0cf8a" />
<rect x="607.6" y="866.0" width="44.39999999999998" height="5.4" fill="#e0cf8a" />
<rect x="662.6" y="866.0" width="21.399999999999977" height="5.4" fill="#e0cf8a" />
<line x1="76.3" y1="865.2" x2="76.3" y2="872.2" stroke="#444" stroke-width="1.5" />
<line x1="77.5" y1="874.6" x2="685" y2="874.6" stroke="#555" stroke-width="1.2" />
<text x="72.6" y="870.8" font-size="8.4" text-anchor="end" fill="#222" textLength="28.8" lengthAdjust="spacingAndGlyphs" >MACS2</text>
<line x1="111.7" y1="713" x2="111.7" y2="875" stroke="#777" stroke-width="0.7" stroke-dasharray="1.2,1.6"/>
<line x1="669.5" y1="713" x2="669.5" y2="875" stroke="#777" stroke-width="0.7" stroke-dasharray="1.2,1.6"/>
<line x1="111.5" y1="899.4" x2="669.5" y2="899.4" stroke="#aaa" stroke-width="1.1" />
<line x1="111.5" y1="967.0" x2="669.5" y2="967.0" stroke="#aaa" stroke-width="1.1" />
<line x1="111.5" y1="899.4" x2="111.5" y2="967.0" stroke="#aaa" stroke-width="1.1" />
<line x1="669.5" y1="899.4" x2="669.5" y2="967.0" stroke="#aaa" stroke-width="1.1" />
<line x1="111.5" y1="967.0" x2="116.7" y2="967.0" stroke="#555" stroke-width="0.9" />
<line x1="664.3" y1="967.0" x2="669.5" y2="967.0" stroke="#555" stroke-width="0.9" />
<text x="109.2" y="969.6" font-size="7.3" text-anchor="end" fill="#333" >30</text>
<line x1="111.5" y1="953.48" x2="116.7" y2="953.48" stroke="#555" stroke-width="0.9" />
<line x1="664.3" y1="953.48" x2="669.5" y2="953.48" stroke="#555" stroke-width="0.9" />
<text x="109.2" y="956.08" font-size="7.3" text-anchor="end" fill="#333" >40</text>
<line x1="111.5" y1="939.96" x2="116.7" y2="939.96" stroke="#555" stroke-width="0.9" />
<line x1="664.3" y1="939.96" x2="669.5" y2="939.96" stroke="#555" stroke-width="0.9" />
<text x="109.2" y="942.5600000000001" font-size="7.3" text-anchor="end" fill="#333" >50</text>
<line x1="111.5" y1="926.4399999999999" x2="116.7" y2="926.4399999999999" stroke="#555" stroke-width="0.9" />
<line x1="664.3" y1="926.4399999999999" x2="669.5" y2="926.4399999999999" stroke="#555" stroke-width="0.9" />
<text x="109.2" y="929.04" font-size="7.3" text-anchor="end" fill="#333" >60</text>
<line x1="111.5" y1="912.92" x2="116.7" y2="912.92" stroke="#555" stroke-width="0.9" />
<line x1="664.3" y1="912.92" x2="669.5" y2="912.92" stroke="#555" stroke-width="0.9" />
<text x="109.2" y="915.52" font-size="7.3" text-anchor="end" fill="#333" >70</text>
<line x1="111.5" y1="899.4" x2="116.7" y2="899.4" stroke="#555" stroke-width="0.9" />
<line x1="664.3" y1="899.4" x2="669.5" y2="899.4" stroke="#555" stroke-width="0.9" />
<text x="109.2" y="902.0" font-size="7.3" text-anchor="end" fill="#333" >80</text>
<line x1="125.6" y1="967.0" x2="125.6" y2="962.6" stroke="#444" stroke-width="0.9" />
<line x1="191.8" y1="967.0" x2="191.8" y2="962.6" stroke="#444" stroke-width="0.9" />
<line x1="258.0" y1="967.0" x2="258.0" y2="962.6" stroke="#444" stroke-width="0.9" />
<line x1="324.20000000000005" y1="967.0" x2="324.20000000000005" y2="962.6" stroke="#444" stroke-width="0.9" />
<line x1="390.4" y1="967.0" x2="390.4" y2="962.6" stroke="#444" stroke-width="0.9" />
<line x1="456.6" y1="967.0" x2="456.6" y2="962.6" stroke="#444" stroke-width="0.9" />
<line x1="522.8000000000001" y1="967.0" x2="522.8000000000001" y2="962.6" stroke="#444" stroke-width="0.9" />
<line x1="589.0" y1="967.0" x2="589.0" y2="962.6" stroke="#444" stroke-width="0.9" />
<line x1="655.2" y1="967.0" x2="655.2" y2="962.6" stroke="#444" stroke-width="0.9" />
<text x="128.29999999999998" y="976.7" font-size="7.1" text-anchor="middle" fill="#222" textLength="25.4" lengthAdjust="spacingAndGlyphs" >3030 kb</text>
<text x="260.7" y="976.7" font-size="7.1" text-anchor="middle" fill="#222" textLength="25.4" lengthAdjust="spacingAndGlyphs" >3040 kb</text>
<text x="393.09999999999997" y="976.7" font-size="7.1" text-anchor="middle" fill="#222" textLength="25.4" lengthAdjust="spacingAndGlyphs" >3050 kb</text>
<text x="525.5000000000001" y="976.7" font-size="7.1" text-anchor="middle" fill="#222" textLength="25.4" lengthAdjust="spacingAndGlyphs" >3060 kb</text>
<text x="657.9000000000001" y="976.7" font-size="7.1" text-anchor="middle" fill="#222" textLength="25.4" lengthAdjust="spacingAndGlyphs" >3070 kb</text>
<line x1="111.5" y1="943" x2="669.5" y2="943" stroke="#e0703a" stroke-width="1.8" stroke-dasharray="4.3,4.3" stroke-dashoffset="4.6"/>
<polyline points="111.8,941.77 112.6,952.24 113.25,952.44 113.9,955.69 114.6,949.24 115.3,942.9 116.0,940.47 116.7,942.36 117.3,941.69 117.9,940.5 118.5,944.78 119.1,947.47 119.8,948.98 120.5,950.79 121.1,949.42 121.7,947.14 122.3,946.24 123.0,945.2 123.7,942.85 124.3,939.77 124.9,935.89 125.5,942.54 126.1,951.25 126.65,953.07 127.2,956.21 127.8,952.42 128.4,948.64 129.0,947.5 129.6,946.2 130.3,945.46 131.0,948.66 131.6,946.81 132.2,948.06 132.8,948.56 133.37,951.75 133.93,954.08 134.5,955.29 135.1,951.18 135.7,949.8 136.3,945.32 136.87,942.74 137.43,942.27 138.0,939.17 138.6,942.27 139.2,945.13 139.8,948.94 140.37,950.11 140.93,953.75 141.5,955.95 142.1,951.47 142.7,945.36 143.3,941.23 143.87,940.2 144.43,938.86 145.0,937.99 145.6,941.78 146.2,942.88 146.8,947.85 147.37,942.77 147.93,939.51 148.5,936.8 149.1,940.0 149.7,939.27 150.3,939.6 150.87,941.61 151.43,943.98 152.0,948.14 152.6,946.21 153.2,944.62 153.8,942.96 154.5,934.93 155.2,930.25 155.8,926.12 156.4,923.89 157.0,920.39 157.57,923.53 158.13,924.15 158.7,929.33 159.3,929.16 159.9,928.94 160.5,926.3 161.03,928.98 161.55,931.11 162.07,933.3 162.6,937.97 163.17,934.11 163.73,929.84 164.3,926.61 164.9,927.5 165.5,927.97 166.1,928.88 166.67,931.21 167.23,935.39 167.8,936.17 168.33,930.59 168.85,924.99 169.38,917.96 169.9,912.72 170.5,916.59 171.1,921.6 171.7,924.43 172.27,927.8 172.83,933.1 173.4,935.31 173.97,938.91 174.55,940.88 175.12,941.86 175.7,945.56 176.27,942.12 176.83,939.56 177.4,934.87 178.0,932.94 178.6,929.54 179.2,925.71 179.8,924.61 180.4,919.55 181.0,918.7 181.57,918.04 182.13,918.74 182.7,920.47 183.3,923.77 183.9,926.1 184.5,925.11 185.07,922.11 185.63,917.74 186.2,914.23 186.77,917.12 187.35,922.58 187.93,926.77 188.5,932.73 189.07,928.2 189.63,927.18 190.2,922.39 190.8,920.47 191.4,920.09 192.0,917.8 192.57,917.27 193.13,919.32 193.7,918.33 194.22,920.76 194.75,920.95 195.28,921.65 195.8,921.66 196.4,918.56 197.0,916.36 197.6,914.0 198.17,913.33 198.73,909.01 199.3,909.19 199.9,910.0 200.5,913.74 201.1,917.14 201.7,922.72 202.3,925.4 202.9,928.86 203.47,929.38 204.03,926.65 204.6,926.39 205.2,930.69 205.8,935.41 206.4,939.51 206.97,938.04 207.53,936.04 208.1,934.81 208.7,932.3 209.3,932.19 209.9,929.65 210.47,929.28 211.03,927.07 211.6,927.23 212.2,930.2 212.8,931.69 213.4,932.45 213.97,935.46 214.53,938.71 215.1,938.97 215.7,936.2 216.3,933.88 216.9,932.37 217.47,931.3 218.03,927.9 218.6,926.44 219.2,931.66 219.8,936.85 220.4,942.36 221.1,945.75 221.8,950.62 222.37,946.13 222.93,944.23 223.5,939.44 224.03,934.41 224.55,933.54 225.07,927.86 225.6,925.38 226.2,928.22 226.8,928.86 227.4,929.85 228.0,931.62 228.7,935.35 229.4,940.99 229.95,942.55 230.5,945.88 231.2,941.54 231.9,935.7 232.47,934.12 233.03,932.61 233.6,929.74 234.3,929.6 235.0,930.37 235.6,932.23 236.2,933.66 236.8,937.29 237.37,934.4 237.93,933.01 238.5,931.14 239.1,931.57 239.7,933.74 240.3,936.0 240.87,933.91 241.43,932.21 242.0,932.42 242.6,935.2 243.2,937.23 243.8,939.36 244.37,941.25 244.93,942.24 245.5,943.6 246.1,941.6 246.7,939.74 247.3,939.16 247.87,935.34 248.43,933.91 249.0,932.59 249.6,936.5 250.2,940.36 250.8,943.4 251.37,942.12 251.93,940.44 252.5,939.14 253.1,937.38 253.7,936.96 254.3,936.5 254.87,933.55 255.43,934.0 256.0,933.48 256.6,929.76 257.2,927.4 257.8,926.13 258.37,921.17 258.93,920.25 259.5,916.85 260.1,918.89 260.7,919.63 261.3,918.75 261.87,917.85 262.43,919.44 263.0,919.61 263.6,923.04 264.2,925.4 264.8,928.69 265.37,932.12 265.93,934.16 266.5,936.75 267.1,935.35 267.7,930.39 268.3,928.82 268.87,927.7 269.43,928.44 270.0,926.34 270.6,930.22 271.2,929.93 271.8,930.56 272.5,923.27 273.2,915.72 273.8,911.59 274.4,909.67 275.0,912.88 275.6,916.86 276.2,919.09 276.77,920.01 277.33,921.06 277.9,923.68 278.5,927.73 279.1,930.08 279.7,932.71 280.27,929.11 280.83,922.73 281.4,916.99 282.05,913.26 282.7,911.57 283.27,915.73 283.83,919.31 284.4,922.91 285.1,921.42 285.8,918.73 286.32,919.7 286.85,916.89 287.38,916.59 287.9,915.99 288.6,919.09 289.3,921.21 289.9,924.52 290.5,929.04 291.1,931.65 291.67,935.37 292.23,935.76 292.8,938.88 293.4,939.32 294.0,941.69 294.6,943.41 295.17,940.09 295.73,935.62 296.3,931.31 296.9,931.55 297.5,928.55 298.1,926.69 298.67,927.71 299.23,929.08 299.8,929.8 300.4,931.85 301.0,933.38 301.6,934.01 302.17,931.8 302.73,927.79 303.3,921.76 303.9,926.25 304.5,928.8 305.1,930.8 305.67,926.09 306.23,925.13 306.8,921.67 307.4,921.68 308.0,923.4 308.6,927.76 309.17,924.6 309.73,921.13 310.3,918.38 310.9,920.83 311.5,923.42 312.1,927.27 312.67,928.14 313.23,929.66 313.8,933.83 314.4,932.05 315.0,928.84 315.6,929.4 316.12,925.75 316.65,923.39 317.18,920.22 317.7,918.0 318.4,922.11 319.1,926.65 319.7,929.22 320.3,934.97 320.9,938.89 321.47,939.18 322.03,938.03 322.6,938.97 323.2,937.75 323.8,936.64 324.4,936.26 324.97,936.59 325.53,938.18 326.1,937.56 326.8,942.21 327.5,944.8 328.02,940.53 328.55,935.29 329.08,930.16 329.6,925.82 330.2,925.15 330.8,929.22 331.4,929.91 331.97,929.01 332.53,928.13 333.1,927.45 333.7,927.92 334.3,929.81 334.9,933.09 335.47,928.28 336.03,927.52 336.6,925.18 337.2,921.45 337.8,921.04 338.4,919.21 338.97,921.64 339.53,921.69 340.1,925.25 340.7,924.8 341.3,925.59 341.9,927.61 342.42,923.09 342.94,922.91 343.46,920.55 343.98,917.65 344.5,917.01 345.1,918.86 345.7,922.4 346.3,925.77 346.8,925.56 347.3,923.09 347.8,922.82 348.32,921.48 348.85,920.55 349.38,920.01 349.9,917.22 350.47,921.05 351.03,922.2 351.6,924.81 352.3,928.96 353.0,934.42 353.7,940.58 354.4,944.53 355.0,941.98 355.6,937.76 356.2,934.79 356.77,935.9 357.33,937.88 357.9,939.18 358.42,936.75 358.95,931.81 359.48,930.87 360.0,928.48 360.52,930.38 361.05,931.84 361.58,935.39 362.1,937.42 362.68,939.68 363.25,943.48 363.82,944.35 364.4,946.24 364.97,943.11 365.53,939.95 366.1,935.61 366.7,931.83 367.3,928.06 367.9,924.45 368.5,927.97 369.1,932.01 369.7,934.5 370.27,938.1 370.83,939.85 371.4,943.04 371.97,937.68 372.55,934.41 373.12,930.5 373.7,929.07 374.27,932.96 374.83,935.74 375.4,938.43 376.0,938.54 376.6,937.27 377.2,935.47 377.77,936.39 378.33,938.28 378.9,940.38 379.5,938.33 380.1,936.87 380.7,935.7 381.23,934.76 381.75,930.55 382.27,930.24 382.8,927.01 383.37,928.4 383.93,931.5 384.5,932.01 385.2,930.32 385.9,926.35 386.6,921.64 387.3,919.18 387.83,924.42 388.37,930.06 388.9,934.85 389.5,939.58 390.1,945.55 390.6,947.02 391.1,950.87 391.6,951.99 392.17,949.49 392.73,946.78 393.3,944.41 393.9,941.65 394.5,935.41 395.1,933.11 395.8,935.05 396.5,941.63 397.07,941.89 397.63,943.92 398.2,948.21 398.8,942.78 399.4,940.05 400.0,934.42 400.7,931.39 401.4,930.77 401.97,932.93 402.53,935.66 403.1,937.64 403.7,937.6 404.3,940.89 404.9,942.89 405.47,939.86 406.03,938.84 406.6,934.61 407.2,936.0 407.8,934.71 408.4,932.13 408.97,930.71 409.53,931.06 410.1,930.09 410.7,924.92 411.3,922.47 411.95,926.74 412.6,928.26 413.17,932.81 413.73,934.36 414.3,935.77 414.9,936.63 415.5,937.21 416.1,936.83 416.67,939.86 417.23,940.74 417.8,944.93 418.4,944.28 419.0,945.64 419.6,946.16 420.17,946.17 420.73,946.68 421.3,948.4 422.0,951.0 422.7,952.7 423.3,948.89 423.9,944.92 424.5,941.07 425.07,941.86 425.63,939.34 426.2,937.92 426.9,941.83 427.6,947.9 428.2,947.17 428.8,944.99 429.4,942.58 429.97,942.36 430.53,943.3 431.1,945.19 431.7,944.92 432.3,946.95 432.9,947.88 433.47,945.18 434.03,941.39 434.6,936.39 435.2,933.87 435.8,932.87 436.4,931.58 437.0,930.58 437.6,929.75 438.2,928.48 438.77,925.25 439.33,926.6 439.9,925.67 440.5,927.56 441.1,928.47 441.7,929.37 442.27,930.98 442.83,930.86 443.4,930.52 444.0,933.49 444.6,934.24 445.2,935.84 445.77,938.92 446.33,941.37 446.9,941.46 447.5,938.9 448.1,935.31 448.7,929.26 449.27,927.97 449.83,925.83 450.4,922.9 451.0,923.35 451.6,924.65 452.2,927.2 452.77,928.48 453.33,928.72 453.9,928.85 454.5,929.69 455.1,928.43 455.7,925.75 456.27,929.66 456.83,933.48 457.4,936.38 458.0,934.76 458.6,934.03 459.2,933.75 459.77,933.53 460.33,934.44 460.9,935.31 461.5,935.3 462.1,932.88 462.7,931.98 463.27,934.46 463.83,937.71 464.4,939.62 464.9,941.07 465.4,945.49 466.0,945.5 466.6,946.5 467.2,944.44 467.8,941.34 468.4,936.04 468.97,935.54 469.53,933.1 470.1,931.85 470.7,931.62 471.3,932.83 471.9,936.67 472.47,934.56 473.03,931.73 473.6,930.19 474.2,929.33 474.8,930.78 475.4,929.79 476.0,927.75 476.6,923.75 477.3,925.24 478.0,927.0 478.6,925.58 479.2,925.54 479.8,926.56 480.37,927.37 480.93,927.97 481.5,928.74 482.1,931.93 482.7,934.57 483.3,935.18 483.87,933.62 484.43,930.58 485.0,925.28 485.7,932.02 486.4,936.71 487.05,941.24 487.7,948.89 488.27,948.65 488.83,951.25 489.4,953.19 490.0,955.83 490.6,956.78 491.2,954.27 491.8,952.69 492.4,950.15 492.97,949.47 493.53,946.61 494.1,941.52 494.7,939.84 495.3,939.28 495.9,938.39 496.6,938.63 497.3,937.33 497.87,940.34 498.43,941.33 499.0,946.6 499.6,943.45 500.2,940.34 500.8,938.36 501.37,932.86 501.93,930.21 502.5,929.01 503.1,931.86 503.7,933.46 504.3,934.74 504.87,934.39 505.43,933.69 506.0,930.7 506.6,931.87 507.2,932.25 507.8,932.45 508.5,928.2 509.2,922.07 509.8,925.2 510.4,927.87 511.0,932.3 511.57,932.17 512.13,935.87 512.7,936.15 513.3,936.9 513.9,940.6 514.5,939.82 515.07,942.98 515.63,943.96 516.2,945.19 516.8,945.99 517.4,949.75 518.0,951.67 518.57,951.67 519.13,949.09 519.7,946.16 520.3,943.93 520.9,941.88 521.5,941.5 522.07,942.27 522.63,944.43 523.2,944.8 523.8,946.19 524.4,946.89 525.0,949.9 525.52,950.1 526.05,949.61 526.58,952.29 527.1,951.25 527.67,948.45 528.23,944.54 528.8,941.66 529.4,939.75 530.0,934.84 530.6,930.87 531.17,932.94 531.73,933.62 532.3,936.43 532.9,931.29 533.5,930.77 534.1,925.26 534.67,925.87 535.23,923.5 535.8,920.49 536.4,923.57 537.0,925.37 537.6,927.62 538.17,930.36 538.73,933.72 539.3,938.37 539.9,936.06 540.5,933.52 541.1,928.87 541.67,932.34 542.23,936.98 542.8,937.56 543.32,937.03 543.85,933.42 544.38,932.94 544.9,927.84 545.5,933.26 546.1,935.15 546.7,937.79 547.27,935.37 547.83,935.66 548.4,932.77 549.0,933.25 549.6,935.39 550.2,938.15 550.77,934.78 551.33,934.33 551.9,931.69 552.5,933.84 553.1,937.52 553.7,939.39 554.3,938.55 554.9,938.82 555.5,939.44 556.07,941.47 556.63,941.72 557.2,941.67 557.8,938.54 558.4,936.75 559.0,934.08 559.57,932.64 560.13,930.27 560.7,927.47 561.3,925.32 561.9,925.42 562.5,922.74 563.07,923.05 563.63,920.62 564.2,922.17 564.8,922.57 565.4,925.72 566.0,927.52 566.57,929.98 567.13,932.14 567.7,938.15 568.3,935.77 568.9,935.71 569.5,932.85 570.07,933.79 570.63,936.76 571.2,936.63 571.8,934.89 572.4,934.31 573.0,933.77 573.57,932.11 574.13,933.56 574.7,933.35 575.21,933.58 575.72,932.52 576.23,934.22 576.74,934.55 577.25,934.73 577.75,933.24 578.26,934.38 578.77,933.5 579.28,934.57 579.79,932.68 580.3,934.99 580.81,935.26 581.32,934.02 581.83,934.11 582.34,934.2 582.85,934.26 583.35,932.85 583.86,935.55 584.37,933.5 584.88,933.43 585.39,933.25 585.9,933.7 586.5,936.15 587.1,934.82 587.7,935.87 588.27,936.39 588.83,933.81 589.4,932.15 590.0,935.54 590.6,937.25 591.2,938.86 591.73,938.49 592.25,935.94 592.77,937.21 593.3,935.91 593.87,932.26 594.43,930.71 595.0,929.98 595.7,929.15 596.4,927.68 597.0,929.88 597.6,933.3 598.2,935.18 598.77,935.29 599.33,934.88 599.9,931.71 600.6,931.15 601.3,929.89 601.9,930.86 602.5,935.31 603.1,938.23 603.67,935.82 604.23,935.04 604.8,935.35 605.4,933.91 606.0,932.97 606.6,933.94 607.2,934.91 607.8,935.11 608.4,936.27 608.97,934.2 609.53,932.15 610.1,931.35 610.7,927.35 611.3,924.16 611.9,920.38 612.4,919.61 612.9,916.52 613.4,916.95 614.0,922.55 614.6,926.85 615.2,929.3 615.77,932.12 616.33,935.04 616.9,936.62 617.5,933.02 618.1,927.66 618.7,924.61 619.27,925.98 619.83,925.79 620.4,927.29 621.0,926.68 621.6,923.21 622.2,920.72 622.77,923.37 623.33,927.37 623.9,931.08 624.5,934.01 625.1,934.56 625.7,939.2 626.27,935.81 626.83,934.63 627.4,931.17 628.0,931.92 628.6,932.99 629.2,932.14 629.8,929.33 630.4,928.32 631.0,926.31 631.57,928.36 632.13,927.11 632.7,927.76 633.3,926.38 633.9,922.57 634.5,921.56 635.07,921.41 635.63,919.01 636.2,917.15 636.9,913.31 637.6,909.09 638.2,911.52 638.8,914.95 639.5,921.97 640.2,929.42 640.8,925.07 641.4,920.07 642.0,915.28 642.6,910.9 643.2,908.23 643.8,911.12 644.4,912.54 645.0,914.5 645.57,919.39 646.13,922.8 646.7,928.89 647.3,931.69 647.9,935.43 648.5,939.12 649.1,942.66 649.7,946.17 650.3,940.41 650.9,934.79 651.5,930.03 652.2,926.17 652.9,923.24 653.47,923.97 654.03,927.25 654.6,931.01 655.2,932.8 655.8,937.23 656.4,940.58 656.97,938.8 657.53,939.57 658.1,936.43 658.7,936.6 659.3,933.71 659.9,932.29 660.47,938.07 661.03,940.4 661.6,942.87 662.2,940.85 662.8,938.07 663.4,935.96 664.1,931.16 664.8,928.43 665.5,936.19 666.2,941.27 666.7,943.98 667.2,948.84 667.75,945.39 668.3,942.79 668.8,939.13 669.3,935.3" fill="none" stroke="#111" stroke-width="1.35" stroke-linejoin="round" />
<text x="87.4" y="937.5" font-size="10.4" text-anchor="middle" fill="#222" textLength="67" lengthAdjust="spacingAndGlyphs" transform="rotate(-90 87.4 937.5)" >AT content (%)</text>
<text x="345.4" y="990.5" font-size="9.8" fill="#222" textLength="89.5" lengthAdjust="spacingAndGlyphs" >Genomic coordinates</text>
</svg>
</body></html>
